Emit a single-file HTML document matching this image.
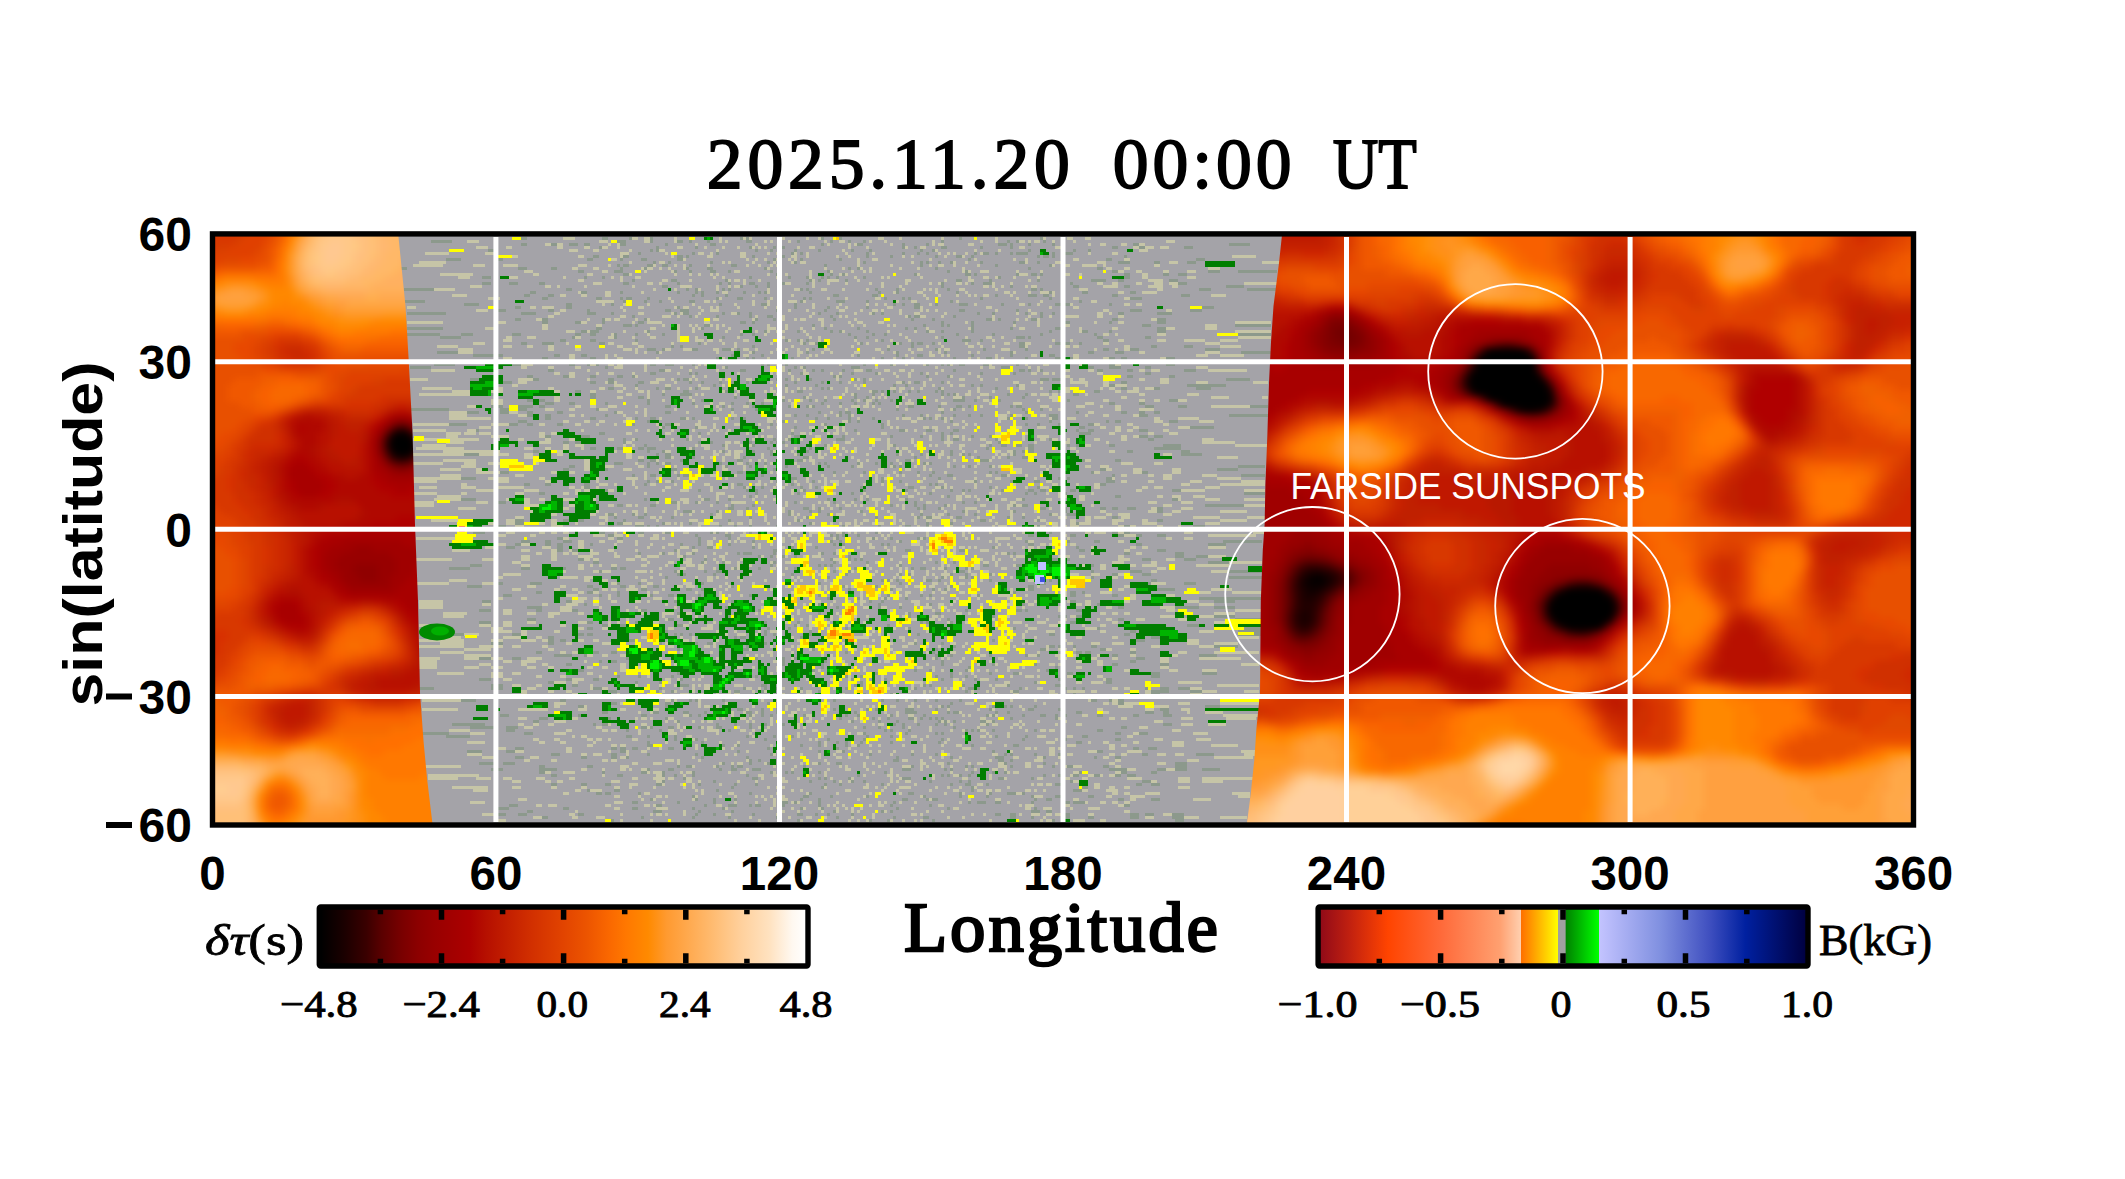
<!DOCTYPE html><html><head><meta charset="utf-8"><style>html,body{margin:0;padding:0;background:#fff;width:2125px;height:1179px;overflow:hidden}svg{display:block}</style></head><body>
<svg width="2125" height="1179" viewBox="0 0 2125 1179">
<defs>
<clipPath id="cl"><polygon points="213.0,235.0 398.3,235.0 405.5,306.0 408.5,357.0 412.6,434.0 415.0,525.0 418.0,601.0 420.0,693.0 423.6,742.0 427.2,780.0 432.5,824.0 213.0,824.0"/></clipPath>
<clipPath id="cr"><polygon points="1282.0,235.0 1279.0,263.0 1273.5,306.0 1271.0,342.0 1269.0,383.0 1267.4,434.0 1265.4,485.0 1264.6,525.0 1262.8,550.0 1260.8,601.0 1260.0,693.0 1256.4,729.0 1254.4,759.0 1250.6,795.0 1246.8,824.0 1913.0,824.0 1913.0,235.0"/></clipPath>
<clipPath id="cm"><rect x="213" y="235" width="1700" height="589"/></clipPath>
<filter id="bl" x="-2%" y="-2%" width="104%" height="104%" color-interpolation-filters="sRGB"><feGaussianBlur stdDeviation="3.5"/></filter><filter id="bm" x="-1%" y="-1%" width="102%" height="102%" color-interpolation-filters="sRGB"><feGaussianBlur stdDeviation="0.6"/></filter>
</defs>
<g clip-path="url(#cm)">
<rect x="213" y="235" width="1700" height="589" fill="#a4a3a8"/>
<g filter="url(#bm)"><g transform="translate(215,238.5) scale(3)" fill="none" stroke-width="1"><path stroke="#8c998c" d="M0 0m102 0h2m25 0h2m7 0h1m6 0h1m29 0h1m1 0h1m24 0h1m5 0h1m39 0h1m26 0h1m-204 1h7m55 0h3m8 0h1m8 0h2m2 0h1m5 0h1m12 0h2m15 0h1m10 0h1m5 0h1m4 0h1m25 0h1m21 0h1m2 0h1m8 0h1m-175 1h2m8 0h2m4 0h3m2 0h2m10 0h2m13 0h1m14 0h2m35 0h1m11 0h2m13 0h1m7 0h1m23 0h3m1 0h1m5 0h1m7 0h1m26 0h2m30 0h7m-217 1h1m18 0h1m12 0h1m17 0h1m7 0h1m2 0h1m39 0h1m3 0h1m8 0h2m11 0h1m9 0h1m33 0h2m7 0h2m13 0h3m-235 1h3m51 0h1m1 0h1m32 0h1m4 0h1m7 0h1m7 0h1m10 0h1m5 0h1m16 0h1m3 0h1m31 0h1m14 0h1m4 0h1m-151 1h1m17 0h1m7 0h1m24 0h1m2 0h1m21 0h1m11 0h1m4 0h1m2 0h1m15 0h1m2 0h2m2 0h1m4 0h1m1 0h4m8 0h1m3 0h3m-160 1h2m8 0h2m16 0h2m1 0h1m21 0h1m9 0h1m27 0h1m7 0h1m14 0h1m6 0h2m3 0h1m21 0h1m1 0h2m1 0h1m23 0h1m-227 1h5m11 0h3m28 0h2m9 0h1m6 0h2m10 0h2m30 0h1m8 0h1m12 0h1m42 0h1m45 0h2m28 0h3m-184 1h1m4 0h1m13 0h1m18 0h1m8 0h1m22 0h1m18 0h1m1 0h1m3 0h1m3 0h1m9 0h1m12 0h2m4 0h1m26 0h4m8 0h2m9 0h3m-193 1h1m1 0h2m6 0h2m3 0h2m7 0h1m13 0h2m29 0h1m31 0h1m24 0h1m17 0h1m-217 1h2m37 0h3m8 0h2m21 0h1m7 0h1m13 0h1m6 0h2m17 0h1m27 0h1m2 0h1m25 0h1m30 0h1m22 0h2m-175 1h2m10 0h3m17 0h1m4 0h1m6 0h2m4 0h1m13 0h1m18 0h1m39 0h1m5 0h1m48 0h2m30 0h4m6 0h13m-218 1h2m49 0h1m17 0h1m3 0h1m23 0h1m16 0h2m1 0h1m13 0h1m4 0h2m1 0h1m27 0h2m11 0h2m3 0h3m-235 1h3m31 0h1m5 0h1m48 0h1m12 0h1m5 0h1m4 0h1m1 0h1m2 0h1m8 0h1m44 0h1m20 0h1m20 0h2m-166 1h1m12 0h2m16 0h1m27 0h1m2 0h1m8 0h1m36 0h2m9 0h1m15 0h1m17 0h5m4 0h2m15 0h3m-232 1h3m6 0h3m7 0h2m26 0h2m16 0h1m13 0h1m2 0h1m6 0h2m4 0h1m4 0h1m7 0h1m44 0h1m9 0h1m3 0h3m26 0h1m35 0h3m-175 1h2m24 0h1m4 0h1m3 0h1m57 0h1m22 0h1m20 0h2m15 0h2m32 0h6m-280 1h10m44 0h2m38 0h1m2 0h1m8 0h1m1 0h1m23 0h1m1 0h1m22 0h1m6 0h1m16 0h1m27 0h2m1 0h1m52 0h4m12 0h10m-249 1h2m15 0h2m11 0h1m18 0h1m5 0h1m1 0h1m4 0h1m8 0h1m4 0h1m1 0h1m14 0h1m22 0h1m5 0h1m19 0h1m30 0h1m10 0h2m14 0h2m-204 1h2m6 0h2m46 0h1m2 0h1m7 0h1m35 0h2m11 0h2m39 0h1m10 0h3m2 0h2m21 0h2m21 0h3m-216 1h2m16 0h2m6 0h1m1 0h2m5 0h1m22 0h1m6 0h2m7 0h1m12 0h1m1 0h1m24 0h1m5 0h1m1 0h1m23 0h1m22 0h1m26 0h4m-246 1h7m66 0h1m6 0h1m4 0h1m9 0h2m35 0h1m11 0h3m7 0h1m27 0h1m42 0h1m-206 1h5m29 0h2m13 0h1m35 0h1m13 0h2m4 0h1m4 0h1m32 0h1m2 0h1m3 0h2m5 0h1m7 0h3m11 0h1m8 0h1m8 0h2m1 0h2m13 0h1m-199 1h2m15 0h2m35 0h1m38 0h1m10 0h1m12 0h1m15 0h2m94 0h4m-239 1h3m14 0h2m11 0h1m25 0h2m3 0h3m29 0h1m15 0h1m44 0h2m17 0h1m37 0h4m16 0h4m-265 1h13m25 0h5m17 0h3m5 0h1m20 0h1m2 0h2m11 0h1m4 0h1m3 0h1m22 0h1m5 0h1m11 0h1m2 0h1m31 0h1m4 0h1m10 0h1m4 0h1m3 0h1m21 0h2m11 0h5m-180 1h1m18 0h1m8 0h1m10 0h1m5 0h2m2 0h1m16 0h1m25 0h1m1 0h2m11 0h1m28 0h1m-176 1h2m7 0h2m18 0h1m13 0h1m36 0h1m5 0h1m1 0h1m17 0h1m25 0h1m6 0h1m17 0h2m2 0h1m10 0h2m25 0h2m13 0h3m-208 1h2m9 0h2m7 0h1m11 0h2m32 0h2m2 0h1m62 0h1m9 0h1m13 0h1m16 0h2m13 0h1m15 0h3m-181 1h3m1 0h1m22 0h2m34 0h1m36 0h1m5 0h1m1 0h1m7 0h1m56 0h3m28 0h12m-288 1h12m51 0h2m33 0h1m40 0h1m10 0h1m15 0h1m2 0h1m18 0h1m12 0h1m14 0h2m32 0h3m-195 1h2m1 0h3m16 0h1m38 0h1m10 0h1m10 0h1m2 0h1m8 0h1m19 0h1m4 0h1m9 0h1m25 0h1m10 0h2m7 0h1m15 0h3m-253 1h11m7 0h4m13 0h3m18 0h2m3 0h2m6 0h1m6 0h1m8 0h1m25 0h1m3 0h1m31 0h1m7 0h1m3 0h1m23 0h1m11 0h1m15 0h1m17 0h1m47 0h11m-277 1h7m37 0h1m13 0h1m35 0h1m43 0h1m3 0h1m24 0h1m24 0h3m1 0h1m22 0h2m14 0h2m-197 1h2m8 0h2m13 0h1m49 0h1m3 0h1m2 0h1m24 0h1m26 0h3m3 0h1m40 0h2m-196 1h2m5 0h4m15 0h2m31 0h1m34 0h1m3 0h1m14 0h1m12 0h1m3 0h1m1 0h2m3 0h1m28 0h2m10 0h2m1 0h2m3 0h1m-137 1h1m2 0h1m23 0h1m52 0h1m35 0h2m42 0h2m9 0h3m-182 1h3m2 0h1m9 0h2m8 0h3m2 0h1m24 0h1m24 0h1m15 0h1m15 0h1m13 0h1m25 0h2m7 0h3m22 0h5m-261 1h7m66 0h1m31 0h1m17 0h1m29 0h1m15 0h1m21 0h1m25 0h2m7 0h3m39 0h10m-266 1h10m17 0h2m7 0h2m48 0h1m9 0h1m31 0h1m12 0h1m6 0h2m16 0h1m12 0h1m12 0h2m-171 1h2m14 0h2m40 0h1m9 0h1m1 0h1m12 0h1m29 0h1m6 0h1m16 0h1m10 0h2m11 0h1m9 0h2m3 0h1m12 0h2m2 0h2m13 0h3m-239 1h5m13 0h3m4 0h3m2 0h2m34 0h1m12 0h1m12 0h1m23 0h1m53 0h1m-179 1h7m19 0h3m16 0h2m4 0h1m2 0h1m17 0h2m3 0h3m6 0h1m22 0h1m1 0h1m5 0h1m25 0h1m8 0h1m11 0h1m4 0h1m1 0h1m3 0h2m6 0h2m9 0h1m30 0h2m17 0h3m-255 1h7m58 0h1m39 0h1m22 0h1m2 0h1m15 0h3m47 0h3m26 0h2m5 0h4m8 0h2m-201 1h2m35 0h2m25 0h2m14 0h1m7 0h1m2 0h1m6 0h1m7 0h2m27 0h1m21 0h2m1 0h1m3 0h1m18 0h2m8 0h2m17 0h4m-182 1h2m11 0h1m1 0h1m34 0h1m16 0h1m7 0h1m14 0h1m19 0h1m10 0h1m43 0h2m-208 1h2m10 0h2m7 0h2m7 0h2m3 0h1m66 0h1m1 0h1m28 0h1m6 0h1m59 0h2m12 0h2m-235 1h3m18 0h2m23 0h2m21 0h1m1 0h2m29 0h1m2 0h1m7 0h1m14 0h1m2 0h1m58 0h3m1 0h3m55 0h8m-249 1h3m26 0h2m4 0h2m8 0h2m15 0h1m3 0h1m5 0h1m3 0h1m4 0h1m15 0h1m8 0h1m5 0h1m7 0h1m12 0h1m3 0h2m7 0h1m59 0h2m-164 1h1m25 0h1m23 0h1m9 0h1m25 0h1m3 0h1m21 0h1m2 0h1m11 0h1m30 0h2m24 0h13m-206 1h2m14 0h1m2 0h2m8 0h1m41 0h1m1 0h1m36 0h1m18 0h1m41 0h2m9 0h2m12 0h5m-212 1h2m34 0h2m12 0h1m23 0h2m23 0h2m1 0h1m3 0h1m4 0h1m2 0h1m5 0h1m1 0h1m35 0h1m2 0h1m11 0h2m-203 1h1m32 0h2m22 0h1m5 0h4m54 0h1m5 0h1m22 0h1m1 0h1m1 0h1m17 0h1m5 0h1m15 0h2m-163 1h2m14 0h2m30 0h1m14 0h1m7 0h1m16 0h1m3 0h1m31 0h1m8 0h1m10 0h1m-166 1h2m2 0h2m34 0h1m17 0h1m26 0h1m8 0h1m4 0h1m8 0h1m3 0h1m3 0h1m4 0h1m20 0h4m3 0h1m7 0h1m22 0h1m33 0h3m-211 1h3m5 0h2m10 0h1m13 0h1m14 0h1m12 0h1m4 0h1m4 0h1m19 0h1m5 0h1m4 0h1m5 0h1m1 0h1m76 0h2m8 0h2m-218 1h4m5 0h5m2 0h2m40 0h2m17 0h1m9 0h1m11 0h1m5 0h1m1 0h1m31 0h2m8 0h1m5 0h2m2 0h1m13 0h1m1 0h2m41 0h3m8 0h3m21 0h6m-286 1h13m17 0h3m3 0h3m23 0h1m44 0h1m7 0h1m46 0h1m18 0h1m22 0h1m5 0h1m-192 1h4m7 0h3m6 0h2m8 0h2m17 0h1m16 0h2m49 0h1m6 0h1m1 0h2m30 0h1m27 0h1m16 0h1m14 0h2m4 0h2m3 0h2m-211 1h2m4 0h2m18 0h1m62 0h1m3 0h1m10 0h1m2 0h1m17 0h1m5 0h1m10 0h1m4 0h1m3 0h1m9 0h1m12 0h3m27 0h3m27 0h13m-241 1h2m13 0h2m13 0h1m4 0h2m8 0h2m2 0h1m12 0h1m3 0h1m23 0h1m3 0h1m6 0h1m7 0h1m16 0h1m1 0h1m3 0h1m21 0h1m5 0h1m8 0h2m-180 1h3m40 0h1m44 0h1m21 0h1m2 0h1m30 0h1m32 0h1m18 0h1m2 0h2m16 0h3m-243 1h6m14 0h3m3 0h2m8 0h2m23 0h1m10 0h2m33 0h1m17 0h1m18 0h1m47 0h1m3 0h1m6 0h1m9 0h2m-144 1h1m10 0h1m32 0h1m28 0h1m65 0h2m35 0h8m-246 1h1m125 0h1m14 0h2m7 0h2m7 0h2m39 0h1m3 0h2m15 0h3m-183 1h2m31 0h1m30 0h1m49 0h1m2 0h1m42 0h4m-182 1h2m10 0h3m68 0h2m14 0h1m15 0h1m9 0h1m6 0h1m9 0h1m5 0h1m49 0h3m2 0h3m-180 1h1m3 0h1m16 0h1m28 0h1m4 0h1m15 0h3m32 0h1m3 0h2m12 0h1m17 0h1m32 0h2m-197 1h2m2 0h2m14 0h1m24 0h1m3 0h1m12 0h1m6 0h1m1 0h1m1 0h1m71 0h1m-119 1h1m25 0h1m9 0h1m23 0h1m22 0h1m31 0h1m3 0h2m3 0h2m2 0h2m11 0h1m2 0h1m10 0h2m16 0h6m-197 1h2m7 0h2m5 0h2m1 0h3m12 0h1m24 0h1m13 0h1m58 0h1m13 0h2m40 0h9m-216 1h2m36 0h1m4 0h1m19 0h1m9 0h1m5 0h1m11 0h1m47 0h1m20 0h1m2 0h1m1 0h2m31 0h2m16 0h3m-242 1h5m59 0h1m2 0h2m33 0h1m8 0h1m32 0h1m7 0h1m9 0h1m3 0h1m1 0h1m14 0h1m55 0h7m-179 1h2m7 0h1m16 0h1m11 0h1m7 0h2m35 0h1m20 0h1m9 0h1m4 0h2m-130 1h2m2 0h2m8 0h1m18 0h2m18 0h2m34 0h2m23 0h3m31 0h1m10 0h2m-169 1h3m8 0h1m2 0h1m2 0h2m16 0h1m8 0h1m5 0h1m17 0h1m1 0h1m10 0h1m5 0h1m4 0h1m10 0h1m1 0h1m-121 1h2m24 0h1m25 0h1m7 0h1m11 0h1m13 0h1m7 0h1m13 0h1m1 0h1m17 0h1m4 0h1m6 0h1m82 0h9m-234 1h2m12 0h1m21 0h2m32 0h1m108 0h2m37 0h7m-246 1h3m76 0h2m30 0h1m9 0h1m11 0h1m5 0h1m4 0h1m18 0h1m1 0h1m31 0h1m16 0h2m-172 1h1m5 0h2m7 0h1m1 0h2m24 0h1m55 0h1m5 0h2m16 0h2m35 0h1m42 0h8m-268 1h5m105 0h2m28 0h1m18 0h1m39 0h1m2 0h1m12 0h2m-155 1h1m2 0h1m4 0h1m34 0h1m11 0h1m22 0h1m5 0h1m24 0h1m11 0h1m7 0h2m22 0h3m-197 1h2m5 0h2m11 0h2m18 0h1m30 0h2m16 0h1m45 0h1m1 0h1m54 0h2m-174 1h2m51 0h1m5 0h1m12 0h1m4 0h1m14 0h1m15 0h2m9 0h1m15 0h1m15 0h1m-145 1h1m30 0h1m15 0h1m2 0h1m15 0h1m19 0h1m13 0h1m14 0h1m3 0h1m1 0h1m10 0h1m8 0h2m2 0h2m8 0h2m32 0h3m-214 1h2m70 0h1m13 0h1m17 0h1m25 0h1m31 0h1m2 0h1m8 0h2m59 0h7m-172 1h1m65 0h1m55 0h2m-220 1h5m56 0h1m19 0h2m6 0h1m32 0h1m8 0h1m3 0h1m12 0h1m38 0h1m49 0h2m-227 1h3m30 0h1m24 0h2m6 0h1m6 0h1m25 0h1m12 0h1m26 0h1m15 0h1m3 0h1m-120 1h2m9 0h2m25 0h1m6 0h1m45 0h1m7 0h1m2 0h1m6 0h1m22 0h1m2 0h2m59 0h13m-172 1h2m4 0h1m18 0h2m3 0h1m6 0h1m25 0h1m1 0h1m4 0h1m33 0h2m5 0h2m11 0h2m2 0h2m3 0h3m7 0h2m-160 1h3m8 0h1m23 0h1m6 0h1m2 0h1m13 0h1m33 0h1m16 0h1m15 0h2m30 0h2m-185 1h2m6 0h1m3 0h1m21 0h1m25 0h1m12 0h1m30 0h1m8 0h1m8 0h1m24 0h1m5 0h3m-154 1h1m7 0h2m9 0h1m25 0h1m18 0h1m22 0h1m13 0h1m2 0h2m8 0h2m15 0h1m4 0h1m29 0h2m-201 1h3m13 0h2m3 0h2m13 0h1m34 0h1m22 0h1m60 0h2m17 0h1m39 0h2m-216 1h3m31 0h2m13 0h1m8 0h1m39 0h1m38 0h1m7 0h1m41 0h1m-194 1h3m34 0h2m7 0h3m1 0h1m2 0h1m20 0h1m4 0h1m4 0h1m8 0h1m21 0h1m11 0h1m8 0h2m5 0h1m36 0h1m28 0h2m21 0h4m-263 1h4m29 0h5m43 0h1m13 0h1m16 0h1m17 0h1m19 0h1m40 0h1m6 0h1m37 0h2m41 0h4m-264 1h4m38 0h2m11 0h2m7 0h2m13 0h1m1 0h1m10 0h1m30 0h1m10 0h1m57 0h1m20 0h2m2 0h2m-174 1h2m27 0h1m9 0h2m33 0h1m1 0h1m1 0h1m4 0h1m56 0h2m12 0h2m14 0h2m4 0h2m5 0h3m-203 1h2m18 0h2m25 0h1m9 0h1m35 0h1m11 0h1m5 0h1m8 0h1m1 0h1m-135 1h3m5 0h2m4 0h3m42 0h1m17 0h1m25 0h1m2 0h1m19 0h1m41 0h1m13 0h1m8 0h2m41 0h13m-249 1h2m8 0h2m2 0h2m9 0h1m29 0h1m5 0h1m9 0h1m34 0h1m2 0h1m12 0h1m1 0h1m46 0h2m34 0h2m22 0h6m-240 1h3m14 0h2m43 0h1m4 0h2m13 0h1m8 0h1m3 0h1m7 0h1m58 0h1m27 0h1m-174 1h2m3 0h2m32 0h1m32 0h2m42 0h2m16 0h2m38 0h2m24 0h3m-176 1h1m7 0h1m9 0h1m14 0h1m1 0h3m7 0h1m15 0h1m3 0h1m57 0h1m1 0h1m36 0h2m15 0h3m-167 1h1m24 0h1m3 0h1m3 0h1m3 0h1m17 0h1m108 0h3m4 0h4m-210 1h2m40 0h1m41 0h1m5 0h1m1 0h1m1 0h1m63 0h2m3 0h1m24 0h3m11 0h4m-201 1h2m34 0h1m6 0h1m16 0h1m19 0h1m10 0h1m22 0h1m5 0h1m84 0h7m-253 1h4m96 0h1m15 0h1m1 0h1m1 0h1m22 0h1m27 0h2m9 0h2m23 0h1m-215 1h7m17 0h3m11 0h1m15 0h2m1 0h2m36 0h1m7 0h1m11 0h1m19 0h1m18 0h1m2 0h2m6 0h1m6 0h1m1 0h1m-125 1h1m24 0h1m9 0h1m3 0h2m37 0h1m4 0h1m36 0h2m42 0h1m12 0h4m29 0h11m-195 1h1m1 0h1m9 0h1m25 0h1m17 0h1m17 0h1m2 0h1m13 0h1m4 0h1m7 0h1m40 0h2m8 0h3m-162 1h1m53 0h1m37 0h1m7 0h1m1 0h1m39 0h1m45 0h11m-127 1h1m1 0h1m2 0h1m9 0h2m2 0h1m16 0h1m19 0h1m33 0h2m-221 1h3m9 0h4m25 0h1m6 0h1m20 0h1m38 0h1m26 0h1m46 0h2m34 0h1m11 0h4m-243 1h5m35 0h2m9 0h2m9 0h2m24 0h1m36 0h1m10 0h1m24 0h1m25 0h2m-147 1h2m14 0h2m13 0h2m3 0h1m48 0h1m13 0h1m13 0h1m3 0h1m27 0h2m41 0h6m-213 1h2m15 0h2m8 0h1m131 0h1m18 0h2m2 0h1m-194 1h3m29 0h1m5 0h1m10 0h1m5 0h2m8 0h1m16 0h1m22 0h1m22 0h1m10 0h1m2 0h1m15 0h1m30 0h2m12 0h2m-97 1h1m9 0h1m8 0h1m6 0h1m97 0h21m-260 1h3m25 0h2m34 0h1m18 0h1m45 0h1m3 0h1m62 0h2m46 0h7m-217 1h1m77 0h1m19 0h1m16 0h1m30 0h1m24 0h1m-191 1h5m61 0h1m17 0h1m18 0h1m13 0h1m6 0h1m72 0h2m17 0h8m5 0h7m-252 1h4m15 0h2m10 0h2m21 0h2m37 0h1m68 0h1m16 0h2m1 0h1m16 0h2m-135 1h1m46 0h1m29 0h1m8 0h2m-71 1h1m59 0h1m27 0h1m21 0h3m3 0h2m44 0h7m-236 1h3m44 0h2m6 0h1m44 0h1m39 0h1m56 0h2m37 0h9m-261 1h4m32 0h2m14 0h1m42 0h1m10 0h1m40 0h1m1 0h1m7 0h1m39 0h2m-158 1h2m4 0h2m17 0h2m37 0h1m3 0h1m26 0h1m99 0h4m-204 1h2m58 0h1m6 0h1m18 0h1m20 0h1m34 0h1m27 0h1m48 0h6m-199 1h1m32 0h1m14 0h1m106 0h2m34 0h8m-274 1h8m16 0h3m19 0h2m1 0h2m27 0h1m1 0h1m2 0h1m24 0h1m2 0h1m11 0h1m35 0h1m43 0h2m23 0h2m36 0h8m-238 1h2m60 0h1m1 0h2m18 0h1m116 0h3m-204 1h2m2 0h2m21 0h2m119 0h1m47 0h3m-218 1h4m15 0h2m35 0h1m11 0h1m3 0h2m17 0h1m21 0h1m27 0h1m8 0h1m-66 1h1m68 0h1m31 0h2m1 0h2m3 0h1m5 0h2m39 0h8m-187 1h1m21 0h2m21 0h1m40 0h1m34 0h2m18 0h2m-190 1h2m17 0h2m4 0h2m76 0h1m28 0h1m47 0h2m1 0h2m13 0h2m-194 1h6m4 0h1m116 0h1m4 0h1m12 0h1m11 0h1m3 0h1m24 0h2m27 0h6m-246 1h4m7 0h3m35 0h1m42 0h1m7 0h2m3 0h1m46 0h1m66 0h3m-182 1h1m3 0h2m18 0h1m36 0h1m13 0h1m38 0h1m62 0h2m-190 1h2m70 0h1m12 0h1m39 0h1m16 0h1m13 0h1m25 0h2m14 0h3m-116 1h1m48 0h1m28 0h1m-160 1h2m76 0h1m33 0h1m4 0h1m11 0h1m26 0h1m-124 1h1m65 0h1m24 0h1m12 0h1m7 0h2m16 0h2m26 0h3m14 0h5m-200 1h1m6 0h1m10 0h1m27 0h1m29 0h1m4 0h1m24 0h1m4 0h1m4 0h1m61 0h3m-227 1h4m25 0h2m7 0h2m27 0h1m56 0h1m10 0h1m18 0h1m10 0h1m6 0h1m20 0h2m14 0h2m-188 1h2m27 0h1m7 0h1m66 0h1m57 0h1m23 0h2m-207 1h4m23 0h2m34 0h3m24 0h2m29 0h1m1 0h1m20 0h1m1 0h1m10 0h1m14 0h1m15 0h3m-215 1h5m19 0h4m30 0h3m19 0h1m27 0h1m6 0h1m3 0h1m7 0h1m14 0h1m22 0h1m17 0h2m1 0h1m13 0h1m14 0h1m2 0h1m2 0h1m20 0h1m4 0h3m3 0h4m-194 1h3m13 0h1m4 0h1m20 0h2m7 0h1m18 0h1m48 0h1m15 0h2m44 0h6m7 0h4m-169 1h1m55 0h1m8 0h1m60 0h1m25 0h3m-187 1h1m29 0h1m56 0h1m7 0h1m4 0h2m11 0h1m19 0h2m42 0h3m21 0h6m-253 1h5m28 0h2m35 0h1m5 0h1m1 0h1m8 0h1m36 0h1m15 0h1m4 0h1m5 0h1m6 0h1m7 0h1m43 0h2m4 0h1m2 0h2m-171 1h2m16 0h2m32 0h1m60 0h1m55 0h2m-182 1h2m27 0h1m91 0h1m1 0h1m14 0h1m3 0h1m1 0h1m7 0h1m56 0h5m-161 1h2m6 0h1m4 0h1m18 0h1m10 0h1m2 0h1m9 0h3m7 0h1m17 0h1m12 0h2m8 0h2m32 0h3m-189 1h2m15 0h2m8 0h2m5 0h1m13 0h2m3 0h1m4 0h1m25 0h1m16 0h4m10 0h1m1 0h2m12 0h1m3 0h1m22 0h2m21 0h3m3 0h2m-223 1h3m23 0h1m20 0h2m14 0h1m2 0h1m16 0h1m3 0h1m2 0h1m10 0h1m13 0h1m3 0h1m10 0h1m10 0h1m20 0h1m1 0h1m9 0h1m5 0h2m3 0h1m2 0h1m10 0h2m10 0h2m8 0h3m-211 1h3m20 0h1m18 0h1m57 0h1m10 0h1m4 0h1m6 0h2m2 0h1m2 0h1m1 0h1m1 0h1m22 0h1m14 0h1m-175 1h2m46 0h1m57 0h1m8 0h1m5 0h1m13 0h1m1 0h1m2 0h1m8 0h2m2 0h1m-181 1h11m36 0h1m2 0h2m36 0h1m5 0h1m4 0h1m4 0h1m5 0h1m36 0h1m2 0h1m4 0h1m5 0h1m2 0h1m13 0h1m58 0h3m-234 1h9m3 0h4m41 0h2m1 0h1m5 0h2m8 0h1m5 0h2m9 0h1m37 0h1m4 0h1m7 0h1m16 0h1m55 0h2m-207 1h3m37 0h1m10 0h1m22 0h1m51 0h1m1 0h1m5 0h1m18 0h1m1 0h1m1 0h1m4 0h1m13 0h1m20 0h2m-227 1h9m25 0h3m110 0h1m13 0h1m9 0h1m1 0h1m57 0h2m6 0h3m-234 1h8m52 0h2m5 0h1m8 0h1m23 0h1m8 0h1m5 0h1m24 0h1m7 0h1m34 0h1m9 0h1m18 0h2m-138 1h1m6 0h1m22 0h1m20 0h1m11 0h1m25 0h1m26 0h1m13 0h1m16 0h2m-158 1h1m17 0h1m38 0h1m5 0h1m2 0h1m4 0h1m9 0h1m15 0h1m45 0h2m-145 1h2m23 0h1m4 0h1m20 0h1m5 0h1m8 0h1m3 0h1m37 0h1m13 0h2m-168 1h3m29 0h2m1 0h2m2 0h2m10 0h2m31 0h1m22 0h1m98 0h2m3 0h3m-230 1h5m8 0h3m35 0h2m37 0h1m26 0h1m7 0h1m49 0h1m34 0h2m-184 1h3m17 0h2m10 0h1m15 0h1m24 0h1m32 0h1m13 0h1m7 0h1m22 0h1m1 0h1m7 0h1m7 0h2m26 0h2m16 0h6m-233 1h3m19 0h2m8 0h2m3 0h1m24 0h1m14 0h1m10 0h1m38 0h1m17 0h1m14 0h3m13 0h1m16 0h1m6 0h2m-124 1h1m2 0h1m44 0h2m33 0h2m2 0h1m-178 1h5m3 0h4m69 0h1m8 0h1m5 0h1m16 0h1m5 0h2m35 0h1m18 0h1m12 0h1m43 0h4m-216 1h2m14 0h2m28 0h1m2 0h2m8 0h1m4 0h1m1 0h2m20 0h1m35 0h1m17 0h1m1 0h1m12 0h1m13 0h1m4 0h2m10 0h2m22 0h4m-232 1h4m12 0h6m30 0h1m6 0h2m15 0h1m3 0h2m5 0h3m47 0h3m11 0h1m1 0h1m52 0h6m10 0h3m3 0h4m5 0h6m-227 1h2m19 0h1m12 0h2m5 0h1m9 0h1m25 0h1m4 0h1m1 0h1m8 0h1m21 0h1m28 0h1m6 0h1m3 0h1m24 0h1m13 0h2m8 0h2m-202 1h2m20 0h2m13 0h1m3 0h1m5 0h1m17 0h1m36 0h1m27 0h1m1 0h1m3 0h1m2 0h1m24 0h1m4 0h2m3 0h2m5 0h2m5 0h2m2 0h3m-151 1h1m22 0h2m7 0h1m12 0h1m1 0h1m7 0h1m17 0h3m29 0h2m9 0h1m-124 1h1m16 0h1m31 0h1m7 0h1m5 0h1m3 0h1m21 0h1m9 0h1m2 0h1m33 0h1m23 0h3m-200 1h2m8 0h2m6 0h2m15 0h2m12 0h1m11 0h1m6 0h1m22 0h1m4 0h1m13 0h1m22 0h1m4 0h2m5 0h1m22 0h2m25 0h2m3 0h3m-143 1h1m29 0h1m49 0h1m36 0h2m-167 1h1m8 0h2m32 0h1m20 0h1m63 0h1m33 0h3m-162 1h2m1 0h2m9 0h1m36 0h1m19 0h1m32 0h2m15 0h1m9 0h1m5 0h3m2 0h1m-111 1h1m36 0h2m7 0h1m11 0h1m18 0h1m11 0h1m8 0h1m14 0h1m7 0h2m9 0h2m-148 1h1m14 0h1m5 0h1m6 0h1m21 0h1m5 0h1m27 0h2m6 0h1m1 0h2m32 0h1m3 0h2m3 0h1m18 0h2m9 0h3m-176 1h2m13 0h1m11 0h1m22 0h2m2 0h1m7 0h1m24 0h1m24 0h1m2 0h3m3 0h2m10 0h1m10 0h2m1 0h4m-192 1h3m46 0h2m14 0h1m7 0h3m4 0h1m1 0h2m7 0h1m11 0h1m23 0h1m12 0h1m64 0h2m-211 1h4m18 0h2m21 0h2m18 0h1m9 0h1m25 0h1m6 0h1m24 0h1m16 0h1m28 0h1m-170 1h2m40 0h3m12 0h1m10 0h1m33 0h1m15 0h1m2 0h1m46 0h3m2 0h2m-185 1h3m4 0h3m17 0h2m37 0h1m5 0h1m12 0h1m14 0h2m4 0h1m3 0h1m7 0h1m47 0h2m3 0h2m16 0h2m20 0h3m2 0h3m6 0h4m-214 1h2m31 0h1m16 0h1m11 0h1m15 0h1m19 0h1m18 0h1m9 0h2m27 0h2m5 0h1m10 0h2m6 0h2m12 0h3m11 0h4m-191 1h1m61 0h1m23 0h1m5 0h1m14 0h1m39 0h1m40 0h3"/><path stroke="#c6c5a7" d="M0 0m116 0h4m19 0h2m2 0h2m8 0h1m14 0h1m7 0h1m1 0h1m10 0h1m7 0h1m3 0h1m19 0h2m5 0h1m13 0h1m17 0h1m15 0h1m7 0h2m4 0h2m-208 1h4m40 0h3m12 0h2m8 0h1m14 0h1m1 0h1m12 0h1m1 0h1m5 0h1m11 0h1m4 0h2m8 0h1m4 0h1m15 0h1m15 0h1m4 0h1m7 0h2m1 0h1m1 0h2m4 0h1m6 0h1m30 0h3m-210 1h2m2 0h2m15 0h1m2 0h1m25 0h1m19 0h1m7 0h1m15 0h1m6 0h1m1 0h1m11 0h1m13 0h1m1 0h2m8 0h2m38 0h1m3 0h2m5 0h2m4 0h2m-223 1h4m6 0h2m15 0h2m7 0h2m4 0h2m3 0h1m19 0h2m7 0h1m5 0h1m4 0h1m4 0h1m1 0h1m1 0h1m10 0h1m3 0h2m11 0h1m5 0h1m12 0h1m4 0h2m31 0h2m10 0h2m24 0h2m2 0h3m2 0h3m-200 1h3m5 0h2m10 0h1m9 0h2m17 0h1m20 0h1m20 0h1m30 0h1m12 0h1m7 0h1m46 0h3m-241 1h8m12 0h4m41 0h3m12 0h1m10 0h2m2 0h1m9 0h2m7 0h1m2 0h1m5 0h1m3 0h1m12 0h1m8 0h1m21 0h1m2 0h1m1 0h1m3 0h1m4 0h1m35 0h1m7 0h2m-202 1h2m20 0h2m12 0h1m16 0h1m11 0h2m9 0h2m15 0h2m3 0h1m9 0h1m3 0h1m17 0h1m2 0h1m10 0h1m5 0h1m89 0h8m-215 1h2m22 0h1m20 0h1m2 0h1m2 0h1m3 0h1m3 0h1m1 0h1m20 0h1m4 0h2m17 0h1m14 0h1m12 0h1m3 0h1m11 0h1m3 0h2m15 0h2m-237 1h9m61 0h1m9 0h2m19 0h1m1 0h1m7 0h1m6 0h1m5 0h1m2 0h2m17 0h1m17 0h1m13 0h1m3 0h1m19 0h1m9 0h2m12 0h3m21 0h3m28 0h6m-289 1h10m10 0h4m6 0h5m20 0h3m7 0h1m14 0h1m6 0h1m2 0h1m7 0h1m12 0h1m3 0h1m3 0h1m1 0h1m26 0h1m10 0h1m12 0h1m2 0h2m3 0h1m7 0h1m24 0h1m3 0h2m4 0h5m2 0h1m16 0h2m-196 1h2m5 0h2m14 0h1m1 0h2m2 0h1m2 0h1m4 0h1m27 0h1m18 0h1m5 0h1m5 0h1m2 0h1m9 0h1m5 0h1m14 0h1m47 0h2m4 0h2m26 0h4m-232 1h3m23 0h2m12 0h1m8 0h1m20 0h2m13 0h1m9 0h1m6 0h1m6 0h1m3 0h1m1 0h1m30 0h1m1 0h1m3 0h3m9 0h1m7 0h1m6 0h1m18 0h2m4 0h2m7 0h2m6 0h3m-252 1h11m20 0h2m16 0h2m12 0h1m14 0h1m4 0h1m2 0h1m3 0h1m1 0h1m16 0h1m3 0h1m1 0h1m7 0h1m9 0h1m1 0h1m23 0h1m33 0h3m12 0h2m3 0h1m20 0h2m-230 1h4m13 0h3m15 0h1m15 0h1m2 0h1m4 0h2m24 0h1m2 0h1m17 0h1m10 0h1m14 0h1m8 0h1m1 0h1m10 0h1m15 0h1m4 0h2m2 0h1m5 0h1m7 0h1m34 0h2m13 0h3m-206 1h2m12 0h1m13 0h2m7 0h1m12 0h1m1 0h2m1 0h1m4 0h1m6 0h1m10 0h1m4 0h4m6 0h1m15 0h2m11 0h1m7 0h2m18 0h1m39 0h5m-190 1h3m15 0h2m2 0h1m27 0h1m13 0h2m7 0h1m4 0h1m5 0h1m7 0h1m3 0h1m7 0h1m7 0h1m2 0h1m5 0h2m1 0h1m8 0h1m5 0h1m28 0h2m3 0h2m6 0h2m4 0h3m2 0h3m22 0h11m-269 1h4m21 0h2m2 0h1m8 0h1m15 0h1m15 0h4m8 0h1m3 0h1m1 0h2m24 0h1m22 0h1m5 0h1m27 0h2m1 0h1m2 0h1m7 0h1m1 0h2m8 0h1m13 0h5m10 0h5m3 0h2m-248 1h7m66 0h1m6 0h1m7 0h1m5 0h1m16 0h1m8 0h2m7 0h2m5 0h1m7 0h1m11 0h1m6 0h1m1 0h1m1 0h1m7 0h2m10 0h1m27 0h3m23 0h2m-195 1h1m8 0h2m10 0h1m26 0h2m13 0h1m41 0h1m7 0h2m4 0h1m9 0h1m12 0h2m1 0h1m4 0h1m3 0h3m1 0h1m21 0h2m6 0h5m-235 1h5m31 0h2m5 0h2m6 0h2m47 0h1m8 0h1m3 0h1m43 0h1m4 0h1m5 0h1m3 0h1m1 0h1m2 0h2m7 0h1m13 0h1m52 0h5m-246 1h4m56 0h1m16 0h1m16 0h1m18 0h1m5 0h1m9 0h2m15 0h1m29 0h1m18 0h2m15 0h2m-178 1h6m19 0h1m10 0h2m1 0h1m12 0h1m4 0h1m6 0h3m2 0h1m30 0h1m4 0h2m13 0h1m27 0h1m16 0h2m-165 1h1m6 0h1m7 0h1m14 0h1m13 0h1m5 0h1m4 0h1m14 0h1m8 0h1m8 0h1m2 0h1m2 0h1m14 0h1m14 0h1m14 0h2m4 0h1m10 0h1m17 0h2m2 0h2m-245 1h3m38 0h2m2 0h4m22 0h1m5 0h2m10 0h1m2 0h2m3 0h1m3 0h1m1 0h1m6 0h1m8 0h1m3 0h1m11 0h1m7 0h1m2 0h1m13 0h2m9 0h1m21 0h2m19 0h1m7 0h2m-201 1h4m24 0h2m19 0h1m25 0h1m2 0h3m23 0h1m5 0h1m10 0h2m5 0h1m3 0h2m1 0h1m5 0h1m6 0h1m1 0h1m2 0h1m19 0h1m10 0h1m24 0h2m19 0h2m-206 1h2m26 0h2m9 0h1m2 0h1m5 0h1m10 0h2m25 0h1m13 0h1m4 0h1m9 0h1m4 0h2m8 0h1m23 0h1m4 0h2m20 0h2m2 0h1m-188 1h2m22 0h2m12 0h3m2 0h1m5 0h1m19 0h1m8 0h1m8 0h1m9 0h1m1 0h1m19 0h1m4 0h2m5 0h1m16 0h1m11 0h1m6 0h1m4 0h5m6 0h2m5 0h2m-196 1h2m15 0h1m5 0h2m1 0h2m5 0h1m3 0h1m21 0h2m11 0h1m9 0h1m3 0h1m1 0h2m4 0h2m10 0h1m45 0h1m7 0h1m2 0h1m3 0h1m37 0h2m-250 1h12m18 0h3m25 0h2m15 0h1m4 0h5m14 0h2m37 0h1m8 0h1m2 0h2m5 0h2m27 0h1m23 0h1m18 0h1m7 0h2m37 0h12m-243 1h2m16 0h2m20 0h1m4 0h1m3 0h1m1 0h1m4 0h1m1 0h1m1 0h1m14 0h1m5 0h1m11 0h1m2 0h1m6 0h1m3 0h1m7 0h1m1 0h1m39 0h1m7 0h1m8 0h2m45 0h4m-244 1h4m15 0h2m34 0h2m7 0h1m4 0h1m1 0h1m5 0h1m3 0h1m12 0h3m3 0h1m4 0h1m3 0h1m37 0h1m13 0h1m16 0h2m18 0h1m10 0h2m16 0h3m10 0h4m-217 1h3m4 0h1m11 0h1m6 0h1m10 0h1m4 0h1m10 0h1m4 0h1m4 0h1m3 0h1m2 0h1m1 0h1m6 0h1m12 0h1m14 0h1m8 0h1m4 0h2m48 0h1m51 0h12m-220 1h1m11 0h1m9 0h1m28 0h1m13 0h1m30 0h1m67 0h2m2 0h1m13 0h3m-220 1h2m5 0h3m13 0h2m9 0h2m6 0h1m5 0h2m7 0h1m5 0h1m13 0h1m14 0h1m8 0h1m2 0h1m28 0h1m9 0h1m9 0h1m6 0h2m3 0h1m78 0h11m-256 1h3m55 0h1m5 0h3m1 0h2m2 0h1m7 0h2m13 0h1m3 0h1m5 0h1m11 0h1m6 0h1m4 0h1m5 0h1m27 0h1m6 0h1m12 0h1m5 0h1m15 0h2m11 0h3m6 0h7m5 0h6m-255 1h4m27 0h1m13 0h2m6 0h2m11 0h1m10 0h1m5 0h1m3 0h1m11 0h1m2 0h1m6 0h1m2 0h2m14 0h1m2 0h1m9 0h1m13 0h1m8 0h1m3 0h1m8 0h2m5 0h2m24 0h2m32 0h5m-261 1h7m15 0h3m5 0h2m5 0h2m21 0h2m5 0h2m30 0h1m18 0h1m19 0h1m11 0h1m12 0h1m4 0h1m8 0h2m2 0h1m3 0h1m10 0h1m7 0h1m4 0h2m1 0h2m15 0h2m30 0h7m-261 1h5m25 0h2m7 0h2m14 0h3m1 0h1m9 0h2m4 0h3m7 0h2m4 0h1m3 0h2m2 0h1m6 0h1m2 0h1m3 0h1m2 0h1m5 0h2m15 0h2m9 0h1m2 0h2m5 0h1m1 0h2m17 0h3m28 0h1m6 0h1m2 0h2m-224 1h5m54 0h1m2 0h1m4 0h1m18 0h1m10 0h1m6 0h1m3 0h1m4 0h2m6 0h1m2 0h1m7 0h2m7 0h1m3 0h1m5 0h1m5 0h1m2 0h1m9 0h1m2 0h1m11 0h1m15 0h1m25 0h2m20 0h5m-217 1h2m10 0h1m2 0h1m42 0h2m16 0h1m3 0h1m1 0h1m11 0h1m17 0h1m7 0h2m2 0h1m1 0h1m15 0h1m11 0h2m12 0h2m39 0h4m4 0h8m-247 1h3m19 0h2m10 0h1m3 0h2m11 0h1m21 0h1m14 0h1m3 0h1m8 0h1m21 0h1m6 0h1m5 0h1m18 0h1m2 0h1m5 0h1m1 0h1m23 0h2m8 0h2m17 0h2m-252 1h8m49 0h2m13 0h3m1 0h2m1 0h1m11 0h2m4 0h1m21 0h1m8 0h2m5 0h1m14 0h1m1 0h1m2 0h2m18 0h1m4 0h1m2 0h2m7 0h3m2 0h1m3 0h1m3 0h1m15 0h3m23 0h3m8 0h4m16 0h9m-250 1h4m19 0h2m4 0h2m1 0h2m7 0h1m17 0h1m1 0h1m23 0h1m20 0h1m17 0h1m3 0h1m5 0h1m8 0h1m12 0h1m11 0h1m5 0h2m10 0h1m11 0h2m-200 1h2m7 0h2m7 0h2m11 0h3m7 0h1m11 0h1m4 0h1m8 0h1m19 0h1m5 0h1m24 0h1m19 0h1m14 0h1m2 0h2m11 0h1m2 0h1m52 0h4m-259 1h8m44 0h1m18 0h1m6 0h2m6 0h1m8 0h1m21 0h1m6 0h1m16 0h3m7 0h2m3 0h2m2 0h1m9 0h1m31 0h1m7 0h3m6 0h2m15 0h2m2 0h3m16 0h13m-231 1h2m3 0h2m7 0h1m3 0h2m6 0h1m14 0h1m19 0h1m10 0h1m1 0h2m2 0h1m4 0h2m7 0h1m2 0h1m12 0h1m4 0h1m4 0h1m5 0h1m2 0h1m10 0h1m20 0h2m2 0h2m1 0h1m2 0h1m11 0h2m-178 1h2m20 0h1m18 0h1m3 0h1m28 0h1m14 0h1m19 0h1m3 0h1m13 0h1m8 0h1m28 0h2m-220 1h6m30 0h5m18 0h1m22 0h3m2 0h1m5 0h1m1 0h1m7 0h1m1 0h1m6 0h2m13 0h1m1 0h1m12 0h1m6 0h1m3 0h1m3 0h1m15 0h1m9 0h2m5 0h1m4 0h1m24 0h1m2 0h2m18 0h2m5 0h3m-217 1h3m26 0h1m2 0h1m11 0h3m5 0h1m31 0h1m2 0h1m22 0h1m15 0h2m2 0h1m4 0h1m7 0h1m21 0h2m4 0h2m1 0h1m9 0h6m5 0h2m17 0h3m9 0h4m15 0h5m-252 1h2m32 0h3m14 0h2m9 0h1m7 0h1m43 0h1m1 0h1m20 0h1m2 0h1m5 0h1m2 0h2m18 0h2m20 0h1m5 0h2m2 0h4m-235 1h10m14 0h3m15 0h2m15 0h2m6 0h1m3 0h1m13 0h1m3 0h1m3 0h3m8 0h1m11 0h1m2 0h1m1 0h1m3 0h1m1 0h1m1 0h1m6 0h1m4 0h1m3 0h1m10 0h2m1 0h2m2 0h1m2 0h1m6 0h1m11 0h1m9 0h1m3 0h2m5 0h1m7 0h2m10 0h1m2 0h2m6 0h2m2 0h3m-234 1h6m7 0h4m17 0h2m10 0h2m7 0h2m5 0h2m1 0h1m4 0h1m19 0h1m4 0h1m8 0h1m1 0h2m3 0h1m1 0h1m17 0h1m7 0h1m9 0h1m22 0h1m2 0h1m4 0h1m22 0h3m15 0h2m2 0h4m-240 1h17m52 0h2m5 0h1m15 0h1m1 0h1m10 0h1m13 0h1m10 0h1m10 0h1m2 0h1m9 0h1m7 0h1m16 0h1m2 0h2m3 0h3m14 0h2m1 0h3m1 0h2m9 0h1m17 0h2m14 0h4m-215 1h2m19 0h2m8 0h1m13 0h1m30 0h1m7 0h1m5 0h1m2 0h2m11 0h1m1 0h1m1 0h1m5 0h1m12 0h1m3 0h3m5 0h1m23 0h3m1 0h1m19 0h2m28 0h6m11 0h2m-259 1h4m17 0h2m34 0h1m9 0h1m18 0h2m3 0h3m5 0h1m3 0h1m4 0h1m13 0h1m2 0h2m12 0h1m4 0h1m3 0h1m15 0h2m16 0h1m4 0h2m15 0h2m10 0h2m3 0h2m6 0h3m-232 1h4m69 0h1m2 0h2m22 0h1m24 0h1m10 0h1m1 0h3m9 0h2m14 0h1m7 0h3m21 0h3m-209 1h3m33 0h2m3 0h2m4 0h3m6 0h1m19 0h1m2 0h2m2 0h1m3 0h1m4 0h2m14 0h1m5 0h1m5 0h1m3 0h1m3 0h3m1 0h2m1 0h1m7 0h1m27 0h1m4 0h1m14 0h3m9 0h3m5 0h1m4 0h2m30 0h13m-235 1h3m5 0h2m8 0h3m12 0h1m9 0h1m14 0h1m19 0h1m21 0h1m10 0h1m8 0h1m10 0h2m2 0h1m3 0h1m28 0h1m2 0h1m18 0h2m6 0h5m-235 1h6m14 0h3m33 0h2m4 0h1m2 0h1m13 0h1m14 0h1m3 0h1m28 0h1m58 0h1m26 0h2m-215 1h6m17 0h3m14 0h2m2 0h1m13 0h1m6 0h1m28 0h2m16 0h2m11 0h1m3 0h1m4 0h1m24 0h1m2 0h2m19 0h3m3 0h2m6 0h2m13 0h1m5 0h2m8 0h2m-230 1h14m45 0h2m9 0h1m8 0h1m8 0h2m16 0h3m27 0h1m12 0h1m1 0h3m2 0h2m4 0h1m2 0h1m1 0h1m15 0h3m14 0h1m5 0h3m26 0h2m6 0h7m-212 1h2m5 0h2m3 0h2m6 0h1m24 0h1m22 0h2m1 0h2m4 0h1m15 0h2m13 0h1m7 0h2m9 0h1m5 0h1m11 0h1m51 0h3m12 0h5m-267 1h12m14 0h6m10 0h2m10 0h2m5 0h1m5 0h1m13 0h1m5 0h2m5 0h2m4 0h1m6 0h2m6 0h1m20 0h1m21 0h1m21 0h2m2 0h1m2 0h1m39 0h2m9 0h2m10 0h2m-230 1h4m56 0h1m12 0h3m2 0h1m17 0h1m2 0h1m10 0h2m3 0h1m2 0h2m1 0h1m15 0h1m1 0h1m8 0h2m1 0h2m3 0h1m4 0h1m17 0h2m5 0h3m18 0h2m3 0h2m4 0h2m13 0h4m-259 1h11m7 0h3m35 0h1m17 0h1m3 0h1m7 0h1m6 0h1m5 0h1m1 0h1m3 0h1m10 0h1m9 0h1m9 0h1m4 0h1m1 0h1m20 0h1m2 0h1m6 0h1m59 0h2m2 0h2m10 0h2m-241 1h5m1 0h4m1 0h4m16 0h2m2 0h2m23 0h2m11 0h2m12 0h1m5 0h1m6 0h1m17 0h2m1 0h1m5 0h1m1 0h2m2 0h1m3 0h1m7 0h2m12 0h1m23 0h2m8 0h1m27 0h2m11 0h2m5 0h3m-244 1h4m11 0h6m10 0h2m48 0h1m2 0h1m18 0h1m1 0h1m1 0h2m2 0h1m2 0h1m8 0h2m36 0h1m5 0h1m1 0h2m1 0h1m19 0h1m4 0h4m24 0h2m2 0h2m-242 1h22m13 0h2m7 0h2m6 0h2m11 0h2m6 0h1m8 0h1m3 0h1m5 0h1m3 0h2m15 0h1m10 0h1m4 0h1m16 0h1m7 0h2m2 0h1m7 0h1m5 0h1m5 0h1m4 0h1m1 0h1m3 0h2m4 0h1m7 0h1m5 0h2m2 0h2m3 0h1m8 0h2m7 0h2m25 0h4m-256 1h6m25 0h4m25 0h2m31 0h2m1 0h2m26 0h1m4 0h1m3 0h2m12 0h1m7 0h1m10 0h3m11 0h2m14 0h1m8 0h3m12 0h1m31 0h11m-271 1h8m39 0h2m2 0h3m13 0h1m2 0h1m12 0h1m7 0h1m1 0h3m5 0h1m4 0h1m2 0h1m9 0h1m1 0h1m8 0h1m4 0h1m14 0h1m4 0h2m7 0h1m4 0h1m1 0h1m3 0h1m3 0h2m5 0h2m33 0h2m48 0h11m-284 1h16m20 0h3m4 0h2m4 0h2m4 0h1m35 0h1m4 0h2m5 0h1m22 0h1m10 0h1m4 0h1m3 0h1m4 0h1m5 0h1m2 0h1m1 0h2m17 0h1m21 0h1m9 0h1m4 0h2m-211 1h19m19 0h2m17 0h1m16 0h2m14 0h1m1 0h1m2 0h1m1 0h3m10 0h1m5 0h1m8 0h1m8 0h1m2 0h1m8 0h1m5 0h1m2 0h1m10 0h1m6 0h1m3 0h1m6 0h2m2 0h2m21 0h1m10 0h2m-234 1h17m5 0h10m5 0h3m8 0h2m21 0h2m27 0h2m2 0h2m1 0h2m7 0h1m10 0h1m7 0h1m1 0h1m4 0h1m8 0h1m10 0h1m3 0h1m4 0h1m3 0h2m5 0h1m11 0h1m1 0h2m1 0h1m50 0h3m-216 1h3m31 0h2m2 0h2m9 0h1m9 0h1m2 0h1m3 0h1m3 0h2m7 0h1m15 0h1m2 0h2m9 0h1m24 0h1m3 0h1m2 0h1m7 0h1m6 0h1m1 0h1m72 0h7m-265 1h11m36 0h2m22 0h1m21 0h1m8 0h1m2 0h1m1 0h1m12 0h1m1 0h2m14 0h1m2 0h1m9 0h1m4 0h1m13 0h1m11 0h1m31 0h2m-226 1h10m7 0h4m4 0h4m12 0h1m15 0h2m15 0h1m8 0h1m24 0h2m9 0h1m7 0h1m5 0h1m15 0h1m12 0h1m8 0h1m6 0h1m9 0h1m10 0h1m36 0h4m7 0h3m-234 1h5m36 0h2m5 0h3m8 0h2m10 0h1m15 0h1m6 0h1m6 0h1m10 0h1m19 0h2m9 0h1m7 0h1m2 0h1m7 0h1m4 0h1m3 0h1m5 0h1m1 0h1m13 0h2m1 0h1m11 0h2m3 0h3m-223 1h7m5 0h2m34 0h2m11 0h3m9 0h1m20 0h2m5 0h1m44 0h2m7 0h2m4 0h1m1 0h1m27 0h3m8 0h1m19 0h2m7 0h3m10 0h3m-235 1h8m17 0h2m4 0h2m23 0h1m9 0h1m31 0h1m1 0h1m22 0h1m10 0h2m3 0h1m16 0h1m9 0h1m13 0h2m6 0h1m17 0h2m11 0h3m10 0h3m-247 1h7m18 0h3m40 0h1m18 0h1m2 0h2m6 0h1m24 0h1m3 0h1m3 0h1m2 0h1m5 0h1m4 0h1m3 0h1m2 0h1m1 0h1m4 0h1m22 0h2m5 0h1m5 0h1m31 0h2m7 0h2m3 0h3m10 0h5m-268 1h16m9 0h7m10 0h2m17 0h1m9 0h4m2 0h1m3 0h1m6 0h1m15 0h1m26 0h1m5 0h1m16 0h1m2 0h1m12 0h1m9 0h1m6 0h1m6 0h2m11 0h1m25 0h1m16 0h3m15 0h8m-276 1h8m20 0h4m12 0h2m15 0h1m11 0h1m10 0h2m7 0h1m21 0h1m3 0h1m7 0h1m3 0h1m3 0h1m1 0h1m1 0h3m2 0h2m8 0h1m14 0h1m5 0h2m7 0h3m2 0h1m2 0h1m18 0h2m23 0h2m7 0h2m12 0h4m13 0h8m-268 1h2m44 0h3m2 0h1m5 0h1m5 0h2m6 0h1m9 0h2m7 0h1m7 0h2m1 0h1m3 0h1m2 0h1m3 0h1m3 0h1m4 0h1m3 0h1m8 0h1m5 0h1m7 0h1m12 0h1m9 0h1m12 0h1m12 0h2m6 0h1m5 0h2m27 0h3m10 0h15m-282 1h6m8 0h5m7 0h9m15 0h2m2 0h1m4 0h1m12 0h1m9 0h2m6 0h1m6 0h1m3 0h2m1 0h1m4 0h1m8 0h1m2 0h1m8 0h1m3 0h1m23 0h1m8 0h2m3 0h2m1 0h1m1 0h1m7 0h1m6 0h1m9 0h1m4 0h3m15 0h2m14 0h2m2 0h3m14 0h5m-248 1h7m9 0h5m12 0h2m1 0h2m6 0h2m16 0h1m5 0h3m7 0h1m19 0h1m6 0h1m2 0h1m31 0h2m4 0h1m5 0h1m19 0h1m47 0h2m13 0h8m13 0h7m-284 1h8m8 0h2m16 0h3m13 0h2m2 0h1m15 0h1m6 0h1m23 0h3m22 0h1m13 0h1m9 0h1m13 0h1m3 0h1m1 0h1m12 0h1m8 0h2m1 0h1m15 0h1m3 0h1m10 0h1m-219 1h8m79 0h1m5 0h1m3 0h2m3 0h1m3 0h1m2 0h1m12 0h1m3 0h1m14 0h1m1 0h1m9 0h1m3 0h2m9 0h1m4 0h2m1 0h2m1 0h1m27 0h3m4 0h2m24 0h2m3 0h3m4 0h4m-257 1h9m15 0h1m5 0h2m3 0h2m6 0h4m6 0h1m28 0h3m4 0h1m4 0h1m11 0h1m6 0h1m28 0h1m3 0h3m6 0h2m5 0h1m11 0h2m5 0h1m2 0h1m4 0h2m3 0h2m8 0h2m9 0h2m31 0h1m8 0h5m8 0h7m-284 1h7m14 0h4m12 0h2m42 0h1m6 0h1m1 0h2m3 0h1m10 0h5m5 0h1m7 0h1m4 0h1m5 0h1m1 0h2m4 0h1m2 0h1m7 0h1m16 0h2m1 0h1m24 0h2m44 0h3m8 0h4m-260 1h7m30 0h5m10 0h2m11 0h2m4 0h2m1 0h1m13 0h1m10 0h1m4 0h1m19 0h1m8 0h1m4 0h1m2 0h1m2 0h2m1 0h1m1 0h1m4 0h1m6 0h1m1 0h1m14 0h1m1 0h1m8 0h2m3 0h1m3 0h2m1 0h2m23 0h1m23 0h3m24 0h7m-269 1h6m29 0h2m25 0h1m10 0h1m34 0h1m9 0h1m2 0h1m2 0h1m11 0h1m4 0h1m6 0h1m12 0h1m3 0h1m3 0h4m6 0h1m3 0h1m13 0h1m33 0h2m8 0h4m-221 1h1m21 0h1m8 0h1m2 0h2m2 0h1m5 0h1m3 0h1m5 0h1m2 0h1m5 0h1m5 0h2m4 0h1m8 0h1m2 0h1m16 0h1m4 0h1m9 0h1m10 0h1m7 0h1m6 0h1m3 0h1m2 0h1m7 0h1m7 0h1m21 0h2m14 0h3m5 0h3m13 0h9m-232 1h2m11 0h2m3 0h1m2 0h1m6 0h1m12 0h1m1 0h1m2 0h1m8 0h2m5 0h2m7 0h1m4 0h1m3 0h1m1 0h1m12 0h3m6 0h1m8 0h2m5 0h1m6 0h1m1 0h2m7 0h1m14 0h1m3 0h1m9 0h2m16 0h2m2 0h4m11 0h3m-219 1h3m25 0h3m14 0h2m1 0h1m17 0h3m14 0h1m2 0h1m6 0h1m2 0h1m29 0h1m6 0h1m2 0h1m2 0h3m3 0h1m8 0h1m4 0h1m5 0h1m8 0h1m6 0h3m6 0h2m1 0h4m5 0h3m21 0h9m9 0h6m-278 1h9m16 0h3m12 0h2m16 0h1m16 0h1m10 0h3m17 0h1m4 0h1m4 0h1m4 0h1m1 0h1m17 0h1m2 0h2m8 0h1m1 0h1m4 0h1m3 0h2m7 0h1m5 0h1m5 0h1m6 0h1m7 0h1m1 0h2m8 0h2m3 0h2m7 0h4m6 0h2m24 0h9m-253 1h3m3 0h3m8 0h2m2 0h2m6 0h1m7 0h2m6 0h3m1 0h3m7 0h2m1 0h1m1 0h1m5 0h2m2 0h3m3 0h2m1 0h2m2 0h1m5 0h1m6 0h1m7 0h1m5 0h1m2 0h1m1 0h2m1 0h1m1 0h1m3 0h1m1 0h2m3 0h1m2 0h1m3 0h1m15 0h1m10 0h1m16 0h1m1 0h2m4 0h2m1 0h4m7 0h2m8 0h5m16 0h5m-235 1h3m9 0h4m39 0h1m5 0h1m48 0h1m2 0h2m13 0h1m5 0h1m3 0h1m6 0h1m13 0h1m1 0h3m9 0h1m1 0h2m2 0h2m1 0h2m1 0h3m13 0h2m2 0h2m7 0h2m5 0h1m-225 1h3m18 0h2m11 0h3m4 0h2m9 0h1m18 0h1m17 0h1m7 0h1m6 0h1m6 0h1m5 0h1m4 0h1m40 0h2m16 0h1m9 0h2m19 0h2m15 0h4m-233 1h3m8 0h2m2 0h2m2 0h2m15 0h1m15 0h1m6 0h2m8 0h1m3 0h1m1 0h1m3 0h1m7 0h1m5 0h1m1 0h1m1 0h1m3 0h3m1 0h2m3 0h2m2 0h1m1 0h1m3 0h1m3 0h1m3 0h1m4 0h3m4 0h1m2 0h3m6 0h1m1 0h1m6 0h1m10 0h1m20 0h2m1 0h4m4 0h2m20 0h3m20 0h4m-256 1h3m8 0h2m19 0h4m3 0h3m5 0h2m3 0h2m27 0h2m14 0h1m6 0h1m4 0h2m17 0h1m1 0h1m12 0h1m11 0h1m16 0h1m15 0h2m19 0h4m24 0h16m-280 1h13m36 0h2m13 0h2m12 0h3m1 0h1m16 0h1m7 0h1m14 0h1m2 0h2m12 0h1m10 0h2m1 0h1m2 0h1m11 0h1m14 0h1m3 0h1m5 0h5m2 0h2m9 0h1m5 0h1m32 0h2m4 0h3m-205 1h2m5 0h2m4 0h2m4 0h1m23 0h2m5 0h1m1 0h1m1 0h2m12 0h1m3 0h1m9 0h1m10 0h1m2 0h1m9 0h1m6 0h1m23 0h1m1 0h1m10 0h2m28 0h2m-209 1h3m5 0h3m16 0h2m10 0h1m6 0h1m4 0h1m5 0h2m11 0h2m13 0h1m1 0h1m3 0h1m6 0h1m4 0h2m19 0h1m13 0h3m2 0h1m23 0h1m2 0h1m10 0h2m1 0h1m6 0h2m-197 1h3m16 0h3m9 0h2m21 0h1m4 0h1m5 0h3m8 0h1m1 0h1m12 0h1m7 0h1m19 0h1m4 0h1m3 0h2m3 0h1m2 0h1m8 0h1m5 0h1m4 0h1m1 0h2m1 0h1m1 0h1m6 0h1m4 0h1m3 0h1m1 0h2m1 0h1m17 0h1m12 0h2m2 0h2m20 0h6m-258 1h6m17 0h3m7 0h2m4 0h1m6 0h1m5 0h2m7 0h1m13 0h1m4 0h2m46 0h1m16 0h1m1 0h1m8 0h1m1 0h1m4 0h1m3 0h1m8 0h3m13 0h1m31 0h2m-198 1h2m3 0h2m2 0h2m1 0h2m4 0h3m5 0h1m14 0h1m2 0h2m1 0h1m2 0h2m7 0h1m3 0h1m20 0h1m9 0h1m5 0h1m7 0h2m3 0h1m16 0h2m7 0h1m13 0h1m1 0h2m28 0h1m14 0h2m-207 1h3m7 0h2m7 0h5m7 0h2m5 0h2m2 0h4m6 0h2m7 0h1m4 0h2m12 0h1m4 0h1m2 0h1m5 0h1m2 0h3m13 0h1m13 0h2m11 0h1m16 0h1m5 0h1m1 0h3m11 0h4m3 0h2m11 0h2m28 0h6m-270 1h12m10 0h4m9 0h3m7 0h2m9 0h2m1 0h2m9 0h3m2 0h2m13 0h2m7 0h1m2 0h1m5 0h1m26 0h1m3 0h3m16 0h1m12 0h1m6 0h1m9 0h1m3 0h1m1 0h1m4 0h1m34 0h4m12 0h3m-221 1h3m42 0h1m6 0h2m3 0h3m4 0h1m3 0h1m2 0h2m2 0h1m10 0h1m2 0h1m1 0h2m16 0h1m2 0h1m8 0h1m7 0h1m7 0h1m5 0h1m13 0h2m2 0h1m38 0h4m9 0h2m24 0h11m-247 1h3m16 0h2m2 0h1m2 0h1m3 0h2m8 0h2m6 0h1m6 0h3m1 0h2m11 0h1m3 0h1m8 0h1m29 0h1m9 0h1m14 0h1m1 0h1m8 0h2m5 0h1m5 0h1m22 0h1m5 0h2m8 0h2m2 0h5m13 0h11m-217 1h2m25 0h1m6 0h2m4 0h2m3 0h1m5 0h1m1 0h1m10 0h2m3 0h1m13 0h1m2 0h1m10 0h1m6 0h1m2 0h1m1 0h1m8 0h1m1 0h2m8 0h1m1 0h2m7 0h2m31 0h2m17 0h3m-201 1h1m9 0h2m1 0h3m8 0h4m1 0h1m8 0h1m45 0h1m7 0h1m3 0h1m7 0h1m7 0h1m3 0h1m4 0h1m5 0h1m2 0h1m4 0h1m4 0h2m54 0h2m18 0h6m-242 1h6m46 0h1m29 0h1m10 0h1m11 0h1m17 0h1m7 0h1m4 0h1m4 0h1m1 0h1m2 0h3m7 0h2m5 0h1m25 0h3m4 0h3m6 0h2m-210 1h3m19 0h6m2 0h3m14 0h1m4 0h1m14 0h1m3 0h2m1 0h1m2 0h1m3 0h1m17 0h1m1 0h1m31 0h1m1 0h1m7 0h1m3 0h1m2 0h1m4 0h2m15 0h1m24 0h2m7 0h2m-223 1h6m39 0h2m4 0h2m11 0h2m5 0h1m14 0h2m9 0h1m7 0h1m4 0h1m4 0h1m1 0h1m7 0h1m21 0h1m10 0h1m18 0h1m15 0h2m-206 1h11m11 0h4m39 0h2m10 0h2m3 0h1m6 0h3m11 0h1m8 0h1m25 0h1m33 0h2m2 0h1m4 0h2m1 0h1m8 0h1m51 0h5m-213 1h3m8 0h2m21 0h2m2 0h2m10 0h2m1 0h3m8 0h1m2 0h1m15 0h1m2 0h1m2 0h1m7 0h1m1 0h1m6 0h1m1 0h1m12 0h2m3 0h1m2 0h2m3 0h2m4 0h1m29 0h1m28 0h2m-206 1h3m11 0h2m4 0h2m8 0h2m1 0h2m3 0h4m8 0h1m16 0h1m3 0h1m14 0h1m2 0h1m12 0h1m1 0h1m23 0h2m7 0h1m4 0h1m2 0h1m20 0h1m4 0h1m6 0h1m23 0h2m29 0h7m-218 1h2m3 0h2m16 0h1m1 0h2m12 0h1m7 0h1m23 0h1m22 0h1m9 0h1m4 0h2m3 0h1m3 0h1m2 0h2m4 0h2m15 0h1m16 0h2m11 0h4m29 0h4m7 0h10m-232 1h4m10 0h1m12 0h1m23 0h1m2 0h1m3 0h1m31 0h1m7 0h1m5 0h1m6 0h1m1 0h1m21 0h2m1 0h1m5 0h4m5 0h1m11 0h2m6 0h2m13 0h2m10 0h3m-227 1h3m6 0h2m17 0h3m2 0h2m3 0h1m14 0h3m4 0h1m5 0h1m8 0h1m17 0h1m28 0h1m6 0h1m1 0h1m12 0h1m1 0h1m2 0h1m4 0h1m6 0h1m9 0h1m40 0h2m-239 1h8m43 0h4m9 0h2m6 0h2m2 0h1m12 0h2m23 0h1m17 0h2m4 0h1m4 0h1m3 0h2m15 0h3m11 0h1m12 0h1m5 0h1m4 0h1m2 0h1m10 0h1m5 0h2m11 0h2m19 0h4m-260 1h8m13 0h3m17 0h2m6 0h4m5 0h2m22 0h1m20 0h1m24 0h1m3 0h1m4 0h1m9 0h1m12 0h1m4 0h2m2 0h1m3 0h2m2 0h1m9 0h1m8 0h2m5 0h2m14 0h2m1 0h2m36 0h5m-265 1h8m39 0h4m9 0h1m11 0h1m12 0h1m28 0h1m33 0h2m4 0h2m12 0h3m2 0h1m1 0h1m25 0h1m11 0h1m15 0h2m16 0h5m-224 1h3m16 0h4m18 0h1m3 0h1m47 0h1m4 0h1m30 0h1m13 0h1m4 0h1m1 0h1m34 0h1m35 0h3m20 0h9m-273 1h8m12 0h3m5 0h3m4 0h4m6 0h2m19 0h1m6 0h4m4 0h2m3 0h1m5 0h1m11 0h1m13 0h1m12 0h1m22 0h1m16 0h2m2 0h1m2 0h1m40 0h2m2 0h2m2 0h2m28 0h7m-264 1h7m28 0h2m36 0h1m4 0h1m5 0h1m23 0h1m7 0h1m5 0h1m6 0h1m2 0h1m4 0h1m3 0h1m11 0h1m9 0h2m1 0h1m21 0h1m9 0h1m10 0h2m28 0h5m8 0h5m-196 1h1m12 0h1m35 0h1m8 0h1m2 0h1m6 0h1m26 0h2m4 0h2m1 0h1m17 0h1m17 0h1m4 0h2m10 0h1m2 0h2m8 0h3m11 0h3m-228 1h3m5 0h3m14 0h3m7 0h1m2 0h1m11 0h2m10 0h1m7 0h1m23 0h1m7 0h1m5 0h1m11 0h1m27 0h1m5 0h1m15 0h3m5 0h3m4 0h1m17 0h2m32 0h8m-273 1h8m12 0h4m4 0h3m16 0h2m14 0h1m24 0h2m6 0h2m28 0h1m3 0h2m11 0h1m42 0h1m15 0h1m7 0h3m8 0h1m5 0h2m-205 1h4m25 0h2m6 0h2m20 0h2m9 0h4m32 0h1m5 0h1m21 0h1m3 0h1m34 0h1m5 0h3m16 0h4m-226 1h8m16 0h7m3 0h2m9 0h2m52 0h1m5 0h1m7 0h1m3 0h3m31 0h1m17 0h1m32 0h1m6 0h3m15 0h2m31 0h5m-250 1h5m14 0h2m66 0h1m3 0h3m3 0h1m35 0h1m1 0h1m2 0h1m2 0h1m38 0h1m5 0h1m-195 1h7m14 0h6m5 0h2m33 0h2m11 0h1m3 0h1m32 0h1m20 0h5m10 0h2m39 0h1m3 0h1m13 0h2m10 0h2m40 0h7m-280 1h15m9 0h4m6 0h5m2 0h2m10 0h2m3 0h2m28 0h2m1 0h1m7 0h1m26 0h1m24 0h1m9 0h1m3 0h1m31 0h1m16 0h2m40 0h4m-253 1h8m34 0h2m10 0h3m18 0h1m15 0h1m42 0h1m3 0h1m11 0h1m5 0h2m12 0h2m3 0h1m18 0h1m1 0h2m11 0h2m6 0h3m4 0h4m21 0h4m5 0h8m-273 1h15m5 0h8m3 0h3m7 0h2m40 0h2m10 0h2m1 0h1m18 0h1m6 0h1m1 0h1m21 0h1m1 0h1m10 0h2m6 0h1m3 0h1m7 0h1m16 0h1m10 0h1m34 0h3m13 0h5m-250 1h9m19 0h2m65 0h1m11 0h2m6 0h1m14 0h1m11 0h1m51 0h1m3 0h3m2 0h1m10 0h2m6 0h2m-232 1h8m32 0h2m2 0h2m34 0h1m9 0h1m18 0h2m6 0h1m25 0h1m7 0h1m10 0h1m7 0h2m7 0h1m19 0h1m46 0h3m9 0h15m-265 1h9m32 0h2m3 0h2m4 0h2m40 0h1m2 0h1m1 0h1m2 0h1m16 0h1m2 0h1m37 0h1m11 0h2m14 0h3m6 0h3m3 0h1m7 0h1m10 0h2m12 0h2m-253 1h7m8 0h5m4 0h4m8 0h5m39 0h1m18 0h1m24 0h1m12 0h2m9 0h1m14 0h1m7 0h1m2 0h1m1 0h1m4 0h1m11 0h2m18 0h3m8 0h2m5 0h2m14 0h3m10 0h14m-274 1h6m22 0h3m3 0h5m16 0h1m62 0h2m21 0h1m11 0h1m1 0h2m23 0h1m9 0h1m4 0h1m10 0h1m12 0h2m5 0h2m19 0h3m-250 1h6m14 0h4m10 0h2m5 0h2m24 0h2m16 0h1m16 0h1m39 0h1m6 0h1m19 0h1m8 0h2m6 0h1m5 0h1m17 0h2m1 0h2m11 0h2m46 0h6m-280 1h6m9 0h5m4 0h4m8 0h3m4 0h2m11 0h2m3 0h2m4 0h2m4 0h1m32 0h2m3 0h1m7 0h1m28 0h1m17 0h2m3 0h1m24 0h1m4 0h1m17 0h2m26 0h3m-183 1h2m50 0h1m13 0h1m14 0h1m22 0h1m2 0h1m8 0h1m2 0h1m2 0h1m2 0h1m3 0h1m9 0h1m28 0h2m13 0h3m8 0h5m-260 1h9m9 0h4m3 0h3m22 0h2m59 0h1m2 0h1m10 0h1m48 0h1m3 0h1m15 0h1m-177 1h4m11 0h2m6 0h2m11 0h1m15 0h1m17 0h1m48 0h1m10 0h1m30 0h1m11 0h1m4 0h3m1 0h1m9 0h2m8 0h2m-200 1h3m20 0h4m27 0h2m2 0h1m4 0h1m1 0h1m16 0h2m17 0h1m7 0h1m5 0h1m10 0h1m23 0h2m1 0h1m5 0h3m38 0h1m-184 1h4m2 0h2m30 0h1m81 0h3m2 0h1m24 0h2m9 0h1m12 0h2m3 0h4m25 0h8m-230 1h3m5 0h2m16 0h1m14 0h1m7 0h1m4 0h1m5 0h1m1 0h1m1 0h2m8 0h3m23 0h1m26 0h1m5 0h1m2 0h1m22 0h1m1 0h4m70 0h14m-244 1h3m18 0h1m3 0h2m24 0h1m3 0h1m3 0h2m12 0h2m2 0h1m6 0h2m4 0h1m11 0h1m6 0h1m10 0h1m7 0h1m7 0h1m2 0h1m1 0h1m3 0h1m9 0h1m10 0h1m3 0h2m23 0h2m2 0h2m20 0h4m-227 1h2m7 0h2m4 0h2m30 0h1m3 0h1m5 0h1m11 0h1m7 0h1m3 0h1m11 0h1m1 0h2m32 0h1m4 0h1m1 0h1m13 0h1m4 0h1m1 0h1m5 0h1m12 0h2m4 0h6m2 0h2m16 0h2m17 0h5m9 0h5m-246 1h2m15 0h2m13 0h1m20 0h3m4 0h1m4 0h1m3 0h1m1 0h2m14 0h1m4 0h1m2 0h2m10 0h1m16 0h1m9 0h1m15 0h1m7 0h1m5 0h2m10 0h3m29 0h2m13 0h4m-230 1h2m3 0h3m12 0h4m17 0h1m8 0h1m21 0h1m17 0h1m4 0h1m9 0h1m28 0h1m1 0h1m3 0h1m6 0h2m2 0h1m1 0h1m11 0h1m4 0h2m6 0h1m3 0h2m25 0h2m3 0h2m30 0h3m-279 1h13m68 0h2m1 0h1m7 0h1m20 0h1m4 0h1m6 0h1m20 0h1m14 0h1m6 0h1m27 0h1m7 0h1m17 0h1m7 0h2m-188 1h4m18 0h1m25 0h1m8 0h1m20 0h1m12 0h1m8 0h1m18 0h1m17 0h3m4 0h2m17 0h1m19 0h2m1 0h2m2 0h5m13 0h4m10 0h13m-235 1h2m8 0h1m37 0h1m1 0h2m2 0h1m11 0h1m10 0h1m26 0h1m1 0h1m5 0h2m4 0h2m1 0h1m3 0h1m2 0h1m15 0h1m10 0h1m32 0h5m7 0h5m-249 1h12m20 0h10m10 0h3m11 0h2m9 0h2m29 0h1m12 0h1m3 0h1m1 0h1m7 0h1m10 0h1m28 0h1m9 0h1m4 0h1m9 0h1m24 0h2m14 0h3m9 0h3m-184 1h1m3 0h1m26 0h1m3 0h1m3 0h1m11 0h2m29 0h1m3 0h1m20 0h1m47 0h2m26 0h1m5 0h6m-180 1h2m14 0h1m6 0h1m11 0h2m4 0h2m4 0h1m20 0h1m2 0h1m3 0h2m16 0h1m1 0h1m6 0h1m1 0h1m28 0h2m45 0h12m-247 1h3m15 0h2m19 0h1m1 0h2m1 0h1m5 0h2m14 0h1m1 0h1m5 0h2m1 0h1m6 0h1m12 0h1m3 0h1m10 0h1m7 0h1m11 0h1m21 0h2m24 0h2m15 0h2m2 0h2m18 0h4m11 0h10m-234 1h4m33 0h1m2 0h1m5 0h1m2 0h1m1 0h2m11 0h1m1 0h1m5 0h1m11 0h2m12 0h1m3 0h1m17 0h1m8 0h1m1 0h1m4 0h1m7 0h2m9 0h1m5 0h1m8 0h1m29 0h3m-215 1h2m3 0h2m3 0h2m18 0h1m10 0h2m10 0h1m30 0h1m8 0h1m24 0h1m1 0h2m22 0h1m9 0h2m2 0h2m5 0h2m1 0h1m10 0h1m6 0h2m33 0h4m5 0h6m-234 1h3m21 0h2m15 0h1m9 0h1m1 0h1m5 0h1m1 0h2m8 0h1m6 0h1m2 0h1m9 0h1m1 0h1m16 0h1m17 0h1m6 0h1m15 0h1m10 0h1m2 0h1m39 0h3m-233 1h7m32 0h2m10 0h2m1 0h2m7 0h1m9 0h2m2 0h1m8 0h4m7 0h2m2 0h1m3 0h1m15 0h2m37 0h1m6 0h1m3 0h1m5 0h2m13 0h1m4 0h2m1 0h2m39 0h3m-237 1h5m23 0h4m24 0h1m9 0h3m13 0h1m10 0h1m15 0h1m1 0h1m5 0h2m3 0h1m3 0h1m2 0h2m11 0h1m29 0h1m6 0h1m41 0h2m18 0h5m-212 1h1m2 0h2m33 0h2m20 0h1m10 0h1m3 0h1m7 0h1m29 0h2m3 0h1m11 0h1m5 0h2m1 0h1m5 0h1m9 0h3m7 0h2m18 0h2m-200 1h2m5 0h2m9 0h2m1 0h2m2 0h1m7 0h2m18 0h1m3 0h1m34 0h1m1 0h1m28 0h1m5 0h1m8 0h1m35 0h1m32 0h3m11 0h5m-248 1h6m18 0h2m5 0h2m9 0h1m23 0h1m17 0h1m5 0h1m3 0h2m23 0h1m39 0h1m13 0h2m18 0h3m11 0h1m4 0h2m8 0h2m11 0h4m-199 1h2m6 0h2m1 0h2m23 0h1m12 0h1m11 0h1m17 0h1m8 0h2m4 0h1m2 0h1m7 0h1m6 0h1m5 0h1m4 0h2m14 0h1m20 0h3m11 0h2m2 0h2m15 0h4m9 0h9m-248 1h4m20 0h2m25 0h1m3 0h1m11 0h1m8 0h1m2 0h1m16 0h1m8 0h1m12 0h1m24 0h1m12 0h3m3 0h2m13 0h2m1 0h1m4 0h2m1 0h2m15 0h2m-200 1h3m14 0h2m12 0h1m5 0h1m4 0h2m33 0h1m29 0h2m4 0h1m4 0h1m2 0h1m4 0h1m5 0h1m3 0h1m5 0h1m22 0h1m12 0h2m11 0h3m10 0h5m33 0h5m-263 1h5m33 0h2m2 0h3m8 0h1m32 0h1m2 0h1m12 0h1m8 0h1m5 0h1m4 0h1m8 0h1m9 0h1m18 0h1m14 0h2m17 0h2m4 0h2m12 0h2m2 0h2m10 0h3m3 0h3m20 0h4m-258 1h4m12 0h3m27 0h2m22 0h1m32 0h1m8 0h1m5 0h2m2 0h1m5 0h1m20 0h1m3 0h1m5 0h1m17 0h2m6 0h2m5 0h2m13 0h2m35 0h13m-243 1h2m7 0h2m15 0h2m1 0h2m16 0h3m1 0h1m6 0h1m15 0h1m25 0h1m25 0h2m4 0h1m3 0h1m6 0h2m10 0h1m14 0h3m24 0h2m22 0h4m-189 1h2m5 0h3m5 0h1m13 0h1m3 0h1m1 0h2m7 0h1m5 0h1m5 0h1m3 0h2m3 0h1m11 0h1m2 0h1m3 0h1m11 0h2m4 0h2m8 0h1m2 0h2m5 0h2m7 0h2m8 0h1m17 0h2m14 0h3m-247 1h12m53 0h3m21 0h1m6 0h1m19 0h1m6 0h1m14 0h1m1 0h1m5 0h1m4 0h1m7 0h3m3 0h1m1 0h1m4 0h1m2 0h1m15 0h3m6 0h2m2 0h2m7 0h1m2 0h3m11 0h2m-180 1h2m5 0h1m5 0h2m1 0h1m3 0h2m33 0h1m14 0h1m5 0h1m5 0h1m5 0h2m5 0h1m7 0h1m9 0h1m14 0h1m2 0h1m5 0h2m2 0h1m40 0h3m10 0h3m-210 1h2m4 0h4m24 0h1m1 0h3m6 0h1m1 0h2m12 0h1m3 0h2m9 0h1m16 0h1m15 0h1m5 0h1m19 0h1m18 0h1m1 0h2m18 0h2m12 0h2m-231 1h17m41 0h1m17 0h2m7 0h1m24 0h2m3 0h2m11 0h1m3 0h1m12 0h1m7 0h2m1 0h1m11 0h1m6 0h2m10 0h1m20 0h1m5 0h1m5 0h2m2 0h1m2 0h2m-229 1h10m6 0h5m4 0h3m8 0h3m8 0h2m19 0h2m5 0h4m1 0h2m4 0h2m23 0h1m6 0h1m4 0h1m10 0h1m6 0h1m12 0h1m2 0h1m10 0h1m9 0h2m7 0h1m4 0h1m10 0h2m7 0h2m4 0h2m13 0h5m12 0h4m4 0h17m-247 1h3m8 0h2m2 0h2m16 0h3m12 0h2m8 0h2m2 0h1m12 0h1m5 0h1m8 0h2m17 0h1m2 0h1m13 0h1m1 0h1m2 0h2m54 0h2m24 0h2m7 0h4m4 0h7m-198 1h3m8 0h1m5 0h1m3 0h1m8 0h1m48 0h1m6 0h1m8 0h1m20 0h2m16 0h1m1 0h2m1 0h2m14 0h2m-216 1h12m8 0h3m10 0h2m8 0h2m9 0h2m3 0h1m7 0h1m9 0h1m2 0h1m24 0h1m2 0h1m1 0h1m13 0h1m12 0h2m2 0h1m2 0h1m4 0h4m8 0h1m3 0h1m3 0h1m4 0h1m10 0h1m17 0h1m10 0h2m3 0h2m3 0h2m16 0h4m-239 1h5m29 0h2m3 0h4m31 0h1m1 0h1m29 0h1m2 0h1m14 0h2m10 0h1m4 0h1m10 0h1m7 0h2m6 0h2m1 0h2m1 0h2m8 0h2m1 0h1m2 0h1m12 0h2m6 0h4m-185 1h2m25 0h2m17 0h1m8 0h2m14 0h1m9 0h1m9 0h1m10 0h1m9 0h1m14 0h1m5 0h1m7 0h1m9 0h2m30 0h2m2 0h2m5 0h5m24 0h6m-212 1h2m6 0h1m5 0h2m1 0h1m9 0h1m7 0h1m4 0h1m6 0h1m1 0h1m2 0h1m3 0h1m26 0h1m18 0h1m37 0h3m21 0h2m6 0h5m31 0h4m-244 1h3m38 0h1m3 0h1m12 0h1m23 0h1m2 0h1m2 0h2m23 0h1m23 0h1m12 0h1m8 0h2m24 0h2m17 0h2m19 0h6m-247 1h5m43 0h3m13 0h1m23 0h1m6 0h1m5 0h1m5 0h1m1 0h1m3 0h1m8 0h1m13 0h1m1 0h1m4 0h1m4 0h1m14 0h1m15 0h1m25 0h1m4 0h2m2 0h2m2 0h2m-198 1h2m2 0h3m16 0h2m11 0h2m1 0h1m20 0h2m17 0h1m17 0h1m1 0h1m2 0h1m8 0h1m2 0h2m18 0h2m25 0h1m1 0h3m10 0h2m16 0h2m-170 1h2m12 0h4m19 0h1m14 0h1m6 0h1m3 0h1m4 0h1m5 0h1m2 0h1m1 0h1m2 0h1m16 0h1m13 0h2m22 0h2m4 0h3m6 0h1m5 0h4m-175 1h1m35 0h1m32 0h1m4 0h1m7 0h1m4 0h1m4 0h1m1 0h1m8 0h1m13 0h1m4 0h1m60 0h2m-216 1h5m24 0h2m15 0h1m9 0h1m1 0h2m1 0h1m5 0h1m13 0h2m15 0h1m31 0h1m12 0h2m1 0h1m16 0h1m3 0h1m11 0h1m3 0h3m2 0h2m1 0h2m9 0h2m23 0h3m-213 1h3m10 0h2m6 0h3m48 0h1m12 0h1m5 0h2m4 0h1m8 0h1m6 0h1m24 0h1m4 0h1m26 0h1m33 0h3m10 0h5m7 0h9m-251 1h4m38 0h1m9 0h1m27 0h1m7 0h1m13 0h1m15 0h1m2 0h1m2 0h1m7 0h1m3 0h1m3 0h1m1 0h1m22 0h1m16 0h1m1 0h2m7 0h4m5 0h2"/><path stroke="#007e00" d="M0 0m163 0h1m1 0h1m109 4h2m27 0h2m-30 1h2m52 3h10m-10 1h10m-139 3h2m-108 1h3m201 0h4m-152 4h1m-52 4h3m123 0h1m87 2h2m-163 6h1m-2 1h2m24 0h1m-3 1h3m-16 1h3m-2 1h2m14 0h1m-1 1h2m61 0h1m-43 1h3m22 0h1m-26 1h2m-30 2h2m100 0h1m-103 1h2m14 0h1m85 0h1m6 0h1m-115 1h1m2 0h3m15 0h1m93 0h2m-118 1h2m2 0h2m109 0h1m-193 1h9m65 0h3m116 0h2m4 0h2m15 0h2m-225 1h4m6 0h3m68 0h3m15 0h1m100 0h2m3 0h3m-204 1h6m89 0h1m-15 1h2m2 0h1m9 0h3m-96 1h7m72 0h2m4 0h1m6 0h1m3 0h1m2 0h1m8 0h1m-110 1h8m78 0h1m5 0h1m3 0h1m12 0h1m-113 1h5m3 0h3m77 0h2m4 0h5m20 0h1m-33 1h3m104 0h4m-198 1h1m3 0h4m75 0h1m2 0h2m1 0h1m2 0h1m101 0h2m1 0h1m-198 1h6m10 0h3m4 0h5m55 0h1m2 0h2m2 0h3m46 0h1m-140 1h6m2 0h3m10 0h9m3 0h1m1 0h2m53 0h5m4 0h2m38 0h1m-124 1h5m46 0h3m23 0h2m4 0h4m40 0h1m-123 1h2m44 0h1m1 0h2m7 0h3m61 0h2m5 0h2m-130 1h2m44 0h1m1 0h1m24 0h1m7 0h1m39 0h1m6 0h3m-150 1h2m65 0h1m10 0h1m14 0h6m8 0h1m-105 1h2m71 0h2m20 0h2m27 0h1m-124 1h1m71 0h4m14 0h1m1 0h3m28 0h2m-110 1h2m76 0h3m-81 1h2m67 0h1m93 0h1m-125 1h3m27 0h2m44 0h1m-74 1h1m3 0h1m22 0h5m28 0h2m75 0h3m-136 1h2m15 0h1m5 0h1m3 0h2m19 0h1m3 0h2m73 0h3m-185 1h1m18 0h2m30 0h1m6 0h3m15 0h5m2 0h2m17 0h1m3 0h1m67 0h2m8 0h3m-170 1h6m27 0h2m5 0h1m2 0h1m13 0h4m4 0h2m90 0h2m8 0h1m-166 1h6m26 0h2m5 0h2m13 0h1m24 0h2m7 0h2m65 0h1m16 0h2m-195 1h3m22 0h7m37 0h1m12 0h1m2 0h3m9 0h1m1 0h1m76 0h2m14 0h1m1 0h1m-197 1h8m3 0h4m14 0h5m35 0h3m11 0h2m2 0h4m8 0h1m1 0h1m3 0h1m80 0h3m5 0h1m-196 1h3m5 0h1m5 0h2m68 0h2m8 0h1m10 0h2m80 0h3m6 0h2m-198 1h3m35 0h3m21 0h3m20 0h1m17 0h2m3 0h3m78 0h1m-172 1h2m4 0h2m12 0h3m6 0h1m14 0h6m17 0h2m8 0h3m4 0h3m3 0h1m26 0h1m10 0h1m45 0h1m-177 1h4m6 0h2m10 0h1m24 0h3m1 0h1m17 0h3m6 0h2m7 0h1m26 0h1m15 0h2m37 0h10m26 0h2m-207 1h4m6 0h9m1 0h3m13 0h4m9 0h2m51 0h1m10 0h3m53 0h2m3 0h2m1 0h3m25 0h6m-209 1h4m11 0h6m25 0h2m29 0h1m2 0h3m16 0h2m11 0h2m49 0h1m5 0h1m1 0h8m-164 1h2m2 0h1m26 0h2m2 0h1m5 0h2m3 0h2m7 0h1m5 0h1m1 0h1m1 0h3m29 0h2m6 0h2m47 0h8m-162 1h2m1 0h2m28 0h3m5 0h1m34 0h1m20 0h2m6 0h2m47 0h3m3 0h3m-199 1h2m34 0h5m19 0h3m10 0h5m14 0h2m4 0h2m6 0h2m4 0h2m81 0h4m-174 1h4m8 0h2m20 0h1m1 0h2m10 0h4m3 0h3m5 0h4m1 0h2m4 0h3m4 0h3m78 0h2m4 0h3m-171 1h4m5 0h2m2 0h1m21 0h3m17 0h4m7 0h1m7 0h1m2 0h1m4 0h2m78 0h3m-167 1h8m2 0h1m2 0h2m3 0h1m46 0h3m5 0h2m2 0h1m1 0h1m26 0h1m48 0h3m7 0h2m-167 1h2m2 0h4m2 0h3m65 0h2m25 0h2m47 0h3m13 0h2m-168 1h2m51 0h2m46 0h2m63 0h3m-151 1h2m32 0h1m10 0h1m36 0h1m62 0h3m5 0h1m2 0h2m-167 1h5m4 0h2m42 0h2m6 0h3m4 0h1m21 0h1m13 0h1m49 0h3m6 0h4m-171 1h10m55 0h3m11 0h2m6 0h1m-109 1h3m9 0h2m11 0h2m1 0h5m54 0h2m68 0h1m26 0h2m-188 1h2m12 0h4m4 0h1m4 0h1m2 0h6m11 0h3m39 0h1m18 0h1m51 0h1m23 0h1m2 0h2m-188 1h4m7 0h2m2 0h2m2 0h2m1 0h2m2 0h2m60 0h2m27 0h1m13 0h1m44 0h3m3 0h6m6 0h2m-181 1h2m4 0h3m4 0h1m149 0h1m6 0h1m2 0h2m-184 1h3m6 0h2m4 0h3m4 0h1m161 0h1m-184 1h2m2 0h6m4 0h7m158 0h1m1 0h3m-185 1h7m4 0h9m162 0h3m-185 1h7m6 0h7m40 0h1m40 0h2m79 0h1m-202 1h8m11 0h5m8 0h3m85 0h1m-126 1h10m23 0h4m13 0h2m137 0h1m51 0h4m-248 1h3m5 0h3m107 0h1m72 0h1m1 0h2m-136 1h1m44 0h2m12 0h1m74 0h2m32 0h2m-187 1h1m4 0h3m9 0h3m41 0h1m1 0h1m12 0h1m73 0h3m1 0h3m-159 1h3m89 0h1m63 0h4m12 0h1m8 0h2m-116 1h1m121 0h1m-222 1h5m214 0h2m-229 1h4m5 0h6m12 0h2m101 0h1m-130 1h10m29 0h1m14 0h1m57 0h1m85 0h2m14 0h1m-173 1h4m67 0h4m74 0h1m1 0h5m15 0h5m-104 1h2m17 0h2m7 0h3m47 0h6m2 0h1m13 0h2m-25 1h3m5 0h1m-124 1h1m20 0h5m1 0h2m86 0h1m1 0h2m1 0h4m2 0h3m-129 1h1m20 0h4m2 0h2m86 0h2m2 0h10m-175 1h3m41 0h1m14 0h2m5 0h3m17 0h1m73 0h1m8 0h1m5 0h3m1 0h1m1 0h2m7 0h6m-196 1h7m52 0h2m5 0h3m16 0h1m21 0h1m30 0h1m20 0h1m18 0h5m9 0h4m-196 1h2m44 0h1m13 0h2m5 0h3m14 0h2m52 0h1m19 0h2m-160 1h2m3 0h2m39 0h1m14 0h1m4 0h3m89 0h2m1 0h1m6 0h2m-168 1h3m12 0h3m3 0h3m40 0h1m95 0h2m7 0h1m3 0h1m12 0h2m-173 1h3m5 0h1m25 0h1m56 0h2m49 0h2m5 0h2m4 0h1m13 0h4m-171 1h3m29 0h2m10 0h1m17 0h2m69 0h3m10 0h1m6 0h1m13 0h4m6 0h6m-182 1h2m22 0h1m29 0h2m77 0h2m17 0h1m13 0h4m6 0h9m-162 1h3m8 0h3m20 0h2m74 0h1m4 0h3m41 0h3m-201 1h4m21 0h3m22 0h4m19 0h2m17 0h2m4 0h2m48 0h4m42 0h5m-199 1h4m21 0h6m10 0h3m6 0h1m2 0h1m12 0h2m5 0h2m3 0h1m13 0h2m67 0h7m31 0h5m-204 1h2m23 0h2m1 0h1m14 0h1m4 0h2m4 0h1m11 0h1m4 0h2m2 0h2m1 0h1m3 0h1m9 0h1m68 0h1m3 0h1m3 0h2m33 0h5m-209 1h2m23 0h2m9 0h2m3 0h1m1 0h1m3 0h1m3 0h5m4 0h1m2 0h2m7 0h3m1 0h3m53 0h1m21 0h3m4 0h1m4 0h3m13 0h4m10 0h3m5 0h7m-170 1h5m4 0h1m2 0h2m4 0h1m5 0h1m6 0h4m1 0h3m6 0h1m2 0h1m48 0h1m15 0h2m5 0h1m3 0h3m4 0h2m8 0h8m6 0h7m4 0h3m-191 1h3m20 0h4m3 0h1m3 0h3m2 0h4m4 0h1m11 0h2m5 0h1m4 0h1m14 0h1m32 0h1m25 0h1m6 0h3m3 0h2m1 0h1m-168 1h2m4 0h2m16 0h3m2 0h1m3 0h1m2 0h1m7 0h2m2 0h2m3 0h1m19 0h4m2 0h1m15 0h3m32 0h4m29 0h5m-166 1h1m3 0h2m1 0h3m2 0h2m1 0h1m1 0h3m7 0h2m3 0h2m8 0h2m1 0h5m26 0h2m15 0h3m11 0h1m20 0h4m29 0h3m28 0h3m-199 1h2m3 0h2m1 0h2m1 0h5m3 0h5m7 0h4m4 0h1m6 0h1m2 0h1m1 0h2m13 0h2m11 0h2m19 0h1m9 0h1m2 0h1m9 0h3m6 0h3m30 0h3m28 0h3m1 0h4m-199 1h2m1 0h3m7 0h6m8 0h3m1 0h6m3 0h4m2 0h6m9 0h2m22 0h1m3 0h2m7 0h3m4 0h4m9 0h3m6 0h3m11 0h3m14 0h3m34 0h3m-212 1h2m11 0h1m12 0h5m7 0h1m5 0h2m2 0h1m7 0h1m2 0h4m4 0h1m6 0h1m16 0h1m1 0h1m4 0h2m2 0h2m19 0h2m7 0h2m8 0h2m28 0h5m11 0h2m36 0h8m-241 1h1m10 0h2m11 0h3m2 0h1m2 0h6m2 0h2m3 0h1m14 0h6m3 0h1m5 0h1m4 0h2m16 0h2m4 0h1m2 0h2m21 0h5m1 0h2m9 0h2m1 0h1m22 0h1m2 0h1m16 0h2m4 0h10m11 0h2m3 0h5m3 0h8m-247 1h7m10 0h2m10 0h6m3 0h2m4 0h2m1 0h1m7 0h1m10 0h2m3 0h4m1 0h2m1 0h1m5 0h3m26 0h1m3 0h1m2 0h3m12 0h1m1 0h4m1 0h1m12 0h2m22 0h1m1 0h1m18 0h17m-201 1h2m13 0h3m4 0h1m7 0h1m18 0h3m6 0h3m10 0h1m21 0h5m6 0h3m5 0h1m6 0h1m1 0h2m2 0h5m2 0h2m5 0h1m23 0h8m18 0h7m-196 1h2m10 0h1m2 0h4m10 0h1m1 0h1m9 0h10m8 0h2m1 0h1m8 0h2m4 0h2m1 0h3m21 0h1m15 0h3m2 0h3m38 0h5m17 0h8m6 0h3m-222 1h2m16 0h1m13 0h4m12 0h4m7 0h5m1 0h1m1 0h2m7 0h2m2 0h1m4 0h5m4 0h2m4 0h1m5 0h1m30 0h1m2 0h1m64 0h3m5 0h3m3 0h3m-205 1h2m11 0h6m10 0h2m5 0h1m10 0h1m3 0h1m2 0h2m2 0h3m2 0h1m3 0h1m4 0h2m8 0h3m6 0h1m13 0h1m1 0h1m9 0h1m2 0h1m30 0h3m32 0h2m8 0h9m-192 1h3m16 0h2m3 0h4m10 0h1m2 0h5m2 0h3m2 0h1m1 0h1m1 0h1m8 0h3m9 0h1m1 0h1m23 0h1m68 0h2m8 0h3m-195 1h3m12 0h2m14 0h1m13 0h4m6 0h1m2 0h2m15 0h2m12 0h2m31 0h1m-125 1h2m14 0h1m3 0h1m2 0h2m1 0h1m13 0h1m7 0h1m2 0h1m6 0h2m5 0h1m8 0h1m39 0h1m3 0h1m2 0h1m1 0h2m-125 1h2m14 0h1m3 0h3m2 0h3m12 0h2m5 0h2m2 0h4m18 0h2m34 0h6m2 0h1m2 0h4m13 0h1m19 0h3m34 0h3m-181 1h5m3 0h4m1 0h3m1 0h2m4 0h5m3 0h2m2 0h2m18 0h1m1 0h1m1 0h2m6 0h1m25 0h7m4 0h2m45 0h4m3 0h3m17 0h4m-200 1h2m17 0h4m3 0h3m4 0h1m8 0h1m6 0h2m2 0h2m2 0h2m9 0h1m6 0h1m7 0h2m9 0h1m5 0h2m12 0h1m2 0h1m22 0h1m27 0h2m1 0h2m-161 1h1m6 0h7m3 0h1m4 0h1m4 0h2m6 0h1m1 0h11m2 0h1m10 0h1m2 0h1m6 0h1m16 0h2m12 0h1m20 0h3m2 0h1m29 0h3m-154 1h3m3 0h1m4 0h1m9 0h2m5 0h4m1 0h2m1 0h2m5 0h2m1 0h1m6 0h5m1 0h5m10 0h1m42 0h2m-135 1h1m15 0h2m4 0h1m4 0h7m3 0h2m8 0h1m2 0h2m7 0h1m1 0h1m6 0h6m1 0h2m5 0h1m2 0h5m84 0h1m-186 1h2m2 0h3m1 0h2m24 0h1m2 0h1m3 0h6m2 0h2m6 0h1m3 0h1m3 0h3m4 0h1m6 0h4m1 0h4m9 0h3m34 0h1m32 0h3m1 0h1m13 0h1m8 0h3m-189 1h2m25 0h2m7 0h5m2 0h6m3 0h5m5 0h1m1 0h1m5 0h1m1 0h3m1 0h3m6 0h1m1 0h4m9 0h1m58 0h2m7 0h3m1 0h1m13 0h7m-166 1h2m8 0h2m8 0h3m1 0h1m2 0h4m1 0h1m3 0h8m2 0h2m1 0h1m1 0h3m7 0h2m4 0h1m5 0h1m60 0h1m5 0h1m-155 1h2m12 0h3m17 0h3m3 0h1m9 0h3m2 0h1m3 0h1m1 0h2m3 0h5m4 0h1m11 0h1m16 0h1m50 0h2m-158 1h2m1 0h1m19 0h1m11 0h2m3 0h1m11 0h5m4 0h1m6 0h3m1 0h1m15 0h1m3 0h1m30 0h1m-142 1h4m16 0h1m1 0h5m14 0h1m30 0h2m13 0h1m1 0h2m10 0h1m38 0h2m-156 1h3m9 0h4m1 0h1m17 0h1m3 0h5m22 0h1m3 0h1m15 0h2m20 0h2m19 0h2m23 0h1m-155 1h3m27 0h2m7 0h2m18 0h1m2 0h1m1 0h5m1 0h2m10 0h1m2 0h3m7 0h1m13 0h1m20 0h2m-110 1h3m5 0h3m31 0h3m14 0h1m4 0h1m15 0h1m5 0h1m6 0h1m12 0h1m25 0h1m51 0h3m-185 1h1m17 0h7m30 0h1m1 0h1m17 0h1m84 0h1m-147 1h3m1 0h7m30 0h1m7 0h1m10 0h2m2 0h1m-96 1h5m18 0h3m9 0h5m7 0h2m1 0h2m13 0h3m5 0h2m18 0h2m59 0h3m-176 1h4m13 0h2m3 0h2m18 0h2m11 0h4m5 0h5m10 0h1m2 0h5m34 0h2m12 0h1m37 0h3m-176 1h4m3 0h1m34 0h2m1 0h2m10 0h2m4 0h1m2 0h1m11 0h5m1 0h1m36 0h2m11 0h2m107 0h18m-233 1h4m32 0h2m18 0h1m27 0h1m8 0h4m9 0h1m-111 1h2m4 0h2m3 0h2m40 0h2m1 0h4m4 0h2m16 0h1m5 0h1m7 0h2m-123 1h5m22 0h3m1 0h2m9 0h3m3 0h1m28 0h1m8 0h3m18 0h1m-65 1h8m1 0h2m6 0h3m23 0h2m17 0h3m137 0h6m-203 1h4m8 0h3m33 0h1m9 0h2m2 0h1m7 0h1m19 0h2m-91 1h3m19 0h2m23 0h1m10 0h1m-25 1h1m12 0h1m-34 1h2m29 0h2m68 0h1m-102 1h1m30 0h1m30 0h2m38 0h1m-102 1h1m5 0h3m51 0h3m38 0h1m-97 1h1m31 0h1m44 0h2m16 0h1m-94 1h2m3 0h2m4 0h1m37 0h1m-51 1h1m6 0h4m1 0h1m17 0h2m18 0h1m-44 1h4m19 0h1m16 0h1m60 0h1m-102 1h3m37 0h2m-20 2h2m-2 1h2m9 2h2m57 0h3m-61 1h1m16 0h1m40 0h2m3 0h1m-65 1h1m41 0h1m15 0h3m-21 1h1m18 0h2m31 1h3m-3 1h3m-65 3h1m-57 2h2m92 7h3m16 0h2"/><path stroke="#00b400" d="M0 0m164 0h1m110 5h1m-124 24h1m37 10h1m-1 1h1m91 0h1m-196 3h6m89 3h3m-4 1h3m-94 1h3m-8 1h8m82 0h2m-91 1h3m86 0h2m104 0h1m-191 1h1m12 0h4m-17 1h1m9 0h5m47 2h1m32 0h2m-35 1h1m32 0h1m-1 1h1m-22 1h1m15 0h4m-9 6h3m-1 1h2m-25 1h2m115 1h1m-80 1h1m94 0h1m-96 1h1m94 0h2m-195 1h3m60 3h1m120 1h3m2 0h1m-5 1h1m-154 1h2m58 0h1m-61 1h1m52 0h1m6 0h1m94 0h3m-105 1h1m2 0h1m98 0h2m-159 1h1m23 0h1m-25 1h2m50 0h3m9 0h2m-68 1h2m65 0h1m97 3h2m-169 3h4m-25 1h3m18 0h4m159 0h1m-173 1h2m6 0h1m2 0h2m-17 1h3m1 0h2m9 0h2m1 0h1m158 0h2m-179 1h1m3 0h2m9 0h4m158 0h4m-181 1h2m-29 5h5m184 0h1m-1 1h1m-89 1h1m-101 4h5m190 2h2m-9 1h1m6 0h2m-6 1h5m-4 1h1m-121 1h1m117 0h2m-120 1h1m115 0h1m2 0h2m2 0h1m1 0h5m-15 1h1m4 0h1m2 0h2m4 0h4m-176 1h5m153 0h2m3 0h1m3 0h1m4 0h2m-174 1h3m155 0h1m1 0h2m11 0h1m-18 1h3m5 0h2m2 0h1m1 0h3m-94 1h2m81 0h1m-113 2h1m99 0h1m-1 1h1m1 0h1m43 0h4m-147 2h2m45 0h2m68 0h1m-142 1h1m13 0h1m8 0h4m108 0h3m1 0h3m30 0h5m-156 1h3m10 0h2m7 0h2m3 0h1m86 0h4m20 0h4m9 0h5m-158 1h1m2 0h1m10 0h5m5 0h2m90 0h3m-119 1h1m1 0h1m13 0h1m2 0h1m20 0h4m-69 1h1m25 0h2m14 0h3m-53 1h2m6 0h1m3 0h2m-14 1h3m5 0h1m39 0h1m47 0h2m11 0h2m-111 1h3m44 0h2m47 0h2m-56 1h3m1 0h2m4 0h4m25 0h1m-30 1h2m2 0h1m30 0h2m31 0h3m33 0h2m19 0h4m-170 1h3m8 0h1m28 0h1m2 0h1m31 0h4m23 0h1m6 0h3m34 0h1m-147 1h4m7 0h1m90 0h1m2 0h2m71 0h6m-172 1h1m93 0h1m71 0h6m-173 1h2m16 0h1m13 0h1m137 0h3m-170 1h2m1 0h1m16 0h2m7 0h2m5 0h1m1 0h1m-37 1h3m15 0h2m5 0h2m8 0h1m22 0h1m-72 1h1m14 0h4m1 0h1m11 0h4m3 0h2m-58 1h3m30 0h3m1 0h1m7 0h1m4 0h3m-53 1h3m12 0h1m5 0h2m10 0h2m2 0h1m-19 1h3m8 0h1m2 0h2m37 0h1m-54 1h3m8 0h8m1 0h1m2 0h1m32 0h4m87 0h1m-145 1h1m8 0h1m5 0h3m2 0h1m30 0h5m-53 1h1m5 0h1m3 0h1m2 0h5m7 0h1m-26 1h1m7 0h3m2 0h8m13 0h1m22 0h2m90 0h2m-181 1h1m27 0h2m10 0h2m2 0h4m1 0h1m13 0h2m11 0h1m9 0h1m1 0h2m89 0h2m-182 1h2m57 0h1m1 0h1m3 0h1m7 0h1m3 0h1m3 0h1m6 0h1m74 0h1m-110 1h2m4 0h1m12 0h2m2 0h1m92 0h3m-121 1h1m1 0h1m13 0h2m5 0h1m-60 1h1m34 0h1m1 0h1m31 0h1m-69 1h1m31 0h2m1 0h1m-4 1h3m61 0h1m-24 1h1m-8 1h1m-22 1h1m19 0h3m-23 1h2m18 0h2m-46 1h1m-50 1h3m22 0h1m-1 1h1m19 0h2m17 0h1m-5 1h3m1 0h1m-58 1h4m49 0h1m-51 1h1m47 0h3m-17 6h1m99 0h1m-1 1h1m-95 1h3m-3 1h1m30 0h1m-21 1h1m36 1h1m-9 7h1"/><path stroke="#00f000" d="M0 0m111 89h1m13 0h1m-17 1h3m159 19h2m2 0h2m-7 1h4m1 0h2m2 0h4m-12 1h3m1 0h3m1 0h4m-10 1h4m2 0h5m-11 1h2m-1 1h1m-120 6h1m-1 1h1m4 1h2m-2 1h1m15 0h2m2 6h2m60 3h1m-62 1h1m-29 1h1m34 0h1m-30 2h1m-22 1h3m18 0h1m-21 1h2m17 0h2m-2 1h2m3 1h2m30 0h3m-52 1h2m7 0h3m5 0h2m36 0h1m-57 1h3m7 0h3m-13 1h3m18 1h1m38 0h1m-29 1h1m-8 2h1m-2 1h1m-2 1h1m0 9h1"/><path stroke="#ffff00" d="M0 0m99 0h3m56 0h2m46 0h1m46 0h1m-122 1h2m-56 3h5m69 1h2m-61 1h6m32 1h1m8 4h2m154 0h1m-71 1h1m61 1h1m-67 6h1m17 1h1m-104 1h2m101 0h1m-104 1h2m-48 1h3m231 0h4m-166 4h2m58 0h2m109 5h7m-186 1h3m-3 1h3m28 0h2m15 0h2m-1 1h1m-85 1h2m6 0h2m73 0h1m10 1h1m5 5h1m-36 1h2m78 0h1m-81 1h3m74 0h4m-4 1h3m31 1h6m-131 1h1m40 0h1m83 0h4m-129 1h1m-1 1h1m15 0h1m28 0h1m48 1h1m19 0h3m-23 1h1m20 0h4m-82 2h1m27 0h1m23 0h1m20 0h1m-157 1h2m66 0h2m64 0h2m20 0h1m-157 1h2m9 0h1m56 0h1m65 0h2m-163 1h3m92 0h1m59 0h1m-156 1h3m152 0h1m17 0h1m-90 1h1m77 0h1m10 0h2m-102 1h1m10 0h2m76 0h1m5 0h1m5 0h2m-104 1h1m94 0h1m-129 1h3m30 0h1m19 0h1m7 0h2m66 0h1m-130 1h2m121 0h1m5 0h1m-13 1h1m5 0h2m3 0h2m-14 1h1m6 0h2m2 0h4m-6 1h2m1 0h2m2 0h1m-11 1h3m-63 1h3m16 0h2m44 0h1m-66 1h2m17 0h2m14 0h2m26 0h3m1 0h3m-63 1h2m26 0h2m30 0h1m-131 1h3m66 0h1m1 0h1m26 0h3m22 0h1m19 0h1m-168 1h2m22 0h3m66 0h2m5 0h1m22 0h1m3 0h1m19 0h1m10 0h1m-1 1h4m-168 1h2m58 0h1m39 0h1m42 0h1m21 0h2m-178 1h6m5 0h4m56 0h1m67 0h1m14 0h2m2 0h2m16 0h2m-178 1h8m3 0h1m127 0h1m-140 1h3m5 0h3m44 0h2m9 0h2m99 0h4m-168 1h8m50 0h2m3 0h1m66 0h1m36 0h1m-111 1h4m2 0h1m5 0h1m50 0h2m45 0h2m-109 1h1m1 0h2m5 0h1m50 0h1m56 0h1m-128 1h1m9 0h3m6 0h2m55 0h2m-78 1h1m7 0h2m66 0h1m9 0h1m-79 1h3m19 0h1m27 0h1m17 0h2m39 0h1m5 0h2m2 0h1m-120 1h2m45 0h4m17 0h2m38 0h3m-64 1h1m20 0h2m37 0h3m12 0h1m-82 1h3m4 0h2m23 0h1m-33 1h3m24 0h1m-75 1h2m72 0h1m-75 1h2m28 0h1m42 0h2m48 1h2m-172 1h2m76 0h1m36 0h2m53 0h2m-105 1h2m5 0h2m2 0h2m35 0h3m37 0h3m13 0h1m-98 1h2m2 0h2m16 0h2m4 0h1m14 0h1m36 0h2m-192 1h14m117 0h2m23 0h3m-145 1h5m77 0h3m54 0h1m21 0h3m19 0h1m-162 1h5m55 0h2m37 0h2m16 0h1m4 0h1m16 0h3m19 0h3m11 0h1m-77 1h6m35 0h2m5 0h2m-48 1h4m8 0h1m11 0h2m21 0h1m-116 1h1m15 0h1m48 0h1m26 0h2m13 0h3m-166 1h7m50 0h1m14 0h1m24 0h4m1 0h4m10 0h1m4 0h2m37 0h2m2 0h3m5 0h1m-173 1h6m17 0h1m76 0h1m1 0h3m1 0h1m8 0h3m3 0h2m7 0h2m26 0h3m5 0h1m5 0h1m26 0h2m-202 1h7m82 0h1m15 0h2m8 0h3m4 0h2m1 0h1m5 0h2m20 0h2m4 0h1m1 0h2m4 0h1m32 0h5m-117 1h2m25 0h1m1 0h1m43 0h4m2 0h1m32 0h2m1 0h2m-117 1h1m26 0h1m1 0h1m41 0h1m1 0h1m2 0h3m34 0h2m-92 1h2m4 0h1m11 0h1m1 0h3m25 0h1m5 0h1m5 0h1m28 0h2m-91 1h1m17 0h3m20 0h2m6 0h2m3 0h2m4 0h1m29 0h1m-84 1h1m10 0h1m22 0h2m11 0h6m3 0h1m-62 1h6m11 0h2m11 0h1m8 0h1m10 0h2m2 0h4m2 0h3m-63 1h4m13 0h2m10 0h2m8 0h1m11 0h1m4 0h3m2 0h2m-58 1h1m11 0h2m10 0h2m25 0h3m1 0h1m65 0h2m-125 1h4m4 0h1m4 0h4m2 0h2m102 0h2m-135 1h1m10 0h1m5 0h3m4 0h2m3 0h4m12 0h1m24 0h1m-60 1h2m1 0h1m2 0h2m4 0h2m5 0h4m3 0h1m7 0h1m24 0h3m3 0h3m39 0h2m-106 1h1m2 0h2m3 0h2m6 0h4m10 0h3m13 0h1m7 0h1m1 0h3m4 0h1m14 0h2m6 0h5m13 0h3m-150 1h1m43 0h1m5 0h2m5 0h4m6 0h1m6 0h1m1 0h1m12 0h1m6 0h2m30 0h1m5 0h2m-103 1h1m2 0h1m7 0h1m5 0h2m4 0h2m2 0h1m6 0h2m6 0h1m3 0h1m9 0h2m5 0h2m30 0h1m-111 1h1m4 0h4m8 0h1m2 0h1m2 0h4m4 0h1m2 0h1m4 0h1m5 0h1m2 0h1m1 0h1m10 0h2m9 0h2m4 0h2m6 0h1m18 0h2m1 0h5m-113 1h1m8 0h1m9 0h1m3 0h1m2 0h1m7 0h1m5 0h2m5 0h1m2 0h1m10 0h1m11 0h1m3 0h1m2 0h1m4 0h2m18 0h5m14 0h1m25 0h3m-134 1h1m2 0h1m3 0h3m1 0h1m2 0h3m10 0h2m1 0h2m2 0h1m23 0h3m5 0h2m19 0h1m42 0h5m-159 1h1m23 0h5m1 0h1m2 0h2m4 0h3m6 0h1m2 0h1m4 0h3m17 0h2m19 0h1m-148 1h2m48 0h2m19 0h1m1 0h1m5 0h2m10 0h1m2 0h1m4 0h3m5 0h2m23 0h1m13 0h4m34 0h2m-179 1h2m41 0h1m29 0h1m10 0h1m2 0h1m34 0h4m5 0h2m3 0h2m2 0h1m-78 1h1m3 0h1m4 0h1m4 0h1m5 0h4m35 0h3m7 0h6m2 0h1m-84 1h3m3 0h1m6 0h2m12 0h1m2 0h1m19 0h1m1 0h1m6 0h1m12 0h1m3 0h5m1 0h2m-85 1h4m4 0h3m4 0h2m10 0h1m3 0h1m12 0h1m6 0h3m6 0h1m11 0h1m6 0h1m2 0h3m54 0h3m-142 1h1m2 0h2m3 0h2m17 0h1m3 0h1m11 0h2m28 0h1m8 0h3m56 0h3m-154 1h1m13 0h1m2 0h1m11 0h2m6 0h3m13 0h3m2 0h1m24 0h1m5 0h3m-72 1h1m7 0h3m5 0h4m13 0h2m4 0h1m19 0h5m6 0h2m-127 1h1m53 0h1m7 0h2m1 0h2m5 0h2m1 0h1m14 0h1m1 0h3m19 0h3m1 0h2m3 0h1m2 0h2m-127 1h2m6 0h2m52 0h1m2 0h1m1 0h1m2 0h2m17 0h2m6 0h2m15 0h2m6 0h1m1 0h2m74 0h3m-199 1h4m48 0h2m6 0h1m2 0h1m1 0h2m8 0h2m2 0h1m14 0h2m15 0h3m5 0h4m68 0h10m-199 1h1m49 0h2m5 0h1m2 0h1m3 0h4m5 0h1m3 0h1m31 0h4m5 0h1m1 0h2m-49 1h1m13 0h1m21 0h6m3 0h1m1 0h3m-64 1h1m3 0h1m14 0h3m19 0h2m11 0h1m3 0h3m1 0h1m-126 1h1m3 0h2m1 0h1m47 0h1m1 0h1m6 0h5m4 0h1m8 0h2m20 0h2m11 0h1m3 0h4m-130 1h2m3 0h2m4 0h2m47 0h1m7 0h1m2 0h2m14 0h3m12 0h1m15 0h5m3 0h2m1 0h1m-130 1h3m3 0h1m6 0h2m37 0h2m6 0h3m2 0h4m1 0h1m2 0h1m1 0h2m7 0h1m2 0h3m10 0h2m15 0h13m-131 1h3m5 0h2m4 0h2m37 0h1m6 0h1m6 0h1m1 0h3m1 0h2m2 0h2m3 0h2m1 0h4m1 0h1m11 0h1m14 0h1m1 0h2m2 0h8m2 0h3m-119 1h3m48 0h1m4 0h1m4 0h1m2 0h1m1 0h1m1 0h4m1 0h1m2 0h2m21 0h2m7 0h5m4 0h2m13 0h3m-79 1h1m7 0h5m3 0h1m1 0h2m57 0h2m-108 1h2m27 0h2m5 0h2m7 0h4m3 0h1m1 0h1m20 0h2m-106 1h3m53 0h1m1 0h2m5 0h2m14 0h2m20 0h1m16 0h5m-148 1h2m14 0h2m6 0h2m53 0h1m3 0h1m8 0h1m7 0h2m3 0h3m18 0h1m12 0h8m-133 1h1m1 0h2m55 0h1m13 0h1m9 0h10m19 0h1m12 0h3m-131 1h8m66 0h2m1 0h1m6 0h9m22 0h1m-120 1h1m3 0h4m1 0h3m57 0h1m8 0h1m5 0h2m2 0h3m3 0h2m8 0h2m-33 1h1m2 0h1m6 0h3m7 0h3m8 0h2m22 0h2m-57 1h1m1 0h1m4 0h2m2 0h1m8 0h4m7 0h4m-92 1h2m47 0h1m7 0h2m3 0h3m3 0h2m3 0h1m2 0h3m2 0h3m4 0h1m8 0h3m26 0h2m33 0h2m-168 1h1m4 0h1m51 0h1m3 0h3m3 0h1m5 0h1m1 0h1m1 0h3m22 0h3m61 0h5m-172 1h2m48 0h1m8 0h3m6 0h1m2 0h2m1 0h1m2 0h1m2 0h1m17 0h1m4 0h2m63 0h1m-172 1h3m2 0h2m45 0h2m8 0h3m8 0h1m4 0h1m4 0h1m17 0h1m2 0h1m60 0h3m-164 1h5m53 0h3m8 0h1m1 0h1m2 0h1m3 0h1m80 0h2m-179 1h2m9 0h3m8 0h1m53 0h1m15 0h4m113 0h10m-142 1h1m15 0h2m32 0h1m81 0h13m-212 1h4m6 0h2m37 0h2m15 0h2m17 0h1m37 0h1m48 0h5m-129 1h3m15 0h1m1 0h1m16 0h1m1 0h1m31 0h2m53 0h3m-128 1h1m17 0h1m7 0h1m6 0h1m4 0h1m-111 1h2m74 0h1m12 0h2m11 0h2m22 0h2m53 0h2m-108 1h1m17 0h1m8 0h2m-22 1h1m10 0h1m8 0h1m1 0h1m43 0h2m-76 1h2m6 0h1m4 0h1m15 0h1m-29 1h1m-49 1h1m32 0h1m50 0h1m-17 1h2m-9 1h1m6 0h2m18 0h1m-38 1h1m9 0h1m18 0h2m6 0h1m-38 1h1m25 0h4m6 0h2m-17 1h1m4 0h1m-72 1h3m39 2h1m0 1h1m21 0h1m30 0h2m-49 1h2m-1 1h2m-1 1h1m91 3h2m-94 1h1m-42 3h1m131 1h1m-69 2h2m-2 1h1m30 0h2m-40 3h3m4 2h1m-19 2h1m13 0h1m-87 1h2m19 0h1m49 0h2m64 0h1"/><path stroke="#ffc800" d="M0 0m207 0h1m56 65h1m-3 1h3m-3 1h2m-58 3h1m-109 6h5m159 1h3m-106 2h1m44 5h2m-25 15h1m60 0h2m-63 1h1m59 0h1m2 0h2m-7 1h1m2 0h1m-48 1h1m42 0h1m5 0h2m35 0h1m-87 1h1m43 1h2m-32 2h1m-14 2h2m53 0h2m-57 1h1m54 0h1m-55 2h3m-2 1h1m32 2h1m53 0h5m-76 1h2m69 0h5m-95 1h2m9 0h2m6 0h5m4 0h1m63 0h3m-96 1h3m1 0h2m5 0h3m8 0h4m2 0h2m28 0h2m-60 1h2m1 0h1m1 0h1m17 0h3m-22 1h1m19 0h2m-27 1h1m-2 1h2m-4 2h1m20 0h1m-2 1h1m44 0h1m-44 1h1m-1 1h1m-1 1h1m17 0h1m30 0h1m-61 1h1m26 0h1m32 0h2m-62 1h2m54 0h1m3 0h1m-61 1h1m4 0h1m49 0h2m-113 1h3m59 0h1m49 0h1m-114 1h1m1 0h2m56 0h1m2 0h2m3 0h1m-69 1h1m1 0h2m56 0h3m2 0h4m-67 1h1m49 0h1m-1 1h2m65 0h1m-58 1h2m-6 1h1m3 0h1m16 0h1m-8 1h1m6 0h1m0 1h1m7 2h1m20 0h1m-41 3h1m-4 1h1m7 4h1m-1 1h2m1 0h2m-9 1h2m3 0h2m1 0h1m-4 1h3m-19 4h1m-2 1h1m13 3h1m-29 12h1"/><path stroke="#ff8000" d="M0 0m242 100h2m-1 1h3m-7 1h1m-1 1h1m-42 15h1m13 5h1m-2 1h2m-3 1h2m-7 6h2m-62 1h1m59 0h2m2 0h3m-67 1h1m65 1h2m8 17h1"/></g><ellipse cx="437" cy="632" rx="18" ry="8.5" fill="#008a00"/><ellipse cx="440" cy="631" rx="9" ry="4.5" fill="#00b000"/><path fill="#ffff00" d="M414 436h10v5h-10zM437 439h13v4h-13zM437 500h13v3h-13zM457 522h10v14h-10zM465 635h12v3h-12zM1225 619h36v5h-36zM1238 632h16v3h-16zM1220 647h15v5h-15z"/><path fill="#007e00" d="M1222 557h15v4h-15zM1248 566h14v6h-14zM1220 585h9v3h-9z"/><rect x="459" y="526" width="6" height="6" fill="#ff6040"/><g fill="#c0c0ff"><rect x="1038" y="562" width="8" height="8"/><rect x="1035" y="575" width="9" height="9"/></g><rect x="1040" y="577" width="5" height="5" fill="#4050e0"/></g>
<g clip-path="url(#cl)">
<g filter="url(#bl)"><path fill="#d83800" d="M204 228h42v6h-42zM204 234h36v6h-36zM204 240h30v6h-30zM204 246h12v6h-12zM276 336h24v6h-24zM270 342h6v6h-6zM306 342h12v6h-12zM264 348h12v6h-12zM270 354h6v6h-6zM318 354h6v6h-6zM276 360h6v6h-6zM312 360h6v6h-6zM384 378h42v6h-42zM360 384h84v6h-84zM354 390h90v6h-90zM342 396h36v6h-36zM426 396h18v6h-18zM312 402h36v6h-36zM432 402h12v6h-12zM288 408h6v6h-6zM438 408h6v6h-6zM258 420h6v6h-6zM252 426h6v6h-6zM246 432h6v6h-6zM240 438h6v6h-6zM234 444h12v6h-12zM234 450h6v6h-6zM228 456h12v6h-12zM222 462h12v6h-12zM222 468h12v6h-12zM216 474h12v6h-12zM204 480h24v6h-24zM204 486h24v6h-24zM204 492h30v6h-30zM204 498h30v6h-30zM216 504h24v6h-24zM222 510h24v6h-24zM234 516h18v6h-18zM240 522h18v6h-18zM246 528h12v6h-12zM246 534h18v6h-18zM252 540h12v6h-12zM252 546h12v6h-12zM252 552h12v6h-12zM252 558h12v6h-12zM252 564h12v6h-12zM252 570h12v6h-12zM252 576h6v6h-6zM252 582h6v6h-6zM252 588h6v6h-6zM246 594h6v6h-6zM240 600h12v6h-12zM234 606h12v6h-12zM216 612h30v6h-30zM348 612h6v6h-6zM378 612h6v6h-6zM204 618h36v6h-36zM336 618h6v6h-6zM204 624h42v6h-42zM330 624h6v6h-6zM390 624h6v6h-6zM228 630h30v6h-30zM324 630h6v6h-6zM228 636h18v6h-18zM264 636h12v6h-12zM396 636h6v6h-6zM222 642h18v6h-18zM282 642h6v6h-6zM222 648h12v6h-12zM300 648h18v6h-18zM216 654h12v6h-12zM396 654h6v6h-6zM210 660h18v6h-18zM372 660h12v6h-12zM204 666h18v6h-18zM348 666h12v6h-12zM204 672h12v6h-12zM336 672h6v6h-6zM330 678h6v6h-6zM324 684h6v6h-6zM288 690h12v6h-12zM318 690h24v6h-24zM264 696h12v6h-12zM324 696h6v6h-6zM348 696h6v6h-6zM420 696h6v6h-6zM258 702h6v6h-6zM324 702h6v6h-6zM372 702h30v6h-30zM258 708h6v6h-6zM324 708h6v6h-6zM258 714h6v6h-6zM258 720h6v6h-6zM318 720h6v6h-6zM276 732h12v6h-12zM294 732h6v6h-6z"/><path fill="#e04000" d="M246 228h24v6h-24zM246 234h18v6h-18zM240 240h24v6h-24zM228 246h30v6h-30zM204 252h48v6h-48zM204 258h18v6h-18zM264 336h12v6h-12zM300 336h12v6h-12zM258 342h6v6h-6zM252 348h12v6h-12zM318 348h6v6h-6zM258 354h6v6h-6zM324 354h6v6h-6zM264 360h12v6h-12zM318 360h6v6h-6zM282 366h36v6h-36zM402 366h6v6h-6zM348 372h96v6h-96zM342 378h30v6h-30zM342 384h12v6h-12zM336 390h12v6h-12zM330 396h12v6h-12zM306 402h6v6h-6zM270 414h6v6h-6zM252 420h6v6h-6zM246 426h6v6h-6zM240 432h6v6h-6zM234 438h6v6h-6zM228 444h6v6h-6zM222 450h12v6h-12zM210 456h18v6h-18zM204 462h18v6h-18zM204 468h12v6h-12zM204 474h6v6h-6zM204 504h12v6h-12zM204 510h18v6h-18zM204 516h30v6h-30zM216 522h24v6h-24zM228 528h12v6h-12zM234 534h12v6h-12zM234 540h12v6h-12zM240 546h12v6h-12zM240 552h12v6h-12zM246 558h6v6h-6zM246 564h6v6h-6zM246 570h6v6h-6zM246 576h6v6h-6zM246 582h6v6h-6zM240 588h12v6h-12zM240 594h6v6h-6zM228 600h12v6h-12zM204 606h30v6h-30zM354 612h6v6h-6zM372 612h6v6h-6zM384 618h6v6h-6zM390 630h6v6h-6zM246 636h18v6h-18zM324 636h6v6h-6zM240 642h6v6h-6zM276 642h6v6h-6zM396 642h6v6h-6zM234 648h6v6h-6zM288 648h12v6h-12zM396 648h6v6h-6zM228 654h12v6h-12zM390 654h6v6h-6zM228 660h6v6h-6zM366 660h6v6h-6zM222 666h6v6h-6zM342 666h6v6h-6zM216 672h12v6h-12zM330 672h6v6h-6zM204 678h12v6h-12zM324 678h6v6h-6zM318 684h6v6h-6zM282 690h6v6h-6zM258 696h6v6h-6zM330 696h18v6h-18zM426 696h12v6h-12zM252 702h6v6h-6zM330 702h6v6h-6zM360 702h12v6h-12zM402 702h12v6h-12zM252 708h6v6h-6zM252 714h6v6h-6zM324 714h6v6h-6zM312 726h6v6h-6zM270 732h6v6h-6zM300 732h6v6h-6z"/><path fill="#e84800" d="M270 228h6v6h-6zM264 240h6v6h-6zM258 252h6v6h-6zM240 258h18v6h-18zM204 264h12v6h-12zM270 330h30v6h-30zM246 336h12v6h-12zM312 336h6v6h-6zM234 342h18v6h-18zM234 348h18v6h-18zM324 348h6v6h-6zM240 354h12v6h-12zM246 360h12v6h-12zM330 360h6v6h-6zM366 360h78v6h-78zM264 366h12v6h-12zM324 366h24v6h-24zM330 372h6v6h-6zM330 378h6v6h-6zM330 390h6v6h-6zM324 396h6v6h-6zM252 414h12v6h-12zM240 420h6v6h-6zM234 426h6v6h-6zM222 432h12v6h-12zM216 438h12v6h-12zM204 444h18v6h-18zM204 450h6v6h-6zM204 528h12v6h-12zM204 534h24v6h-24zM204 540h24v6h-24zM222 546h12v6h-12zM228 552h12v6h-12zM234 558h6v6h-6zM234 564h6v6h-6zM234 570h6v6h-6zM234 576h6v6h-6zM234 582h6v6h-6zM228 588h12v6h-12zM204 594h30v6h-30zM378 618h6v6h-6zM336 624h6v6h-6zM384 624h6v6h-6zM330 630h6v6h-6zM390 636h6v6h-6zM252 642h18v6h-18zM246 648h6v6h-6zM282 648h6v6h-6zM390 648h6v6h-6zM240 654h6v6h-6zM300 654h6v6h-6zM312 654h6v6h-6zM378 654h6v6h-6zM234 660h6v6h-6zM354 660h6v6h-6zM234 666h6v6h-6zM228 672h6v6h-6zM324 672h6v6h-6zM222 678h6v6h-6zM318 678h6v6h-6zM204 684h12v6h-12zM306 684h6v6h-6zM270 690h6v6h-6zM252 696h6v6h-6zM438 696h6v6h-6zM336 702h18v6h-18zM414 702h6v6h-6zM246 714h6v6h-6zM330 714h6v6h-6zM324 720h6v6h-6zM318 726h6v6h-6zM264 732h6v6h-6zM306 732h6v6h-6z"/><path fill="#e85000" d="M276 228h6v6h-6zM270 234h6v6h-6zM270 240h6v6h-6zM264 246h6v6h-6zM264 252h6v6h-6zM258 258h12v6h-12zM216 264h42v6h-42zM240 330h30v6h-30zM300 330h6v6h-6zM204 336h42v6h-42zM204 342h30v6h-30zM324 342h6v6h-6zM204 348h30v6h-30zM330 348h6v6h-6zM204 354h36v6h-36zM330 354h114v6h-114zM204 360h42v6h-42zM336 360h30v6h-30zM204 366h60v6h-60zM204 372h54v6h-54zM294 372h36v6h-36zM204 378h30v6h-30zM324 378h6v6h-6zM204 384h24v6h-24zM324 384h12v6h-12zM204 390h24v6h-24zM324 390h6v6h-6zM204 396h24v6h-24zM312 396h12v6h-12zM204 402h36v6h-36zM294 402h6v6h-6zM204 408h48v6h-48zM276 408h6v6h-6zM204 414h48v6h-48zM204 420h36v6h-36zM204 426h30v6h-30zM204 432h18v6h-18zM204 438h12v6h-12zM204 546h18v6h-18zM204 552h24v6h-24zM204 558h30v6h-30zM204 564h30v6h-30zM204 570h30v6h-30zM204 576h30v6h-30zM204 582h30v6h-30zM204 588h24v6h-24zM348 618h12v6h-12zM372 618h6v6h-6zM384 630h6v6h-6zM324 642h6v6h-6zM390 642h6v6h-6zM252 648h30v6h-30zM384 648h6v6h-6zM246 654h6v6h-6zM288 654h12v6h-12zM318 654h6v6h-6zM366 654h12v6h-12zM240 660h6v6h-6zM306 660h12v6h-12zM342 660h12v6h-12zM240 666h6v6h-6zM324 666h12v6h-12zM234 672h6v6h-6zM318 672h6v6h-6zM228 678h12v6h-12zM216 684h18v6h-18zM294 684h12v6h-12zM252 690h18v6h-18zM240 696h12v6h-12zM234 702h12v6h-12zM420 702h12v6h-12zM234 708h12v6h-12zM336 708h6v6h-6zM360 708h48v6h-48zM240 714h6v6h-6zM246 720h6v6h-6zM330 720h6v6h-6zM252 726h6v6h-6zM324 726h6v6h-6zM258 732h6v6h-6zM312 732h6v6h-6zM276 738h18v6h-18z"/><path fill="#f06000" d="M282 228h6v6h-6zM276 240h6v6h-6zM270 258h6v6h-6zM204 324h18v6h-18zM252 324h12v6h-12zM288 324h6v6h-6zM312 330h6v6h-6zM330 342h6v6h-6zM342 348h18v6h-18zM264 378h12v6h-12zM306 378h12v6h-12zM258 384h6v6h-6zM252 390h6v6h-6zM312 390h6v6h-6zM252 396h6v6h-6zM300 396h6v6h-6zM258 402h6v6h-6zM282 402h6v6h-6zM348 624h6v6h-6zM372 624h6v6h-6zM378 630h6v6h-6zM330 642h6v6h-6zM348 654h6v6h-6zM258 660h6v6h-6zM282 660h6v6h-6zM252 666h6v6h-6zM300 666h6v6h-6zM246 678h6v6h-6zM300 678h6v6h-6zM246 684h30v6h-30zM204 696h12v6h-12zM210 702h12v6h-12zM438 702h6v6h-6zM216 708h12v6h-12zM420 708h6v6h-6zM222 714h6v6h-6zM342 714h6v6h-6zM228 720h6v6h-6zM336 720h6v6h-6zM330 726h6v6h-6zM318 732h6v6h-6zM264 738h6v6h-6zM270 792h6v6h-6zM282 792h6v6h-6zM282 804h6v6h-6z"/><path fill="#ff7000" d="M288 228h6v6h-6zM282 240h6v6h-6zM276 258h6v6h-6zM276 264h6v6h-6zM210 276h6v6h-6zM210 318h48v6h-48zM288 318h12v6h-12zM312 324h6v6h-6zM324 330h6v6h-6zM390 330h42v6h-42zM336 336h30v6h-30zM438 714h6v6h-6zM420 720h24v6h-24zM408 726h30v6h-30zM390 732h36v6h-36zM228 738h18v6h-18zM342 738h24v6h-24zM372 738h42v6h-42zM264 744h6v6h-6zM282 744h6v6h-6zM354 744h48v6h-48zM366 750h18v6h-18zM264 810h6v6h-6zM270 816h12v6h-12z"/><path fill="#ff8800" d="M294 228h6v6h-6zM288 240h6v6h-6zM282 264h6v6h-6zM210 282h12v6h-12zM258 282h6v6h-6zM204 288h6v6h-6zM270 288h24v6h-24zM270 294h24v6h-24zM270 300h12v6h-12zM288 300h18v6h-18zM204 306h6v6h-6zM258 306h12v6h-12zM300 306h12v6h-12zM222 312h24v6h-24zM312 312h12v6h-12zM318 318h18v6h-18zM378 318h54v6h-54zM336 324h30v6h-30zM300 744h6v6h-6zM318 744h12v6h-12zM252 750h30v6h-30zM336 750h6v6h-6zM348 756h6v6h-6zM354 762h6v6h-6zM360 768h6v6h-6zM360 774h6v6h-6zM288 780h6v6h-6zM360 780h6v6h-6zM294 786h6v6h-6zM360 786h6v6h-6zM258 792h6v6h-6zM360 792h6v6h-6zM360 798h12v6h-12zM360 804h12v6h-12zM258 810h6v6h-6zM366 810h12v6h-12zM366 816h18v6h-18zM264 822h6v6h-6zM282 822h6v6h-6zM366 822h18v6h-18zM276 828h6v6h-6zM366 828h12v6h-12z"/><path fill="#ff9830" d="M300 228h6v6h-6zM222 288h6v6h-6zM246 288h6v6h-6zM210 294h6v6h-6zM306 294h6v6h-6zM318 300h6v6h-6zM336 306h6v6h-6zM438 312h6v6h-6zM318 750h6v6h-6zM264 756h18v6h-18zM330 756h6v6h-6zM288 774h6v6h-6zM348 774h6v6h-6zM300 786h6v6h-6zM348 792h6v6h-6zM348 798h6v6h-6zM306 804h6v6h-6zM306 810h6v6h-6zM336 810h12v6h-12zM306 816h36v6h-36zM306 822h24v6h-24zM306 828h24v6h-24z"/><path fill="#ffa850" d="M306 228h6v6h-6zM300 240h6v6h-6zM294 258h6v6h-6zM312 288h6v6h-6zM336 294h30v6h-30zM378 294h48v6h-48zM300 756h6v6h-6zM264 762h6v6h-6zM288 762h36v6h-36zM294 768h6v6h-6zM324 768h6v6h-6zM300 774h6v6h-6zM330 774h6v6h-6zM306 780h6v6h-6zM330 780h12v6h-12zM312 786h6v6h-6zM330 786h12v6h-12zM312 792h6v6h-6zM330 792h6v6h-6zM318 798h12v6h-12zM252 816h6v6h-6z"/><path fill="#ffb868" d="M312 228h6v6h-6zM384 228h12v6h-12zM384 234h18v6h-18zM306 240h6v6h-6zM390 240h12v6h-12zM390 246h12v6h-12zM384 252h18v6h-18zM300 258h6v6h-6zM384 258h18v6h-18zM300 264h6v6h-6zM378 264h18v6h-18zM372 270h18v6h-18zM306 276h6v6h-6zM360 276h18v6h-18zM312 282h12v6h-12zM342 282h24v6h-24zM204 762h36v6h-36zM258 768h6v6h-6zM246 798h6v6h-6zM246 804h6v6h-6zM246 810h6v6h-6zM246 816h6v6h-6z"/><path fill="#ffc078" d="M318 228h6v6h-6zM360 228h12v6h-12zM366 234h6v6h-6zM312 240h6v6h-6zM366 240h12v6h-12zM366 246h12v6h-12zM306 252h6v6h-6zM366 252h6v6h-6zM306 258h6v6h-6zM360 258h12v6h-12zM306 264h6v6h-6zM354 264h12v6h-12zM348 270h12v6h-12zM318 276h30v6h-30zM240 768h12v6h-12zM252 774h6v6h-6zM246 786h6v6h-6zM240 804h6v6h-6zM204 810h42v6h-42zM204 816h42v6h-42zM204 822h42v6h-42zM204 828h42v6h-42z"/><path fill="#ffc080" d="M324 228h6v6h-6zM348 228h12v6h-12zM318 234h6v6h-6zM354 234h12v6h-12zM360 240h6v6h-6zM312 246h6v6h-6zM360 246h6v6h-6zM354 252h12v6h-12zM354 258h6v6h-6zM312 264h6v6h-6zM348 264h6v6h-6zM312 270h12v6h-12zM336 270h12v6h-12zM204 768h36v6h-36zM246 774h6v6h-6zM246 780h6v6h-6zM240 798h6v6h-6zM204 804h36v6h-36z"/><path fill="#ffc888" d="M330 228h18v6h-18zM324 234h30v6h-30zM318 240h12v6h-12zM342 240h12v6h-12zM318 246h6v6h-6zM342 246h12v6h-12zM318 252h6v6h-6zM342 252h12v6h-12zM318 258h6v6h-6zM336 258h12v6h-12zM318 264h24v6h-24zM324 270h6v6h-6zM204 774h42v6h-42zM240 786h6v6h-6zM240 792h6v6h-6zM204 798h36v6h-36z"/><path fill="#ffb870" d="M372 228h12v6h-12zM378 234h6v6h-6zM378 240h12v6h-12zM378 246h12v6h-12zM378 252h6v6h-6zM372 258h12v6h-12zM366 264h12v6h-12zM306 270h6v6h-6zM360 270h12v6h-12zM348 276h12v6h-12zM324 282h18v6h-18zM252 768h6v6h-6zM252 780h6v6h-6zM246 792h6v6h-6zM246 822h6v6h-6zM246 828h6v6h-6z"/><path fill="#ffb860" d="M396 228h6v6h-6zM402 234h6v6h-6zM402 240h6v6h-6zM402 246h6v6h-6zM300 252h6v6h-6zM402 252h6v6h-6zM396 264h6v6h-6zM390 270h6v6h-6zM378 276h6v6h-6zM366 282h6v6h-6zM240 762h6v6h-6z"/><path fill="#ffb060" d="M402 228h30v6h-30zM306 234h6v6h-6zM408 234h24v6h-24zM408 240h30v6h-30zM300 246h6v6h-6zM408 246h36v6h-36zM408 252h36v6h-36zM402 258h42v6h-42zM402 264h42v6h-42zM300 270h6v6h-6zM396 270h48v6h-48zM384 276h60v6h-60zM372 282h54v6h-54zM324 288h48v6h-48zM246 762h6v6h-6zM258 774h6v6h-6zM252 828h6v6h-6z"/><path fill="#ffb058" d="M432 228h12v6h-12zM432 234h12v6h-12zM438 240h6v6h-6zM300 276h6v6h-6zM306 282h6v6h-6zM426 282h18v6h-18zM318 288h6v6h-6zM372 288h72v6h-72zM432 294h12v6h-12zM252 762h12v6h-12zM264 768h6v6h-6zM300 768h24v6h-24zM306 774h24v6h-24zM312 780h18v6h-18zM252 786h6v6h-6zM318 786h12v6h-12zM318 792h12v6h-12zM252 822h6v6h-6z"/><path fill="#d84000" d="M240 234h6v6h-6zM234 240h6v6h-6zM216 246h12v6h-12zM264 342h6v6h-6zM264 354h6v6h-6zM372 378h12v6h-12zM426 378h18v6h-18zM354 384h6v6h-6zM348 390h6v6h-6zM216 468h6v6h-6zM210 474h6v6h-6zM240 528h6v6h-6zM246 540h6v6h-6zM204 612h12v6h-12zM318 642h6v6h-6zM264 726h6v6h-6z"/><path fill="#e04800" d="M264 234h6v6h-6zM258 246h6v6h-6zM252 252h6v6h-6zM222 258h18v6h-18zM258 336h6v6h-6zM252 342h6v6h-6zM318 342h6v6h-6zM252 354h6v6h-6zM258 360h6v6h-6zM324 360h6v6h-6zM276 366h6v6h-6zM318 366h6v6h-6zM348 366h54v6h-54zM408 366h36v6h-36zM336 372h12v6h-12zM336 378h6v6h-6zM336 384h6v6h-6zM300 402h6v6h-6zM282 408h6v6h-6zM264 414h6v6h-6zM246 420h6v6h-6zM240 426h6v6h-6zM234 432h6v6h-6zM228 438h6v6h-6zM222 444h6v6h-6zM210 450h12v6h-12zM204 456h6v6h-6zM204 522h12v6h-12zM216 528h12v6h-12zM228 534h6v6h-6zM228 540h6v6h-6zM234 546h6v6h-6zM240 558h6v6h-6zM240 564h6v6h-6zM240 570h6v6h-6zM240 576h6v6h-6zM240 582h6v6h-6zM234 594h6v6h-6zM204 600h24v6h-24zM360 612h12v6h-12zM342 618h6v6h-6zM246 642h6v6h-6zM270 642h6v6h-6zM240 648h6v6h-6zM318 648h6v6h-6zM306 654h6v6h-6zM384 654h6v6h-6zM360 660h6v6h-6zM228 666h6v6h-6zM336 666h6v6h-6zM216 678h6v6h-6zM312 684h6v6h-6zM276 690h6v6h-6zM246 702h6v6h-6zM354 702h6v6h-6zM246 708h6v6h-6zM330 708h6v6h-6zM252 720h6v6h-6zM258 726h6v6h-6z"/><path fill="#f05800" d="M276 234h6v6h-6zM270 246h6v6h-6zM270 252h6v6h-6zM258 264h12v6h-12zM204 270h12v6h-12zM264 324h24v6h-24zM204 330h36v6h-36zM306 330h6v6h-6zM318 336h6v6h-6zM336 348h6v6h-6zM360 348h84v6h-84zM258 372h36v6h-36zM234 378h30v6h-30zM318 378h6v6h-6zM228 384h30v6h-30zM318 384h6v6h-6zM228 390h24v6h-24zM318 390h6v6h-6zM228 396h24v6h-24zM306 396h6v6h-6zM240 402h18v6h-18zM288 402h6v6h-6zM252 408h24v6h-24zM360 618h12v6h-12zM342 624h6v6h-6zM378 624h6v6h-6zM336 630h6v6h-6zM330 636h6v6h-6zM384 636h6v6h-6zM384 642h6v6h-6zM324 648h6v6h-6zM378 648h6v6h-6zM252 654h36v6h-36zM324 654h6v6h-6zM354 654h12v6h-12zM246 660h12v6h-12zM288 660h18v6h-18zM318 660h24v6h-24zM246 666h6v6h-6zM306 666h18v6h-18zM240 672h12v6h-12zM312 672h6v6h-6zM240 678h6v6h-6zM306 678h12v6h-12zM234 684h12v6h-12zM276 684h18v6h-18zM204 690h48v6h-48zM216 696h24v6h-24zM222 702h12v6h-12zM432 702h6v6h-6zM228 708h6v6h-6zM342 708h18v6h-18zM408 708h12v6h-12zM228 714h12v6h-12zM336 714h6v6h-6zM234 720h12v6h-12zM240 726h12v6h-12zM252 732h6v6h-6zM270 738h6v6h-6zM294 738h6v6h-6zM276 792h6v6h-6zM270 798h18v6h-18zM270 804h12v6h-12z"/><path fill="#f86800" d="M282 234h6v6h-6zM276 246h6v6h-6zM276 252h6v6h-6zM222 270h54v6h-54zM204 276h6v6h-6zM270 318h12v6h-12zM300 324h12v6h-12zM318 330h6v6h-6zM330 336h6v6h-6zM378 336h66v6h-66zM342 342h24v6h-24zM276 384h30v6h-30zM270 390h36v6h-36zM270 396h24v6h-24zM348 630h30v6h-30zM342 636h36v6h-36zM336 642h12v6h-12zM360 642h18v6h-18zM336 648h30v6h-30zM270 666h12v6h-12zM264 672h30v6h-30zM264 678h24v6h-24zM432 708h12v6h-12zM408 714h24v6h-24zM348 720h66v6h-66zM204 726h24v6h-24zM336 726h54v6h-54zM204 732h42v6h-42zM324 732h12v6h-12zM252 738h6v6h-6zM270 786h18v6h-18zM288 792h6v6h-6zM264 798h6v6h-6zM288 798h6v6h-6zM264 804h6v6h-6zM288 804h6v6h-6zM270 810h6v6h-6zM282 810h6v6h-6z"/><path fill="#ff8000" d="M288 234h6v6h-6zM282 252h6v6h-6zM282 258h6v6h-6zM282 270h6v6h-6zM222 276h30v6h-30zM282 276h6v6h-6zM204 282h6v6h-6zM264 282h24v6h-24zM282 300h6v6h-6zM270 306h30v6h-30zM204 312h18v6h-18zM246 312h18v6h-18zM294 312h18v6h-18zM312 318h6v6h-6zM324 324h12v6h-12zM366 324h78v6h-78zM336 330h18v6h-18zM204 744h48v6h-48zM294 744h6v6h-6zM330 744h12v6h-12zM342 750h12v6h-12zM354 756h6v6h-6zM360 762h6v6h-6zM366 768h12v6h-12zM366 774h18v6h-18zM420 774h24v6h-24zM270 780h6v6h-6zM366 780h78v6h-78zM264 786h6v6h-6zM366 786h78v6h-78zM294 792h6v6h-6zM366 792h78v6h-78zM258 798h6v6h-6zM372 798h72v6h-72zM258 804h6v6h-6zM372 804h72v6h-72zM294 810h6v6h-6zM378 810h66v6h-66zM264 816h6v6h-6zM288 816h6v6h-6zM384 816h60v6h-60zM270 822h12v6h-12zM384 822h60v6h-60zM378 828h66v6h-66z"/><path fill="#ff9018" d="M294 234h6v6h-6zM288 276h6v6h-6zM228 282h6v6h-6zM240 282h12v6h-12zM210 288h6v6h-6zM204 294h6v6h-6zM264 294h6v6h-6zM300 294h6v6h-6zM204 300h6v6h-6zM258 300h6v6h-6zM216 306h6v6h-6zM246 306h6v6h-6zM318 306h6v6h-6zM330 312h6v6h-6zM234 750h6v6h-6zM282 774h6v6h-6zM354 780h6v6h-6zM354 786h6v6h-6zM300 792h6v6h-6zM354 792h6v6h-6zM354 798h6v6h-6zM354 804h6v6h-6zM354 810h6v6h-6zM258 816h6v6h-6zM354 816h6v6h-6zM294 822h6v6h-6zM354 822h6v6h-6zM288 828h6v6h-6zM348 828h6v6h-6z"/><path fill="#ffa848" d="M300 234h6v6h-6zM294 252h6v6h-6zM294 264h6v6h-6zM294 270h6v6h-6zM300 282h6v6h-6zM306 288h6v6h-6zM324 294h12v6h-12zM348 300h96v6h-96zM204 756h36v6h-36zM288 756h12v6h-12zM306 756h12v6h-12zM270 762h18v6h-18zM324 762h6v6h-6zM270 768h6v6h-6zM288 768h6v6h-6zM330 768h6v6h-6zM264 774h6v6h-6zM336 774h6v6h-6zM258 780h6v6h-6zM306 786h6v6h-6zM252 792h6v6h-6zM336 792h6v6h-6zM312 798h6v6h-6zM330 798h12v6h-12zM252 810h6v6h-6zM258 828h6v6h-6z"/><path fill="#ffc070" d="M312 234h6v6h-6zM372 234h6v6h-6zM306 246h6v6h-6zM372 252h6v6h-6zM312 276h6v6h-6z"/><path fill="#ffa038" d="M294 240h6v6h-6zM294 282h6v6h-6zM228 288h18v6h-18zM300 288h6v6h-6zM216 294h6v6h-6zM246 294h12v6h-12zM312 294h6v6h-6zM216 300h36v6h-36zM324 300h12v6h-12zM342 306h78v6h-78zM294 750h24v6h-24zM252 756h12v6h-12zM324 756h6v6h-6zM336 762h6v6h-6zM342 768h6v6h-6zM348 780h6v6h-6zM348 786h6v6h-6zM252 798h6v6h-6zM306 798h6v6h-6zM252 804h6v6h-6zM336 804h12v6h-12zM312 810h24v6h-24zM258 822h6v6h-6z"/><path fill="#ffc890" d="M330 240h12v6h-12zM324 246h18v6h-18zM324 252h18v6h-18zM324 258h12v6h-12zM204 780h42v6h-42zM228 786h12v6h-12zM204 792h36v6h-36z"/><path fill="#ffc880" d="M354 240h6v6h-6zM354 246h6v6h-6zM312 252h6v6h-6zM312 258h6v6h-6zM348 258h6v6h-6zM342 264h6v6h-6zM330 270h6v6h-6z"/><path fill="#ff7800" d="M282 246h6v6h-6zM276 270h6v6h-6zM216 276h6v6h-6zM252 276h30v6h-30zM264 312h30v6h-30zM300 318h12v6h-12zM318 324h6v6h-6zM330 330h6v6h-6zM354 330h36v6h-36zM432 330h12v6h-12zM438 726h6v6h-6zM426 732h18v6h-18zM204 738h24v6h-24zM312 738h30v6h-30zM414 738h30v6h-30zM252 744h12v6h-12zM288 744h6v6h-6zM342 744h12v6h-12zM402 744h42v6h-42zM354 750h12v6h-12zM384 750h60v6h-60zM360 756h84v6h-84zM366 762h78v6h-78zM378 768h66v6h-66zM384 774h36v6h-36zM276 780h12v6h-12zM288 786h6v6h-6zM294 798h6v6h-6zM294 804h6v6h-6zM288 810h6v6h-6zM282 816h6v6h-6z"/><path fill="#ff9010" d="M288 246h6v6h-6zM222 282h6v6h-6zM288 282h6v6h-6zM306 300h6v6h-6zM210 306h6v6h-6zM324 312h6v6h-6zM342 318h18v6h-18zM240 750h12v6h-12zM282 750h6v6h-6zM330 750h6v6h-6zM354 774h6v6h-6zM264 780h6v6h-6zM300 810h6v6h-6zM360 816h6v6h-6zM360 822h6v6h-6zM282 828h6v6h-6zM354 828h6v6h-6z"/><path fill="#ffa040" d="M294 246h6v6h-6zM294 276h6v6h-6zM222 294h24v6h-24zM318 294h6v6h-6zM336 300h12v6h-12zM420 306h24v6h-24zM240 756h12v6h-12zM282 756h6v6h-6zM318 756h6v6h-6zM330 762h6v6h-6zM276 768h12v6h-12zM336 768h6v6h-6zM294 774h6v6h-6zM342 774h6v6h-6zM300 780h6v6h-6zM342 780h6v6h-6zM342 786h6v6h-6zM306 792h6v6h-6zM342 792h6v6h-6zM342 798h6v6h-6zM312 804h24v6h-24z"/><path fill="#ff9820" d="M288 252h6v6h-6zM294 288h6v6h-6zM312 300h6v6h-6zM222 306h6v6h-6zM240 306h6v6h-6zM324 306h6v6h-6zM342 312h6v6h-6zM384 312h36v6h-36zM204 750h24v6h-24zM324 750h6v6h-6zM342 762h6v6h-6zM348 768h6v6h-6zM270 774h6v6h-6zM348 810h6v6h-6zM300 816h6v6h-6zM348 816h6v6h-6zM342 822h6v6h-6zM264 828h6v6h-6zM294 828h6v6h-6zM342 828h6v6h-6z"/><path fill="#ff9828" d="M288 258h6v6h-6zM288 264h6v6h-6zM288 270h6v6h-6zM216 288h6v6h-6zM252 288h6v6h-6zM258 294h6v6h-6zM210 300h6v6h-6zM252 300h6v6h-6zM228 306h12v6h-12zM330 306h6v6h-6zM348 312h36v6h-36zM420 312h18v6h-18zM288 750h6v6h-6zM294 780h6v6h-6zM258 786h6v6h-6zM348 804h6v6h-6zM342 816h6v6h-6zM300 822h6v6h-6zM330 822h12v6h-12zM300 828h6v6h-6zM330 828h12v6h-12z"/><path fill="#f86000" d="M270 264h6v6h-6zM216 270h6v6h-6zM222 324h30v6h-30zM294 324h6v6h-6zM324 336h6v6h-6zM336 342h6v6h-6zM366 342h78v6h-78zM276 378h30v6h-30zM264 384h12v6h-12zM306 384h12v6h-12zM258 390h12v6h-12zM306 390h6v6h-6zM258 396h12v6h-12zM294 396h6v6h-6zM264 402h18v6h-18zM354 624h18v6h-18zM342 630h6v6h-6zM336 636h6v6h-6zM378 636h6v6h-6zM378 642h6v6h-6zM330 648h6v6h-6zM366 648h12v6h-12zM330 654h18v6h-18zM264 660h18v6h-18zM258 666h12v6h-12zM282 666h18v6h-18zM252 672h12v6h-12zM294 672h18v6h-18zM252 678h12v6h-12zM288 678h12v6h-12zM204 702h6v6h-6zM204 708h12v6h-12zM426 708h6v6h-6zM204 714h18v6h-18zM348 714h60v6h-60zM204 720h24v6h-24zM342 720h6v6h-6zM228 726h12v6h-12zM246 732h6v6h-6zM258 738h6v6h-6zM300 738h6v6h-6zM276 810h6v6h-6z"/><path fill="#ff9020" d="M234 282h6v6h-6zM258 288h6v6h-6zM336 312h6v6h-6zM228 750h6v6h-6zM336 756h6v6h-6zM348 822h6v6h-6z"/><path fill="#ff9008" d="M252 282h6v6h-6zM264 288h6v6h-6zM294 294h6v6h-6zM264 300h6v6h-6zM252 306h6v6h-6zM312 306h6v6h-6zM336 318h6v6h-6zM360 318h12v6h-12zM438 318h6v6h-6zM306 744h12v6h-12zM348 762h6v6h-6zM276 774h6v6h-6zM300 798h6v6h-6zM300 804h6v6h-6zM360 810h6v6h-6zM294 816h6v6h-6zM288 822h6v6h-6zM270 828h6v6h-6zM360 828h6v6h-6z"/><path fill="#ffb050" d="M366 294h12v6h-12zM426 294h6v6h-6z"/><path fill="#f87000" d="M204 318h6v6h-6zM258 318h12v6h-12zM282 318h6v6h-6zM366 336h12v6h-12zM348 642h12v6h-12zM432 714h6v6h-6zM414 720h6v6h-6zM390 726h18v6h-18zM336 732h54v6h-54zM246 738h6v6h-6zM306 738h6v6h-6zM366 738h6v6h-6zM270 744h12v6h-12zM264 792h6v6h-6z"/><path fill="#ff8808" d="M372 318h6v6h-6zM432 318h6v6h-6zM342 756h6v6h-6zM354 768h6v6h-6z"/><path fill="#d83000" d="M276 342h6v6h-6zM312 348h6v6h-6zM282 360h6v6h-6zM378 396h6v6h-6zM420 396h6v6h-6zM348 402h24v6h-24zM276 414h6v6h-6zM438 414h6v6h-6zM264 420h6v6h-6zM228 474h6v6h-6zM228 480h6v6h-6zM228 486h6v6h-6zM234 498h6v6h-6zM240 504h6v6h-6zM246 510h6v6h-6zM258 528h6v6h-6zM264 546h6v6h-6zM264 552h6v6h-6zM264 558h6v6h-6zM258 576h6v6h-6zM342 612h6v6h-6zM240 618h6v6h-6zM246 624h6v6h-6zM204 630h24v6h-24zM258 630h6v6h-6zM396 630h6v6h-6zM216 636h12v6h-12zM216 642h6v6h-6zM288 642h6v6h-6zM216 648h6v6h-6zM210 654h6v6h-6zM384 660h6v6h-6zM330 684h6v6h-6zM300 690h6v6h-6zM312 690h6v6h-6zM438 690h6v6h-6zM354 696h6v6h-6zM318 714h6v6h-6zM264 720h6v6h-6zM270 726h6v6h-6zM306 726h6v6h-6zM288 732h6v6h-6z"/><path fill="#d03000" d="M282 342h24v6h-24zM276 348h6v6h-6zM306 348h6v6h-6zM276 354h12v6h-12zM312 354h6v6h-6zM288 360h24v6h-24zM384 396h36v6h-36zM372 402h12v6h-12zM420 402h12v6h-12zM294 408h6v6h-6zM348 408h24v6h-24zM426 408h12v6h-12zM432 414h6v6h-6zM270 420h6v6h-6zM438 420h6v6h-6zM258 426h18v6h-18zM252 432h24v6h-24zM246 438h30v6h-30zM246 444h6v6h-6zM240 450h6v6h-6zM240 456h6v6h-6zM234 462h12v6h-12zM234 468h6v6h-6zM234 474h6v6h-6zM234 480h12v6h-12zM234 486h12v6h-12zM234 492h18v6h-18zM240 498h12v6h-12zM246 504h12v6h-12zM252 510h12v6h-12zM252 516h12v6h-12zM258 522h12v6h-12zM264 528h6v6h-6zM264 534h12v6h-12zM264 540h12v6h-12zM270 546h6v6h-6zM270 552h6v6h-6zM270 558h6v6h-6zM264 564h12v6h-12zM264 570h6v6h-6zM264 576h6v6h-6zM258 582h6v6h-6zM252 594h6v6h-6zM246 606h6v6h-6zM360 606h18v6h-18zM246 612h6v6h-6zM384 612h6v6h-6zM246 618h6v6h-6zM330 618h6v6h-6zM390 618h6v6h-6zM252 624h6v6h-6zM264 630h6v6h-6zM204 636h12v6h-12zM276 636h6v6h-6zM318 636h6v6h-6zM204 642h12v6h-12zM294 642h6v6h-6zM312 642h6v6h-6zM402 642h6v6h-6zM204 648h12v6h-12zM402 648h6v6h-6zM204 654h6v6h-6zM402 654h6v6h-6zM204 660h6v6h-6zM390 660h6v6h-6zM360 666h12v6h-12zM342 672h6v6h-6zM336 678h6v6h-6zM336 684h6v6h-6zM306 690h6v6h-6zM342 690h6v6h-6zM432 690h6v6h-6zM276 696h6v6h-6zM318 696h6v6h-6zM360 696h6v6h-6zM408 696h12v6h-12zM264 702h6v6h-6zM318 702h6v6h-6zM318 708h6v6h-6zM264 714h6v6h-6zM312 720h6v6h-6z"/><path fill="#d02800" d="M282 348h6v6h-6zM300 348h6v6h-6zM288 354h6v6h-6zM306 354h6v6h-6zM384 402h6v6h-6zM414 402h6v6h-6zM342 408h6v6h-6zM372 408h6v6h-6zM432 420h6v6h-6zM438 426h6v6h-6zM276 432h6v6h-6zM276 438h6v6h-6zM252 444h24v6h-24zM246 450h6v6h-6zM246 456h6v6h-6zM240 468h6v6h-6zM240 474h6v6h-6zM246 486h6v6h-6zM252 492h6v6h-6zM252 498h6v6h-6zM258 504h6v6h-6zM264 516h6v6h-6zM270 522h6v6h-6zM270 528h6v6h-6zM276 534h6v6h-6zM276 540h6v6h-6zM276 546h6v6h-6zM276 552h6v6h-6zM276 558h6v6h-6zM276 564h6v6h-6zM270 570h6v6h-6zM258 588h6v6h-6zM252 600h6v6h-6zM354 606h6v6h-6zM336 612h6v6h-6zM324 624h6v6h-6zM396 624h6v6h-6zM396 660h6v6h-6zM348 672h6v6h-6zM282 696h6v6h-6zM366 696h6v6h-6zM402 696h6v6h-6zM264 708h6v6h-6zM270 720h6v6h-6zM276 726h6v6h-6zM300 726h6v6h-6z"/><path fill="#c82800" d="M288 348h12v6h-12zM294 354h12v6h-12zM390 402h6v6h-6zM408 402h6v6h-6zM330 408h12v6h-12zM378 408h6v6h-6zM420 408h6v6h-6zM282 414h6v6h-6zM348 414h24v6h-24zM426 414h6v6h-6zM276 420h6v6h-6zM276 426h6v6h-6zM276 444h6v6h-6zM252 450h18v6h-18zM252 456h6v6h-6zM246 462h6v6h-6zM246 468h6v6h-6zM246 474h12v6h-12zM246 480h12v6h-12zM252 486h6v6h-6zM258 492h6v6h-6zM258 498h6v6h-6zM264 504h6v6h-6zM264 510h6v6h-6zM270 516h6v6h-6zM276 522h6v6h-6zM276 528h6v6h-6zM282 534h6v6h-6zM282 540h6v6h-6zM282 546h6v6h-6zM282 552h6v6h-6zM282 558h6v6h-6zM282 564h6v6h-6zM276 570h6v6h-6zM270 576h6v6h-6zM264 582h6v6h-6zM258 594h6v6h-6zM252 606h6v6h-6zM348 606h6v6h-6zM378 606h6v6h-6zM252 612h6v6h-6zM252 618h6v6h-6zM258 624h6v6h-6zM270 630h6v6h-6zM318 630h6v6h-6zM282 636h6v6h-6zM402 636h6v6h-6zM300 642h12v6h-12zM372 666h12v6h-12zM354 672h6v6h-6zM342 678h6v6h-6zM342 684h6v6h-6zM348 690h6v6h-6zM426 690h6v6h-6zM288 696h6v6h-6zM312 696h6v6h-6zM372 696h30v6h-30zM270 702h6v6h-6zM312 702h6v6h-6zM312 708h6v6h-6zM270 714h6v6h-6zM312 714h6v6h-6zM306 720h6v6h-6zM282 726h6v6h-6zM294 726h6v6h-6z"/><path fill="#c82000" d="M396 402h12v6h-12zM300 408h6v6h-6zM324 408h6v6h-6zM342 414h6v6h-6zM372 414h6v6h-6zM432 426h6v6h-6zM282 432h6v6h-6zM282 438h6v6h-6zM282 444h6v6h-6zM270 450h6v6h-6zM258 456h6v6h-6zM252 462h6v6h-6zM252 468h6v6h-6zM258 474h6v6h-6zM258 480h6v6h-6zM258 486h6v6h-6zM264 492h6v6h-6zM264 498h6v6h-6zM270 504h6v6h-6zM270 510h6v6h-6zM276 516h6v6h-6zM282 528h6v6h-6zM288 540h6v6h-6zM288 546h6v6h-6zM288 552h6v6h-6zM288 558h6v6h-6zM282 570h6v6h-6zM276 576h6v6h-6zM270 582h6v6h-6zM264 588h6v6h-6zM342 606h6v6h-6zM330 612h6v6h-6zM390 612h6v6h-6zM324 618h6v6h-6zM402 630h6v6h-6zM288 636h6v6h-6zM408 648h6v6h-6zM408 654h6v6h-6zM402 660h6v6h-6zM384 666h6v6h-6zM360 672h6v6h-6zM348 678h6v6h-6zM354 690h6v6h-6zM420 690h6v6h-6zM294 696h18v6h-18zM276 702h6v6h-6zM270 708h6v6h-6zM306 714h6v6h-6zM276 720h6v6h-6zM288 726h6v6h-6z"/><path fill="#c02000" d="M306 408h18v6h-18zM384 408h6v6h-6zM414 408h6v6h-6zM336 414h6v6h-6zM342 420h24v6h-24zM426 420h6v6h-6zM282 426h6v6h-6zM348 426h12v6h-12zM438 432h6v6h-6zM276 450h6v6h-6zM264 456h6v6h-6zM258 462h6v6h-6zM258 468h6v6h-6zM264 480h6v6h-6zM264 486h6v6h-6zM270 498h6v6h-6zM276 510h6v6h-6zM282 516h6v6h-6zM282 522h6v6h-6zM288 528h6v6h-6zM288 534h6v6h-6zM288 564h6v6h-6zM288 570h6v6h-6zM282 576h6v6h-6zM258 600h6v6h-6zM336 606h6v6h-6zM384 606h6v6h-6zM258 618h6v6h-6zM396 618h6v6h-6zM264 624h6v6h-6zM318 624h6v6h-6zM276 630h6v6h-6zM312 636h6v6h-6zM408 642h6v6h-6zM408 660h6v6h-6zM390 666h12v6h-12zM366 672h6v6h-6zM354 678h6v6h-6zM348 684h6v6h-6zM438 684h6v6h-6zM360 690h6v6h-6zM408 690h12v6h-12zM282 702h6v6h-6zM306 702h6v6h-6zM276 708h6v6h-6zM306 708h6v6h-6zM276 714h6v6h-6zM282 720h6v6h-6zM294 720h12v6h-12z"/><path fill="#b81800" d="M390 408h6v6h-6zM408 408h6v6h-6zM324 414h6v6h-6zM330 420h6v6h-6zM330 426h6v6h-6zM288 432h6v6h-6zM330 432h6v6h-6zM360 432h6v6h-6zM432 432h6v6h-6zM360 438h6v6h-6zM324 444h6v6h-6zM324 450h12v6h-12zM276 456h6v6h-6zM330 456h12v6h-12zM354 456h6v6h-6zM270 462h6v6h-6zM342 462h18v6h-18zM270 468h6v6h-6zM270 474h6v6h-6zM270 480h6v6h-6zM276 498h6v6h-6zM282 504h6v6h-6zM288 510h6v6h-6zM294 516h6v6h-6zM300 522h6v6h-6zM300 528h6v6h-6zM300 534h6v6h-6zM300 540h6v6h-6zM294 576h6v6h-6zM282 582h6v6h-6zM318 600h18v6h-18zM360 600h12v6h-12zM318 606h6v6h-6zM318 612h6v6h-6zM396 612h6v6h-6zM264 618h6v6h-6zM312 630h6v6h-6zM408 630h6v6h-6zM414 648h6v6h-6zM414 654h6v6h-6zM414 660h6v6h-6zM408 666h6v6h-6zM390 672h12v6h-12zM372 678h6v6h-6zM366 684h12v6h-12zM414 684h6v6h-6z"/><path fill="#b81000" d="M396 408h12v6h-12zM294 414h6v6h-6zM312 414h12v6h-12zM288 420h6v6h-6zM324 420h6v6h-6zM372 420h6v6h-6zM288 426h6v6h-6zM324 426h6v6h-6zM366 426h6v6h-6zM426 426h6v6h-6zM318 432h12v6h-12zM294 438h6v6h-6zM318 438h12v6h-12zM438 438h6v6h-6zM294 444h6v6h-6zM318 444h6v6h-6zM360 444h6v6h-6zM288 450h6v6h-6zM318 450h6v6h-6zM360 450h6v6h-6zM282 456h6v6h-6zM318 456h12v6h-12zM360 456h6v6h-6zM276 462h6v6h-6zM324 462h18v6h-18zM360 462h6v6h-6zM330 468h36v6h-36zM276 474h6v6h-6zM348 474h6v6h-6zM276 480h6v6h-6zM276 486h6v6h-6zM276 492h6v6h-6zM282 498h6v6h-6zM288 504h6v6h-6zM324 504h36v6h-36zM294 510h66v6h-66zM300 516h54v6h-54zM306 522h30v6h-30zM306 528h12v6h-12zM306 534h6v6h-6zM306 540h6v6h-6zM300 546h6v6h-6zM300 552h6v6h-6zM300 558h6v6h-6zM300 564h6v6h-6zM300 570h6v6h-6zM300 576h12v6h-12zM288 582h30v6h-30zM276 588h12v6h-12zM300 588h30v6h-30zM270 594h6v6h-6zM306 594h30v6h-30zM264 600h6v6h-6zM306 600h12v6h-12zM336 600h24v6h-24zM372 600h12v6h-12zM264 606h6v6h-6zM312 606h6v6h-6zM390 606h6v6h-6zM264 612h6v6h-6zM312 612h6v6h-6zM312 618h6v6h-6zM402 618h6v6h-6zM276 624h6v6h-6zM312 624h6v6h-6zM408 624h6v6h-6zM288 630h6v6h-6zM306 630h6v6h-6zM414 636h6v6h-6zM414 642h6v6h-6zM420 654h6v6h-6zM420 660h6v6h-6zM414 666h12v6h-12zM402 672h24v6h-24zM378 678h66v6h-66zM378 684h36v6h-36z"/><path fill="#c01800" d="M288 414h6v6h-6zM330 414h6v6h-6zM378 414h6v6h-6zM420 414h6v6h-6zM282 420h6v6h-6zM336 420h6v6h-6zM366 420h6v6h-6zM336 426h12v6h-12zM360 426h6v6h-6zM336 432h24v6h-24zM288 438h6v6h-6zM330 438h30v6h-30zM288 444h6v6h-6zM330 444h30v6h-30zM282 450h6v6h-6zM336 450h24v6h-24zM270 456h6v6h-6zM342 456h12v6h-12zM264 462h6v6h-6zM264 468h6v6h-6zM264 474h6v6h-6zM270 486h6v6h-6zM270 492h6v6h-6zM276 504h6v6h-6zM282 510h6v6h-6zM288 516h6v6h-6zM288 522h12v6h-12zM294 528h6v6h-6zM294 534h6v6h-6zM294 540h6v6h-6zM294 546h6v6h-6zM294 552h6v6h-6zM294 558h6v6h-6zM294 564h6v6h-6zM294 570h6v6h-6zM288 576h6v6h-6zM276 582h6v6h-6zM270 588h6v6h-6zM264 594h6v6h-6zM258 606h6v6h-6zM324 606h12v6h-12zM258 612h6v6h-6zM324 612h6v6h-6zM318 618h6v6h-6zM270 624h6v6h-6zM402 624h6v6h-6zM282 630h6v6h-6zM294 636h18v6h-18zM408 636h6v6h-6zM402 666h6v6h-6zM372 672h18v6h-18zM360 678h12v6h-12zM354 684h12v6h-12zM420 684h18v6h-18zM366 690h42v6h-42zM288 702h18v6h-18zM282 708h24v6h-24zM282 714h24v6h-24zM288 720h6v6h-6z"/><path fill="#b01000" d="M300 414h6v6h-6zM414 414h6v6h-6zM420 420h6v6h-6zM366 432h6v6h-6zM312 444h6v6h-6zM312 450h6v6h-6zM276 468h6v6h-6zM342 474h6v6h-6zM354 474h6v6h-6zM282 492h6v6h-6zM336 498h18v6h-18zM294 504h6v6h-6zM318 504h6v6h-6zM360 510h6v6h-6zM354 516h6v6h-6zM336 522h6v6h-6zM288 588h12v6h-12zM300 594h6v6h-6zM306 606h6v6h-6zM270 618h6v6h-6zM294 630h6v6h-6z"/><path fill="#b00800" d="M306 414h6v6h-6zM384 414h6v6h-6zM294 420h30v6h-30zM294 426h6v6h-6zM306 426h18v6h-18zM294 432h24v6h-24zM300 438h18v6h-18zM366 438h6v6h-6zM300 444h12v6h-12zM366 444h6v6h-6zM438 444h6v6h-6zM294 450h18v6h-18zM366 450h6v6h-6zM288 456h6v6h-6zM306 456h12v6h-12zM366 456h6v6h-6zM282 462h6v6h-6zM312 462h12v6h-12zM366 462h6v6h-6zM282 468h6v6h-6zM318 468h12v6h-12zM366 468h6v6h-6zM438 468h6v6h-6zM282 474h6v6h-6zM330 474h12v6h-12zM360 474h12v6h-12zM438 474h6v6h-6zM282 480h6v6h-6zM336 480h36v6h-36zM432 480h12v6h-12zM282 486h6v6h-6zM336 486h42v6h-42zM426 486h18v6h-18zM288 492h6v6h-6zM330 492h60v6h-60zM414 492h30v6h-30zM288 498h48v6h-48zM354 498h90v6h-90zM300 504h18v6h-18zM360 504h84v6h-84zM366 510h78v6h-78zM360 516h36v6h-36zM342 522h30v6h-30zM318 528h30v6h-30zM312 534h12v6h-12zM312 540h6v6h-6zM306 546h6v6h-6zM306 552h6v6h-6zM306 558h6v6h-6zM306 564h6v6h-6zM306 570h12v6h-12zM312 576h6v6h-6zM318 582h12v6h-12zM330 588h6v6h-6zM276 594h24v6h-24zM336 594h6v6h-6zM270 600h6v6h-6zM300 600h6v6h-6zM384 600h12v6h-12zM300 606h6v6h-6zM396 606h6v6h-6zM270 612h6v6h-6zM306 612h6v6h-6zM402 612h6v6h-6zM306 618h6v6h-6zM408 618h6v6h-6zM282 624h6v6h-6zM306 624h6v6h-6zM414 624h6v6h-6zM300 630h6v6h-6zM414 630h12v6h-12zM420 636h6v6h-6zM420 642h6v6h-6zM420 648h12v6h-12zM426 654h6v6h-6zM426 660h6v6h-6zM426 666h12v6h-12zM426 672h18v6h-18z"/><path fill="#a80000" d="M390 414h6v6h-6zM408 414h6v6h-6zM420 426h6v6h-6zM372 432h6v6h-6zM426 432h6v6h-6zM432 444h6v6h-6zM432 450h6v6h-6zM372 456h6v6h-6zM432 456h6v6h-6zM294 462h12v6h-12zM372 462h6v6h-6zM432 462h6v6h-6zM288 468h24v6h-24zM372 468h12v6h-12zM426 468h6v6h-6zM288 474h30v6h-30zM378 474h12v6h-12zM414 474h18v6h-18zM294 480h30v6h-30zM384 480h36v6h-36zM294 486h30v6h-30zM396 486h12v6h-12zM300 492h18v6h-18zM360 528h84v6h-84zM330 534h114v6h-114zM318 540h24v6h-24zM402 540h42v6h-42zM318 546h12v6h-12zM414 546h30v6h-30zM318 552h6v6h-6zM420 552h24v6h-24zM318 558h6v6h-6zM420 558h24v6h-24zM318 564h6v6h-6zM414 564h30v6h-30zM318 570h12v6h-12zM414 570h30v6h-30zM324 576h12v6h-12zM408 576h36v6h-36zM330 582h12v6h-12zM402 582h42v6h-42zM336 588h12v6h-12zM396 588h48v6h-48zM348 594h96v6h-96zM282 600h12v6h-12zM402 600h42v6h-42zM276 606h24v6h-24zM408 606h36v6h-36zM276 612h24v6h-24zM420 612h24v6h-24zM282 618h24v6h-24zM426 618h18v6h-18zM426 624h18v6h-18zM432 630h12v6h-12zM438 636h6v6h-6zM438 642h6v6h-6z"/><path fill="#a00000" d="M396 414h12v6h-12zM384 420h6v6h-6zM414 420h6v6h-6zM378 426h6v6h-6zM372 438h6v6h-6zM426 438h6v6h-6zM372 444h6v6h-6zM372 450h6v6h-6zM426 456h6v6h-6zM378 462h6v6h-6zM426 462h6v6h-6zM384 468h6v6h-6zM414 468h12v6h-12zM390 474h24v6h-24zM342 540h60v6h-60zM330 546h24v6h-24zM372 546h42v6h-42zM324 552h18v6h-18zM390 552h30v6h-30zM324 558h12v6h-12zM396 558h24v6h-24zM324 564h12v6h-12zM396 564h18v6h-18zM330 570h12v6h-12zM396 570h18v6h-18zM336 576h6v6h-6zM390 576h18v6h-18zM342 582h6v6h-6zM390 582h12v6h-12zM348 588h48v6h-48z"/><path fill="#b00000" d="M378 420h6v6h-6zM300 426h6v6h-6zM372 426h6v6h-6zM432 438h6v6h-6zM438 450h6v6h-6zM294 456h12v6h-12zM438 456h6v6h-6zM288 462h6v6h-6zM306 462h6v6h-6zM438 462h6v6h-6zM312 468h6v6h-6zM432 468h6v6h-6zM318 474h12v6h-12zM372 474h6v6h-6zM432 474h6v6h-6zM288 480h6v6h-6zM324 480h12v6h-12zM372 480h12v6h-12zM420 480h12v6h-12zM288 486h6v6h-6zM324 486h12v6h-12zM378 486h18v6h-18zM408 486h18v6h-18zM294 492h6v6h-6zM318 492h12v6h-12zM390 492h24v6h-24zM396 516h48v6h-48zM372 522h72v6h-72zM348 528h12v6h-12zM324 534h6v6h-6zM312 546h6v6h-6zM312 552h6v6h-6zM312 558h6v6h-6zM312 564h6v6h-6zM318 576h6v6h-6zM342 594h6v6h-6zM276 600h6v6h-6zM294 600h6v6h-6zM396 600h6v6h-6zM270 606h6v6h-6zM402 606h6v6h-6zM300 612h6v6h-6zM408 612h12v6h-12zM276 618h6v6h-6zM414 618h12v6h-12zM288 624h18v6h-18zM420 624h6v6h-6zM426 630h6v6h-6zM426 636h12v6h-12zM426 642h12v6h-12zM432 648h12v6h-12zM432 654h12v6h-12zM432 660h12v6h-12zM438 666h6v6h-6z"/><path fill="#900000" d="M390 420h6v6h-6zM408 420h6v6h-6zM414 426h6v6h-6zM378 432h6v6h-6zM420 456h6v6h-6zM384 462h6v6h-6zM414 462h6v6h-6zM396 468h12v6h-12zM354 564h24v6h-24zM354 570h24v6h-24zM360 576h18v6h-18z"/><path fill="#800000" d="M396 420h12v6h-12zM378 438h6v6h-6zM378 444h6v6h-6zM420 450h6v6h-6z"/><path fill="#880000" d="M384 426h6v6h-6zM378 450h6v6h-6z"/><path fill="#580000" d="M390 426h6v6h-6zM384 432h6v6h-6z"/><path fill="#300000" d="M396 426h12v6h-12zM384 438h6v6h-6zM384 444h6v6h-6z"/><path fill="#600000" d="M408 426h6v6h-6zM414 432h6v6h-6z"/><path fill="#100000" d="M390 432h6v6h-6zM390 450h6v6h-6z"/><path fill="#000000" d="M396 432h12v6h-12zM390 438h24v6h-24zM390 444h24v6h-24zM396 450h12v6h-12z"/><path fill="#180000" d="M408 432h6v6h-6z"/><path fill="#980000" d="M420 432h6v6h-6zM426 444h6v6h-6zM426 450h6v6h-6zM378 456h6v6h-6zM420 462h6v6h-6zM390 468h6v6h-6zM408 468h6v6h-6zM354 546h18v6h-18zM342 552h48v6h-48zM336 558h60v6h-60zM336 564h18v6h-18zM378 564h18v6h-18zM342 570h12v6h-12zM378 570h18v6h-18zM342 576h18v6h-18zM378 576h12v6h-12zM348 582h42v6h-42z"/><path fill="#280000" d="M414 438h6v6h-6z"/><path fill="#780000" d="M420 438h6v6h-6zM390 462h6v6h-6zM408 462h6v6h-6z"/><path fill="#200000" d="M414 444h6v6h-6zM396 456h12v6h-12z"/><path fill="#700000" d="M420 444h6v6h-6zM384 456h6v6h-6z"/><path fill="#480000" d="M384 450h6v6h-6z"/><path fill="#080000" d="M408 450h6v6h-6z"/><path fill="#380000" d="M414 450h6v6h-6zM390 456h6v6h-6zM408 456h6v6h-6z"/><path fill="#680000" d="M414 456h6v6h-6zM396 462h12v6h-12z"/><path fill="#ffd090" d="M204 786h24v6h-24z"/></g>
</g>
<g clip-path="url(#cr)">
<g filter="url(#bl)"><path fill="#c01800" d="M1236 228h84v6h-84zM1236 234h84v6h-84zM1236 240h42v6h-42zM1236 246h6v6h-6zM1608 270h18v6h-18zM1602 276h24v6h-24zM1608 282h12v6h-12zM1236 300h24v6h-24zM1266 306h48v6h-48zM1368 312h6v6h-6zM1434 312h36v6h-36zM1380 318h6v6h-6zM1422 318h12v6h-12zM1542 318h6v6h-6zM1866 318h12v6h-12zM1392 324h30v6h-30zM1554 324h6v6h-6zM1866 324h12v6h-12zM1866 330h6v6h-6zM1554 336h6v6h-6zM1554 342h6v6h-6zM1728 342h30v6h-30zM1728 348h42v6h-42zM1734 354h42v6h-42zM1740 360h6v6h-6zM1776 360h6v6h-6zM1740 366h6v6h-6zM1740 372h6v6h-6zM1740 378h6v6h-6zM1806 384h6v6h-6zM1392 390h12v6h-12zM1410 390h12v6h-12zM1806 390h6v6h-6zM1368 396h6v6h-6zM1434 396h6v6h-6zM1572 396h6v6h-6zM1806 396h6v6h-6zM1350 402h6v6h-6zM1470 402h6v6h-6zM1578 402h6v6h-6zM1806 402h6v6h-6zM1296 408h6v6h-6zM1740 408h6v6h-6zM1806 408h6v6h-6zM1278 420h6v6h-6zM1506 420h6v6h-6zM1596 420h6v6h-6zM1272 426h6v6h-6zM1518 426h6v6h-6zM1602 426h6v6h-6zM1752 426h6v6h-6zM1800 426h6v6h-6zM1530 432h6v6h-6zM1602 432h6v6h-6zM1794 432h6v6h-6zM1260 438h6v6h-6zM1536 438h30v6h-30zM1608 438h6v6h-6zM1782 438h6v6h-6zM1254 444h6v6h-6zM1548 444h18v6h-18zM1608 444h6v6h-6zM1548 450h18v6h-18zM1608 450h6v6h-6zM1254 456h6v6h-6zM1542 456h18v6h-18zM1608 456h6v6h-6zM1266 462h6v6h-6zM1530 462h18v6h-18zM1602 462h6v6h-6zM1284 468h6v6h-6zM1512 468h18v6h-18zM1590 468h12v6h-12zM1752 468h12v6h-12zM1434 474h30v6h-30zM1488 474h24v6h-24zM1572 474h12v6h-12zM1746 474h24v6h-24zM1428 480h66v6h-66zM1566 480h6v6h-6zM1740 480h30v6h-30zM1422 486h66v6h-66zM1560 486h6v6h-6zM1740 486h30v6h-30zM1326 492h6v6h-6zM1422 492h60v6h-60zM1560 492h6v6h-6zM1740 492h30v6h-30zM1326 498h6v6h-6zM1416 498h72v6h-72zM1554 498h6v6h-6zM1740 498h30v6h-30zM1440 504h48v6h-48zM1554 504h6v6h-6zM1746 504h24v6h-24zM1332 510h6v6h-6zM1464 510h30v6h-30zM1554 510h6v6h-6zM1338 516h6v6h-6zM1482 516h18v6h-18zM1554 516h6v6h-6zM1350 522h6v6h-6zM1380 522h24v6h-24zM1494 522h12v6h-12zM1560 522h6v6h-6zM1398 528h6v6h-6zM1500 528h12v6h-12zM1566 528h6v6h-6zM1506 534h6v6h-6zM1578 534h6v6h-6zM1506 540h6v6h-6zM1836 540h24v6h-24zM1506 546h6v6h-6zM1608 546h6v6h-6zM1830 546h18v6h-18zM1398 552h6v6h-6zM1500 552h6v6h-6zM1614 552h6v6h-6zM1398 558h6v6h-6zM1500 558h6v6h-6zM1404 564h6v6h-6zM1494 564h6v6h-6zM1620 564h6v6h-6zM1410 576h6v6h-6zM1488 576h6v6h-6zM1416 582h6v6h-6zM1488 582h6v6h-6zM1632 582h6v6h-6zM1416 588h12v6h-12zM1494 588h6v6h-6zM1422 594h12v6h-12zM1500 594h6v6h-6zM1638 594h6v6h-6zM1422 600h18v6h-18zM1422 606h18v6h-18zM1422 612h18v6h-18zM1428 618h12v6h-12zM1512 618h6v6h-6zM1632 618h6v6h-6zM1734 618h12v6h-12zM1428 624h12v6h-12zM1728 624h6v6h-6zM1752 624h6v6h-6zM1434 630h6v6h-6zM1758 630h6v6h-6zM1722 636h6v6h-6zM1758 636h6v6h-6zM1440 642h6v6h-6zM1764 642h6v6h-6zM1716 648h6v6h-6zM1770 648h6v6h-6zM1248 654h6v6h-6zM1260 654h6v6h-6zM1446 654h6v6h-6zM1518 654h6v6h-6zM1530 654h6v6h-6zM1716 654h6v6h-6zM1770 654h6v6h-6zM1278 660h6v6h-6zM1458 660h6v6h-6zM1776 660h6v6h-6zM1284 666h6v6h-6zM1488 666h6v6h-6zM1710 666h6v6h-6zM1782 666h6v6h-6zM1380 672h36v6h-36zM1500 672h6v6h-6zM1716 672h6v6h-6zM1776 672h12v6h-12zM1344 678h6v6h-6zM1500 678h6v6h-6zM1446 684h6v6h-6zM1500 684h6v6h-6zM1458 690h6v6h-6zM1488 690h6v6h-6zM1608 696h12v6h-12zM1614 702h6v6h-6zM1236 708h6v6h-6z"/><path fill="#c02000" d="M1320 228h6v6h-6zM1320 234h6v6h-6zM1278 240h48v6h-48zM1242 246h30v6h-30zM1236 252h6v6h-6zM1608 264h24v6h-24zM1602 270h6v6h-6zM1626 270h6v6h-6zM1596 276h6v6h-6zM1626 276h6v6h-6zM1602 282h6v6h-6zM1620 282h6v6h-6zM1236 294h12v6h-12zM1260 300h18v6h-18zM1356 306h6v6h-6zM1854 306h18v6h-18zM1428 312h6v6h-6zM1470 312h12v6h-12zM1854 312h36v6h-36zM1386 318h6v6h-6zM1410 318h12v6h-12zM1548 318h6v6h-6zM1854 318h12v6h-12zM1878 318h18v6h-18zM1854 324h12v6h-12zM1878 324h12v6h-12zM1854 330h12v6h-12zM1872 330h12v6h-12zM1722 336h30v6h-30zM1854 336h24v6h-24zM1722 342h6v6h-6zM1758 342h6v6h-6zM1854 342h18v6h-18zM1722 348h6v6h-6zM1854 348h12v6h-12zM1728 354h6v6h-6zM1854 354h6v6h-6zM1734 360h6v6h-6zM1554 366h6v6h-6zM1788 366h6v6h-6zM1800 372h6v6h-6zM1806 378h6v6h-6zM1566 384h6v6h-6zM1404 390h6v6h-6zM1374 396h6v6h-6zM1428 396h6v6h-6zM1356 402h6v6h-6zM1446 402h12v6h-12zM1302 408h6v6h-6zM1482 408h6v6h-6zM1584 408h6v6h-6zM1290 414h6v6h-6zM1494 414h6v6h-6zM1590 414h6v6h-6zM1806 414h6v6h-6zM1746 420h6v6h-6zM1806 420h6v6h-6zM1266 432h6v6h-6zM1524 432h6v6h-6zM1608 432h6v6h-6zM1800 432h6v6h-6zM1530 438h6v6h-6zM1788 438h6v6h-6zM1536 444h12v6h-12zM1614 444h6v6h-6zM1764 444h12v6h-12zM1254 450h6v6h-6zM1536 450h12v6h-12zM1614 450h6v6h-6zM1530 456h12v6h-12zM1758 456h12v6h-12zM1434 462h6v6h-6zM1524 462h6v6h-6zM1608 462h6v6h-6zM1752 462h18v6h-18zM1422 468h36v6h-36zM1506 468h6v6h-6zM1602 468h6v6h-6zM1746 468h6v6h-6zM1764 468h6v6h-6zM1314 474h6v6h-6zM1416 474h18v6h-18zM1464 474h24v6h-24zM1584 474h6v6h-6zM1740 474h6v6h-6zM1770 474h6v6h-6zM1410 480h18v6h-18zM1572 480h6v6h-6zM1734 480h6v6h-6zM1770 480h6v6h-6zM1326 486h6v6h-6zM1410 486h12v6h-12zM1566 486h6v6h-6zM1728 486h12v6h-12zM1770 486h6v6h-6zM1404 492h18v6h-18zM1728 492h12v6h-12zM1770 492h6v6h-6zM1404 498h12v6h-12zM1560 498h6v6h-6zM1728 498h12v6h-12zM1770 498h6v6h-6zM1404 504h36v6h-36zM1560 504h6v6h-6zM1734 504h12v6h-12zM1770 504h6v6h-6zM1398 510h66v6h-66zM1560 510h6v6h-6zM1752 510h24v6h-24zM1392 516h30v6h-30zM1458 516h24v6h-24zM1560 516h6v6h-6zM1356 522h24v6h-24zM1404 522h6v6h-6zM1476 522h18v6h-18zM1488 528h12v6h-12zM1398 534h6v6h-6zM1494 534h12v6h-12zM1830 534h42v6h-42zM1398 540h6v6h-6zM1500 540h6v6h-6zM1596 540h6v6h-6zM1824 540h12v6h-12zM1860 540h12v6h-12zM1398 546h6v6h-6zM1500 546h6v6h-6zM1818 546h12v6h-12zM1848 546h18v6h-18zM1494 552h6v6h-6zM1824 552h30v6h-30zM1494 558h6v6h-6zM1824 558h18v6h-18zM1488 564h6v6h-6zM1410 570h6v6h-6zM1488 570h6v6h-6zM1626 570h6v6h-6zM1416 576h6v6h-6zM1482 576h6v6h-6zM1422 582h6v6h-6zM1428 588h12v6h-12zM1434 594h12v6h-12zM1440 600h6v6h-6zM1440 606h6v6h-6zM1506 606h6v6h-6zM1440 612h6v6h-6zM1440 618h6v6h-6zM1746 618h6v6h-6zM1626 624h6v6h-6zM1440 630h6v6h-6zM1440 636h6v6h-6zM1764 636h6v6h-6zM1770 642h6v6h-6zM1512 648h6v6h-6zM1254 654h6v6h-6zM1536 654h6v6h-6zM1776 654h6v6h-6zM1236 660h6v6h-6zM1464 660h6v6h-6zM1710 660h6v6h-6zM1782 660h6v6h-6zM1494 666h6v6h-6zM1788 666h6v6h-6zM1710 672h6v6h-6zM1788 672h6v6h-6zM1350 678h6v6h-6zM1434 678h6v6h-6zM1746 678h24v6h-24zM1302 684h12v6h-12zM1452 690h6v6h-6zM1602 696h6v6h-6zM1620 696h6v6h-6zM1608 702h6v6h-6zM1620 702h6v6h-6zM1614 708h12v6h-12z"/><path fill="#c82000" d="M1326 228h6v6h-6zM1326 234h6v6h-6zM1326 240h6v6h-6zM1272 246h54v6h-54zM1242 252h12v6h-12zM1608 258h24v6h-24zM1602 264h6v6h-6zM1596 270h6v6h-6zM1632 270h6v6h-6zM1632 276h6v6h-6zM1596 282h6v6h-6zM1626 282h6v6h-6zM1602 288h24v6h-24zM1248 294h12v6h-12zM1278 300h6v6h-6zM1332 300h12v6h-12zM1848 300h18v6h-18zM1848 306h6v6h-6zM1872 306h12v6h-12zM1374 312h6v6h-6zM1416 312h12v6h-12zM1482 312h12v6h-12zM1848 312h6v6h-6zM1890 312h30v6h-30zM1392 318h18v6h-18zM1554 318h6v6h-6zM1848 318h6v6h-6zM1896 318h24v6h-24zM1560 324h6v6h-6zM1890 324h18v6h-18zM1914 324h6v6h-6zM1560 330h6v6h-6zM1884 330h6v6h-6zM1560 336h6v6h-6zM1716 336h6v6h-6zM1752 336h6v6h-6zM1878 336h6v6h-6zM1716 342h6v6h-6zM1764 342h6v6h-6zM1848 342h6v6h-6zM1872 342h6v6h-6zM1554 348h6v6h-6zM1716 348h6v6h-6zM1770 348h6v6h-6zM1848 348h6v6h-6zM1866 348h6v6h-6zM1722 354h6v6h-6zM1776 354h6v6h-6zM1848 354h6v6h-6zM1860 354h6v6h-6zM1728 360h6v6h-6zM1782 360h6v6h-6zM1848 360h6v6h-6zM1734 366h6v6h-6zM1560 372h6v6h-6zM1380 396h6v6h-6zM1362 402h6v6h-6zM1440 402h6v6h-6zM1458 402h12v6h-12zM1308 408h6v6h-6zM1284 420h6v6h-6zM1602 420h6v6h-6zM1512 426h6v6h-6zM1608 426h6v6h-6zM1806 426h6v6h-6zM1518 432h6v6h-6zM1524 438h6v6h-6zM1614 438h6v6h-6zM1758 438h6v6h-6zM1794 438h6v6h-6zM1530 444h6v6h-6zM1776 444h6v6h-6zM1530 450h6v6h-6zM1758 450h12v6h-12zM1260 456h6v6h-6zM1524 456h6v6h-6zM1614 456h6v6h-6zM1752 456h6v6h-6zM1422 462h12v6h-12zM1440 462h6v6h-6zM1518 462h6v6h-6zM1746 462h6v6h-6zM1770 462h6v6h-6zM1290 468h6v6h-6zM1416 468h6v6h-6zM1458 468h6v6h-6zM1500 468h6v6h-6zM1740 468h6v6h-6zM1770 468h6v6h-6zM1410 474h6v6h-6zM1590 474h6v6h-6zM1734 474h6v6h-6zM1326 480h6v6h-6zM1404 480h6v6h-6zM1578 480h6v6h-6zM1728 480h6v6h-6zM1404 486h6v6h-6zM1776 486h6v6h-6zM1398 492h6v6h-6zM1566 492h6v6h-6zM1722 492h6v6h-6zM1776 492h6v6h-6zM1398 498h6v6h-6zM1722 498h6v6h-6zM1776 498h6v6h-6zM1332 504h6v6h-6zM1398 504h6v6h-6zM1728 504h6v6h-6zM1776 504h6v6h-6zM1392 510h6v6h-6zM1740 510h12v6h-12zM1776 510h6v6h-6zM1386 516h6v6h-6zM1422 516h36v6h-36zM1410 522h12v6h-12zM1464 522h12v6h-12zM1566 522h6v6h-6zM1404 528h6v6h-6zM1476 528h12v6h-12zM1572 528h6v6h-6zM1842 528h36v6h-36zM1404 534h6v6h-6zM1482 534h12v6h-12zM1824 534h6v6h-6zM1872 534h12v6h-12zM1488 540h12v6h-12zM1818 540h6v6h-6zM1872 540h12v6h-12zM1488 546h12v6h-12zM1866 546h12v6h-12zM1404 552h6v6h-6zM1488 552h6v6h-6zM1818 552h6v6h-6zM1854 552h12v6h-12zM1404 558h6v6h-6zM1488 558h6v6h-6zM1620 558h6v6h-6zM1818 558h6v6h-6zM1842 558h6v6h-6zM1410 564h6v6h-6zM1482 564h6v6h-6zM1824 564h18v6h-18zM1416 570h6v6h-6zM1482 570h6v6h-6zM1824 570h18v6h-18zM1422 576h6v6h-6zM1476 576h6v6h-6zM1824 576h12v6h-12zM1428 582h12v6h-12zM1482 582h6v6h-6zM1824 582h12v6h-12zM1440 588h18v6h-18zM1488 588h6v6h-6zM1638 588h6v6h-6zM1446 594h6v6h-6zM1446 600h6v6h-6zM1644 600h6v6h-6zM1446 606h6v6h-6zM1644 606h6v6h-6zM1440 624h6v6h-6zM1512 624h6v6h-6zM1758 624h6v6h-6zM1512 630h6v6h-6zM1620 630h6v6h-6zM1722 630h6v6h-6zM1614 636h6v6h-6zM1512 642h6v6h-6zM1608 642h6v6h-6zM1716 642h6v6h-6zM1446 648h6v6h-6zM1602 648h6v6h-6zM1776 648h6v6h-6zM1452 654h6v6h-6zM1512 654h6v6h-6zM1542 654h6v6h-6zM1710 654h6v6h-6zM1782 654h6v6h-6zM1470 660h6v6h-6zM1500 666h6v6h-6zM1290 678h6v6h-6zM1356 678h6v6h-6zM1734 678h12v6h-12zM1770 678h12v6h-12zM1296 684h6v6h-6zM1314 684h18v6h-18zM1494 690h6v6h-6zM1608 690h12v6h-12zM1626 696h6v6h-6zM1236 702h6v6h-6zM1602 702h6v6h-6zM1626 702h6v6h-6zM1242 708h6v6h-6zM1608 708h6v6h-6zM1626 708h6v6h-6zM1236 714h6v6h-6zM1620 714h6v6h-6z"/><path fill="#c82800" d="M1332 228h6v6h-6zM1332 234h6v6h-6zM1332 240h6v6h-6zM1326 246h6v6h-6zM1608 246h18v6h-18zM1254 252h18v6h-18zM1602 252h30v6h-30zM1236 258h12v6h-12zM1602 258h6v6h-6zM1632 258h6v6h-6zM1596 264h6v6h-6zM1632 264h6v6h-6zM1638 270h6v6h-6zM1590 276h6v6h-6zM1590 282h6v6h-6zM1632 282h6v6h-6zM1236 288h12v6h-12zM1596 288h6v6h-6zM1626 288h6v6h-6zM1260 294h12v6h-12zM1602 294h18v6h-18zM1842 294h24v6h-24zM1284 300h18v6h-18zM1326 300h6v6h-6zM1344 300h6v6h-6zM1842 300h6v6h-6zM1866 300h12v6h-12zM1362 306h6v6h-6zM1422 306h30v6h-30zM1842 306h6v6h-6zM1884 306h36v6h-36zM1380 312h6v6h-6zM1404 312h12v6h-12zM1494 312h12v6h-12zM1842 312h6v6h-6zM1848 324h6v6h-6zM1908 324h6v6h-6zM1722 330h24v6h-24zM1848 330h6v6h-6zM1890 330h12v6h-12zM1710 336h6v6h-6zM1758 336h6v6h-6zM1848 336h6v6h-6zM1884 336h6v6h-6zM1710 342h6v6h-6zM1710 348h6v6h-6zM1554 354h6v6h-6zM1716 354h6v6h-6zM1842 354h6v6h-6zM1554 360h6v6h-6zM1842 360h6v6h-6zM1854 360h6v6h-6zM1734 372h6v6h-6zM1734 384h6v6h-6zM1572 390h6v6h-6zM1734 390h6v6h-6zM1386 396h6v6h-6zM1422 396h6v6h-6zM1734 396h6v6h-6zM1812 396h6v6h-6zM1368 402h6v6h-6zM1812 402h6v6h-6zM1314 408h36v6h-36zM1590 408h6v6h-6zM1812 408h6v6h-6zM1296 414h6v6h-6zM1596 414h6v6h-6zM1812 414h6v6h-6zM1500 420h6v6h-6zM1812 420h6v6h-6zM1278 426h6v6h-6zM1614 432h6v6h-6zM1806 432h6v6h-6zM1266 438h6v6h-6zM1518 438h6v6h-6zM1800 438h6v6h-6zM1260 444h6v6h-6zM1524 444h6v6h-6zM1620 444h6v6h-6zM1758 444h6v6h-6zM1782 444h12v6h-12zM1524 450h6v6h-6zM1620 450h6v6h-6zM1752 450h6v6h-6zM1770 450h6v6h-6zM1428 456h12v6h-12zM1746 456h6v6h-6zM1770 456h6v6h-6zM1272 462h6v6h-6zM1446 462h6v6h-6zM1512 462h6v6h-6zM1614 462h6v6h-6zM1740 462h6v6h-6zM1296 468h6v6h-6zM1410 468h6v6h-6zM1464 468h36v6h-36zM1608 468h6v6h-6zM1734 468h6v6h-6zM1320 474h6v6h-6zM1404 474h6v6h-6zM1596 474h6v6h-6zM1728 474h6v6h-6zM1776 474h6v6h-6zM1398 480h6v6h-6zM1584 480h6v6h-6zM1722 480h6v6h-6zM1776 480h6v6h-6zM1398 486h6v6h-6zM1572 486h6v6h-6zM1722 486h6v6h-6zM1716 492h6v6h-6zM1332 498h6v6h-6zM1392 498h6v6h-6zM1566 498h6v6h-6zM1716 498h6v6h-6zM1392 504h6v6h-6zM1566 504h6v6h-6zM1722 504h6v6h-6zM1782 504h6v6h-6zM1338 510h6v6h-6zM1386 510h6v6h-6zM1566 510h6v6h-6zM1728 510h12v6h-12zM1782 510h6v6h-6zM1344 516h6v6h-6zM1380 516h6v6h-6zM1566 516h6v6h-6zM1752 516h30v6h-30zM1422 522h42v6h-42zM1410 528h12v6h-12zM1458 528h18v6h-18zM1836 528h6v6h-6zM1878 528h12v6h-12zM1470 534h12v6h-12zM1584 534h6v6h-6zM1818 534h6v6h-6zM1884 534h12v6h-12zM1404 540h6v6h-6zM1476 540h12v6h-12zM1602 540h6v6h-6zM1812 540h6v6h-6zM1884 540h6v6h-6zM1404 546h6v6h-6zM1476 546h12v6h-12zM1614 546h6v6h-6zM1878 546h6v6h-6zM1476 552h12v6h-12zM1866 552h6v6h-6zM1410 558h6v6h-6zM1476 558h12v6h-12zM1848 558h12v6h-12zM1476 564h6v6h-6zM1818 564h6v6h-6zM1842 564h6v6h-6zM1422 570h6v6h-6zM1470 570h12v6h-12zM1818 570h6v6h-6zM1842 570h6v6h-6zM1428 576h12v6h-12zM1464 576h12v6h-12zM1632 576h6v6h-6zM1818 576h6v6h-6zM1836 576h6v6h-6zM1440 582h42v6h-42zM1818 582h6v6h-6zM1836 582h6v6h-6zM1458 588h6v6h-6zM1824 588h18v6h-18zM1452 594h6v6h-6zM1494 594h6v6h-6zM1824 594h12v6h-12zM1452 600h6v6h-6zM1500 600h6v6h-6zM1446 612h6v6h-6zM1644 612h6v6h-6zM1734 612h12v6h-12zM1446 618h6v6h-6zM1638 618h6v6h-6zM1728 618h6v6h-6zM1752 618h6v6h-6zM1764 630h6v6h-6zM1512 636h6v6h-6zM1770 636h6v6h-6zM1446 642h6v6h-6zM1776 642h6v6h-6zM1548 654h6v6h-6zM1572 654h30v6h-30zM1242 660h6v6h-6zM1272 660h6v6h-6zM1476 660h6v6h-6zM1512 660h6v6h-6zM1788 660h6v6h-6zM1704 666h6v6h-6zM1794 666h6v6h-6zM1284 672h6v6h-6zM1704 672h6v6h-6zM1794 672h6v6h-6zM1362 678h6v6h-6zM1428 678h6v6h-6zM1728 678h6v6h-6zM1782 678h6v6h-6zM1290 684h6v6h-6zM1332 684h12v6h-12zM1440 684h6v6h-6zM1602 690h6v6h-6zM1620 690h6v6h-6zM1596 696h6v6h-6zM1632 696h6v6h-6zM1596 702h6v6h-6zM1632 702h6v6h-6zM1602 708h6v6h-6zM1632 708h6v6h-6zM1608 714h12v6h-12zM1626 714h6v6h-6zM1620 720h6v6h-6z"/><path fill="#d03000" d="M1338 228h6v6h-6zM1602 228h18v6h-18zM1854 228h18v6h-18zM1338 234h6v6h-6zM1596 234h30v6h-30zM1854 234h18v6h-18zM1338 240h6v6h-6zM1596 240h12v6h-12zM1626 240h6v6h-6zM1338 246h6v6h-6zM1590 246h12v6h-12zM1632 246h6v6h-6zM1284 252h18v6h-18zM1326 252h12v6h-12zM1590 252h12v6h-12zM1632 252h6v6h-6zM1254 258h12v6h-12zM1590 258h6v6h-6zM1638 258h6v6h-6zM1236 264h12v6h-12zM1590 264h6v6h-6zM1644 264h6v6h-6zM1584 270h6v6h-6zM1644 270h6v6h-6zM1584 276h6v6h-6zM1644 276h6v6h-6zM1836 276h6v6h-6zM1236 282h12v6h-12zM1584 282h6v6h-6zM1644 282h6v6h-6zM1830 282h24v6h-24zM1254 288h12v6h-12zM1638 288h6v6h-6zM1830 288h12v6h-12zM1854 288h12v6h-12zM1278 294h6v6h-6zM1590 294h12v6h-12zM1626 294h12v6h-12zM1830 294h6v6h-6zM1866 294h12v6h-12zM1308 300h12v6h-12zM1350 300h6v6h-6zM1422 300h18v6h-18zM1602 300h18v6h-18zM1830 300h6v6h-6zM1884 300h36v6h-36zM1368 306h6v6h-6zM1404 306h12v6h-12zM1452 306h6v6h-6zM1836 306h6v6h-6zM1506 312h12v6h-12zM1836 312h6v6h-6zM1566 324h6v6h-6zM1842 324h6v6h-6zM1566 330h6v6h-6zM1710 330h6v6h-6zM1752 330h6v6h-6zM1842 330h6v6h-6zM1566 336h6v6h-6zM1704 336h6v6h-6zM1764 336h6v6h-6zM1842 336h6v6h-6zM1890 336h12v6h-12zM1884 342h6v6h-6zM1560 348h6v6h-6zM1704 348h6v6h-6zM1710 354h6v6h-6zM1782 354h6v6h-6zM1836 354h6v6h-6zM1788 360h6v6h-6zM1830 360h6v6h-6zM1560 366h6v6h-6zM1728 366h6v6h-6zM1830 366h6v6h-6zM1848 366h12v6h-12zM1806 372h6v6h-6zM1812 378h6v6h-6zM1572 384h6v6h-6zM1398 396h18v6h-18zM1374 402h6v6h-6zM1428 402h6v6h-6zM1734 402h6v6h-6zM1818 402h6v6h-6zM1350 408h6v6h-6zM1476 408h6v6h-6zM1596 408h6v6h-6zM1818 408h6v6h-6zM1302 414h6v6h-6zM1488 414h6v6h-6zM1602 414h6v6h-6zM1818 414h6v6h-6zM1290 420h6v6h-6zM1608 420h6v6h-6zM1818 420h6v6h-6zM1506 426h6v6h-6zM1614 426h6v6h-6zM1818 426h6v6h-6zM1620 432h6v6h-6zM1812 432h12v6h-12zM1512 438h6v6h-6zM1806 438h12v6h-12zM1512 444h6v6h-6zM1752 444h6v6h-6zM1794 444h12v6h-12zM1782 450h6v6h-6zM1266 456h6v6h-6zM1422 456h6v6h-6zM1446 456h6v6h-6zM1512 456h6v6h-6zM1740 456h6v6h-6zM1776 456h6v6h-6zM1914 456h6v6h-6zM1278 462h6v6h-6zM1458 462h6v6h-6zM1506 462h6v6h-6zM1620 462h6v6h-6zM1734 462h6v6h-6zM1776 462h6v6h-6zM1908 462h12v6h-12zM1302 468h12v6h-12zM1404 468h6v6h-6zM1614 468h6v6h-6zM1728 468h6v6h-6zM1908 468h12v6h-12zM1326 474h6v6h-6zM1398 474h6v6h-6zM1602 474h6v6h-6zM1722 474h6v6h-6zM1902 474h12v6h-12zM1332 480h6v6h-6zM1392 480h6v6h-6zM1590 480h6v6h-6zM1716 480h6v6h-6zM1782 480h6v6h-6zM1896 480h18v6h-18zM1332 486h6v6h-6zM1392 486h6v6h-6zM1578 486h6v6h-6zM1782 486h6v6h-6zM1896 486h12v6h-12zM1710 492h6v6h-6zM1890 492h12v6h-12zM1386 498h6v6h-6zM1572 498h6v6h-6zM1710 498h6v6h-6zM1884 498h18v6h-18zM1338 504h6v6h-6zM1386 504h6v6h-6zM1572 504h6v6h-6zM1884 504h12v6h-12zM1344 510h6v6h-6zM1380 510h6v6h-6zM1722 510h6v6h-6zM1788 510h6v6h-6zM1878 510h12v6h-12zM1356 516h18v6h-18zM1734 516h12v6h-12zM1788 516h6v6h-6zM1872 516h12v6h-12zM1572 522h6v6h-6zM1758 522h30v6h-30zM1848 522h12v6h-12zM1428 528h24v6h-24zM1578 528h6v6h-6zM1824 528h6v6h-6zM1416 534h12v6h-12zM1446 534h18v6h-18zM1590 534h6v6h-6zM1812 534h6v6h-6zM1416 540h6v6h-6zM1452 540h18v6h-18zM1608 540h6v6h-6zM1896 540h24v6h-24zM1410 546h12v6h-12zM1458 546h12v6h-12zM1884 546h12v6h-12zM1416 552h6v6h-6zM1458 552h12v6h-12zM1812 552h6v6h-6zM1878 552h6v6h-6zM1416 558h12v6h-12zM1458 558h12v6h-12zM1716 558h18v6h-18zM1812 558h6v6h-6zM1860 558h12v6h-12zM1422 564h12v6h-12zM1452 564h18v6h-18zM1716 564h6v6h-6zM1728 564h6v6h-6zM1812 564h6v6h-6zM1854 564h6v6h-6zM1428 570h36v6h-36zM1632 570h6v6h-6zM1716 570h6v6h-6zM1728 570h6v6h-6zM1812 570h6v6h-6zM1848 570h6v6h-6zM1716 576h6v6h-6zM1728 576h6v6h-6zM1812 576h6v6h-6zM1848 576h6v6h-6zM1638 582h6v6h-6zM1716 582h18v6h-18zM1812 582h6v6h-6zM1476 588h6v6h-6zM1722 588h12v6h-12zM1812 588h6v6h-6zM1842 588h6v6h-6zM1464 594h6v6h-6zM1728 594h6v6h-6zM1818 594h6v6h-6zM1842 594h6v6h-6zM1458 600h6v6h-6zM1818 600h12v6h-12zM1836 600h6v6h-6zM1452 606h6v6h-6zM1734 606h6v6h-6zM1824 606h18v6h-18zM1452 612h6v6h-6zM1728 612h6v6h-6zM1644 618h6v6h-6zM1758 618h6v6h-6zM1722 624h6v6h-6zM1764 624h6v6h-6zM1446 630h6v6h-6zM1626 630h6v6h-6zM1770 630h6v6h-6zM1716 636h6v6h-6zM1776 636h6v6h-6zM1782 642h6v6h-6zM1452 648h6v6h-6zM1608 648h6v6h-6zM1710 648h6v6h-6zM1788 648h6v6h-6zM1458 654h6v6h-6zM1506 654h6v6h-6zM1602 654h6v6h-6zM1794 654h6v6h-6zM1902 654h18v6h-18zM1248 660h24v6h-24zM1488 660h18v6h-18zM1524 660h6v6h-6zM1800 660h6v6h-6zM1878 660h42v6h-42zM1236 666h6v6h-6zM1512 666h6v6h-6zM1800 666h12v6h-12zM1872 666h36v6h-36zM1806 672h6v6h-6zM1866 672h36v6h-36zM1284 678h6v6h-6zM1368 678h18v6h-18zM1404 678h18v6h-18zM1722 678h6v6h-6zM1794 678h6v6h-6zM1866 678h42v6h-42zM1344 684h6v6h-6zM1434 684h6v6h-6zM1506 684h6v6h-6zM1608 684h12v6h-12zM1884 684h36v6h-36zM1290 690h42v6h-42zM1500 690h6v6h-6zM1596 690h6v6h-6zM1632 690h6v6h-6zM1908 690h12v6h-12zM1236 696h6v6h-6zM1458 696h12v6h-12zM1476 696h12v6h-12zM1590 696h6v6h-6zM1638 696h6v6h-6zM1242 702h6v6h-6zM1644 702h6v6h-6zM1254 708h12v6h-12zM1638 708h12v6h-12zM1242 714h6v6h-6zM1602 714h6v6h-6zM1638 714h12v6h-12zM1608 720h6v6h-6zM1632 720h18v6h-18zM1614 726h30v6h-30zM1620 732h18v6h-18z"/><path fill="#d83800" d="M1344 228h6v6h-6zM1590 228h6v6h-6zM1626 228h6v6h-6zM1842 228h12v6h-12zM1878 228h18v6h-18zM1344 234h6v6h-6zM1584 234h12v6h-12zM1626 234h6v6h-6zM1842 234h12v6h-12zM1872 234h18v6h-18zM1344 240h6v6h-6zM1584 240h6v6h-6zM1632 240h6v6h-6zM1842 240h12v6h-12zM1866 240h18v6h-18zM1344 246h6v6h-6zM1584 246h6v6h-6zM1638 246h6v6h-6zM1842 246h36v6h-36zM1338 252h6v6h-6zM1584 252h6v6h-6zM1644 252h6v6h-6zM1836 252h30v6h-30zM1266 258h72v6h-72zM1584 258h6v6h-6zM1650 258h6v6h-6zM1836 258h24v6h-24zM1248 264h12v6h-12zM1584 264h6v6h-6zM1650 264h18v6h-18zM1812 264h42v6h-42zM1236 270h12v6h-12zM1656 270h24v6h-24zM1800 270h54v6h-54zM1236 276h18v6h-18zM1656 276h30v6h-30zM1794 276h36v6h-36zM1848 276h6v6h-6zM1248 282h12v6h-12zM1650 282h42v6h-42zM1794 282h30v6h-30zM1854 282h12v6h-12zM1266 288h12v6h-12zM1584 288h6v6h-6zM1644 288h54v6h-54zM1794 288h30v6h-30zM1866 288h6v6h-6zM1290 294h12v6h-12zM1416 294h18v6h-18zM1584 294h6v6h-6zM1638 294h12v6h-12zM1680 294h18v6h-18zM1800 294h24v6h-24zM1878 294h18v6h-18zM1356 300h18v6h-18zM1386 300h30v6h-30zM1440 300h6v6h-6zM1590 300h12v6h-12zM1626 300h12v6h-12zM1686 300h18v6h-18zM1818 300h12v6h-12zM1380 306h18v6h-18zM1458 306h6v6h-6zM1602 306h24v6h-24zM1830 306h6v6h-6zM1524 312h30v6h-30zM1830 312h6v6h-6zM1572 318h6v6h-6zM1836 318h6v6h-6zM1572 324h6v6h-6zM1710 324h18v6h-18zM1734 324h24v6h-24zM1836 324h6v6h-6zM1572 330h6v6h-6zM1704 330h6v6h-6zM1764 330h6v6h-6zM1836 330h6v6h-6zM1572 336h6v6h-6zM1698 336h6v6h-6zM1770 336h6v6h-6zM1836 336h6v6h-6zM1908 336h6v6h-6zM1566 342h6v6h-6zM1692 342h6v6h-6zM1776 342h6v6h-6zM1836 342h6v6h-6zM1890 342h12v6h-12zM1566 348h6v6h-6zM1698 348h6v6h-6zM1782 348h6v6h-6zM1884 348h6v6h-6zM1560 354h6v6h-6zM1704 354h6v6h-6zM1788 354h6v6h-6zM1830 354h6v6h-6zM1872 354h6v6h-6zM1560 360h6v6h-6zM1716 360h6v6h-6zM1794 360h6v6h-6zM1824 360h6v6h-6zM1866 360h6v6h-6zM1566 366h6v6h-6zM1722 366h6v6h-6zM1800 366h6v6h-6zM1818 366h12v6h-12zM1860 366h6v6h-6zM1728 372h6v6h-6zM1818 372h24v6h-24zM1572 378h6v6h-6zM1818 378h12v6h-12zM1818 384h6v6h-6zM1578 390h6v6h-6zM1818 390h6v6h-6zM1584 396h6v6h-6zM1824 396h6v6h-6zM1380 402h18v6h-18zM1416 402h12v6h-12zM1590 402h6v6h-6zM1824 402h6v6h-6zM1362 408h6v6h-6zM1434 408h18v6h-18zM1470 408h6v6h-6zM1602 408h6v6h-6zM1734 408h6v6h-6zM1824 408h12v6h-12zM1308 414h12v6h-12zM1482 414h6v6h-6zM1608 414h6v6h-6zM1824 414h12v6h-12zM1296 420h6v6h-6zM1494 420h6v6h-6zM1614 420h6v6h-6zM1824 420h18v6h-18zM1284 426h6v6h-6zM1500 426h6v6h-6zM1620 426h6v6h-6zM1746 426h6v6h-6zM1824 426h24v6h-24zM1278 432h6v6h-6zM1506 432h6v6h-6zM1626 432h6v6h-6zM1824 432h30v6h-30zM1272 438h6v6h-6zM1506 438h6v6h-6zM1626 438h6v6h-6zM1752 438h6v6h-6zM1818 438h30v6h-30zM1266 444h6v6h-6zM1506 444h6v6h-6zM1806 444h12v6h-12zM1266 450h6v6h-6zM1428 450h6v6h-6zM1440 450h6v6h-6zM1506 450h6v6h-6zM1626 450h6v6h-6zM1788 450h12v6h-12zM1908 450h12v6h-12zM1416 456h6v6h-6zM1452 456h6v6h-6zM1506 456h6v6h-6zM1626 456h6v6h-6zM1782 456h6v6h-6zM1902 456h12v6h-12zM1284 462h6v6h-6zM1410 462h6v6h-6zM1464 462h18v6h-18zM1488 462h12v6h-12zM1728 462h6v6h-6zM1782 462h6v6h-6zM1902 462h6v6h-6zM1314 468h6v6h-6zM1620 468h6v6h-6zM1722 468h6v6h-6zM1782 468h6v6h-6zM1896 468h6v6h-6zM1392 474h6v6h-6zM1716 474h6v6h-6zM1890 474h12v6h-12zM1386 480h6v6h-6zM1596 480h12v6h-12zM1710 480h6v6h-6zM1890 480h6v6h-6zM1338 486h6v6h-6zM1386 486h6v6h-6zM1584 486h12v6h-12zM1704 486h6v6h-6zM1884 486h6v6h-6zM1338 492h6v6h-6zM1380 492h6v6h-6zM1704 492h6v6h-6zM1788 492h6v6h-6zM1884 492h6v6h-6zM1338 498h6v6h-6zM1380 498h6v6h-6zM1578 498h6v6h-6zM1704 498h6v6h-6zM1788 498h6v6h-6zM1878 498h6v6h-6zM1344 504h6v6h-6zM1374 504h12v6h-12zM1704 504h6v6h-6zM1878 504h6v6h-6zM1350 510h30v6h-30zM1572 510h6v6h-6zM1710 510h6v6h-6zM1872 510h6v6h-6zM1722 516h6v6h-6zM1860 516h12v6h-12zM1578 522h6v6h-6zM1734 522h18v6h-18zM1788 522h6v6h-6zM1836 522h6v6h-6zM1584 528h6v6h-6zM1818 528h6v6h-6zM1596 534h6v6h-6zM1428 540h24v6h-24zM1614 540h6v6h-6zM1806 540h6v6h-6zM1422 546h30v6h-30zM1620 546h6v6h-6zM1902 546h12v6h-12zM1428 552h24v6h-24zM1626 552h6v6h-6zM1716 552h24v6h-24zM1884 552h12v6h-12zM1428 558h24v6h-24zM1710 558h6v6h-6zM1734 558h6v6h-6zM1872 558h6v6h-6zM1632 564h6v6h-6zM1860 564h6v6h-6zM1854 570h6v6h-6zM1638 576h6v6h-6zM1710 576h6v6h-6zM1854 576h6v6h-6zM1734 582h6v6h-6zM1716 588h6v6h-6zM1734 588h6v6h-6zM1848 588h6v6h-6zM1470 594h18v6h-18zM1722 594h6v6h-6zM1734 594h6v6h-6zM1812 594h6v6h-6zM1848 594h6v6h-6zM1464 600h6v6h-6zM1494 600h6v6h-6zM1650 600h6v6h-6zM1728 600h12v6h-12zM1812 600h6v6h-6zM1842 600h6v6h-6zM1458 606h6v6h-6zM1500 606h6v6h-6zM1650 606h6v6h-6zM1728 606h6v6h-6zM1740 606h6v6h-6zM1818 606h6v6h-6zM1842 606h6v6h-6zM1650 612h6v6h-6zM1752 612h6v6h-6zM1818 612h24v6h-24zM1452 618h6v6h-6zM1506 618h6v6h-6zM1722 618h6v6h-6zM1764 618h6v6h-6zM1830 618h6v6h-6zM1452 624h6v6h-6zM1506 624h6v6h-6zM1638 624h6v6h-6zM1770 624h6v6h-6zM1632 630h6v6h-6zM1716 630h6v6h-6zM1776 630h6v6h-6zM1782 636h6v6h-6zM1854 636h6v6h-6zM1452 642h6v6h-6zM1506 642h6v6h-6zM1710 642h6v6h-6zM1788 642h6v6h-6zM1842 642h54v6h-54zM1506 648h6v6h-6zM1794 648h6v6h-6zM1836 648h84v6h-84zM1464 654h6v6h-6zM1608 654h6v6h-6zM1704 654h6v6h-6zM1800 654h6v6h-6zM1830 654h60v6h-60zM1530 660h12v6h-12zM1698 660h6v6h-6zM1806 660h12v6h-12zM1824 660h48v6h-48zM1242 666h6v6h-6zM1266 666h12v6h-12zM1518 666h6v6h-6zM1812 666h48v6h-48zM1236 672h6v6h-6zM1278 672h6v6h-6zM1512 672h6v6h-6zM1698 672h6v6h-6zM1812 672h42v6h-42zM1278 678h6v6h-6zM1710 678h12v6h-12zM1806 678h54v6h-54zM1278 684h6v6h-6zM1356 684h6v6h-6zM1428 684h6v6h-6zM1602 684h6v6h-6zM1620 684h12v6h-12zM1830 684h42v6h-42zM1236 690h6v6h-6zM1278 690h6v6h-6zM1332 690h18v6h-18zM1440 690h6v6h-6zM1506 690h6v6h-6zM1590 690h6v6h-6zM1638 690h12v6h-12zM1830 690h72v6h-72zM1242 696h6v6h-6zM1272 696h60v6h-60zM1452 696h6v6h-6zM1488 696h6v6h-6zM1650 696h12v6h-12zM1830 696h36v6h-36zM1890 696h30v6h-30zM1248 702h54v6h-54zM1590 702h6v6h-6zM1656 702h12v6h-12zM1830 702h30v6h-30zM1914 702h6v6h-6zM1272 708h18v6h-18zM1656 708h12v6h-12zM1830 708h30v6h-30zM1248 714h12v6h-12zM1266 714h12v6h-12zM1656 714h12v6h-12zM1842 714h18v6h-18zM1236 720h6v6h-6zM1602 720h6v6h-6zM1656 720h12v6h-12zM1608 726h6v6h-6zM1650 726h18v6h-18zM1614 732h6v6h-6zM1650 732h18v6h-18zM1620 738h42v6h-42z"/><path fill="#e04800" d="M1350 228h6v6h-6zM1836 228h6v6h-6zM1572 234h6v6h-6zM1902 234h6v6h-6zM1572 240h6v6h-6zM1896 240h6v6h-6zM1350 246h6v6h-6zM1656 252h6v6h-6zM1878 252h6v6h-6zM1812 258h6v6h-6zM1872 258h6v6h-6zM1284 264h30v6h-30zM1572 264h6v6h-6zM1794 264h6v6h-6zM1266 270h6v6h-6zM1572 270h6v6h-6zM1860 270h6v6h-6zM1266 276h6v6h-6zM1872 282h6v6h-6zM1368 288h30v6h-30zM1428 288h6v6h-6zM1578 288h6v6h-6zM1704 288h6v6h-6zM1776 288h6v6h-6zM1890 288h6v6h-6zM1440 294h6v6h-6zM1770 294h6v6h-6zM1752 300h12v6h-12zM1578 306h6v6h-6zM1644 306h24v6h-24zM1716 306h6v6h-6zM1740 306h12v6h-12zM1776 306h12v6h-12zM1812 306h6v6h-6zM1632 312h6v6h-6zM1668 312h6v6h-6zM1722 312h12v6h-12zM1776 312h6v6h-6zM1596 318h30v6h-30zM1674 318h6v6h-6zM1770 318h6v6h-6zM1590 324h12v6h-12zM1680 324h6v6h-6zM1770 324h6v6h-6zM1590 330h6v6h-6zM1686 330h6v6h-6zM1686 336h6v6h-6zM1584 342h6v6h-6zM1782 342h6v6h-6zM1578 348h6v6h-6zM1686 348h6v6h-6zM1788 348h6v6h-6zM1824 348h6v6h-6zM1908 348h6v6h-6zM1572 354h6v6h-6zM1692 354h6v6h-6zM1794 354h6v6h-6zM1890 354h6v6h-6zM1572 360h6v6h-6zM1704 360h6v6h-6zM1800 360h6v6h-6zM1812 360h6v6h-6zM1872 366h6v6h-6zM1854 372h6v6h-6zM1836 378h6v6h-6zM1836 396h6v6h-6zM1380 408h6v6h-6zM1416 408h6v6h-6zM1608 408h6v6h-6zM1842 408h6v6h-6zM1344 414h6v6h-6zM1434 414h12v6h-12zM1848 414h6v6h-6zM1854 420h6v6h-6zM1284 432h6v6h-6zM1494 432h6v6h-6zM1872 432h6v6h-6zM1278 438h6v6h-6zM1434 438h6v6h-6zM1638 438h6v6h-6zM1884 438h12v6h-12zM1638 444h6v6h-6zM1638 450h6v6h-6zM1812 450h12v6h-12zM1860 450h24v6h-24zM1464 456h6v6h-6zM1494 456h6v6h-6zM1890 456h6v6h-6zM1296 462h6v6h-6zM1632 462h6v6h-6zM1722 462h6v6h-6zM1788 462h6v6h-6zM1626 468h6v6h-6zM1788 468h6v6h-6zM1386 474h6v6h-6zM1620 474h6v6h-6zM1884 474h6v6h-6zM1344 480h6v6h-6zM1374 486h6v6h-6zM1602 486h6v6h-6zM1698 486h6v6h-6zM1350 492h6v6h-6zM1368 492h6v6h-6zM1356 498h12v6h-12zM1794 498h6v6h-6zM1584 504h6v6h-6zM1698 504h6v6h-6zM1584 516h6v6h-6zM1716 522h6v6h-6zM1596 528h6v6h-6zM1722 528h6v6h-6zM1800 528h12v6h-12zM1722 534h30v6h-30zM1716 540h6v6h-6zM1740 540h6v6h-6zM1710 546h6v6h-6zM1704 552h6v6h-6zM1890 558h30v6h-30zM1638 564h6v6h-6zM1866 570h6v6h-6zM1644 576h6v6h-6zM1860 582h6v6h-6zM1710 588h6v6h-6zM1470 600h6v6h-6zM1854 600h6v6h-6zM1464 606h6v6h-6zM1494 606h6v6h-6zM1722 606h6v6h-6zM1806 606h6v6h-6zM1854 606h6v6h-6zM1722 612h6v6h-6zM1764 612h6v6h-6zM1854 612h6v6h-6zM1458 618h6v6h-6zM1812 618h6v6h-6zM1854 618h12v6h-12zM1650 624h6v6h-6zM1818 624h6v6h-6zM1872 624h12v6h-12zM1824 630h6v6h-6zM1890 630h12v6h-12zM1632 636h6v6h-6zM1710 636h6v6h-6zM1794 636h6v6h-6zM1824 636h6v6h-6zM1908 636h12v6h-12zM1806 642h6v6h-6zM1824 642h6v6h-6zM1812 648h12v6h-12zM1494 654h6v6h-6zM1614 654h6v6h-6zM1698 654h6v6h-6zM1554 660h18v6h-18zM1608 660h6v6h-6zM1248 672h18v6h-18zM1518 672h6v6h-6zM1266 678h6v6h-6zM1602 678h6v6h-6zM1620 678h6v6h-6zM1266 684h6v6h-6zM1380 684h30v6h-30zM1590 684h6v6h-6zM1788 684h6v6h-6zM1248 690h24v6h-24zM1356 690h6v6h-6zM1428 690h6v6h-6zM1662 690h6v6h-6zM1818 690h6v6h-6zM1584 702h6v6h-6zM1818 702h6v6h-6zM1320 708h12v6h-12zM1296 714h6v6h-6zM1824 714h6v6h-6zM1890 714h18v6h-18zM1884 720h36v6h-36zM1848 726h12v6h-12zM1872 726h48v6h-48z"/><path fill="#e85000" d="M1356 228h6v6h-6zM1566 228h6v6h-6zM1638 228h6v6h-6zM1830 228h6v6h-6zM1914 228h6v6h-6zM1356 234h6v6h-6zM1566 234h6v6h-6zM1644 234h6v6h-6zM1830 234h6v6h-6zM1914 234h6v6h-6zM1356 240h6v6h-6zM1560 240h12v6h-12zM1650 240h6v6h-6zM1830 240h6v6h-6zM1908 240h12v6h-12zM1356 246h6v6h-6zM1560 246h6v6h-6zM1656 246h12v6h-12zM1824 246h6v6h-6zM1902 246h12v6h-12zM1356 252h6v6h-6zM1560 252h6v6h-6zM1668 252h12v6h-12zM1818 252h6v6h-6zM1890 252h12v6h-12zM1356 258h6v6h-6zM1560 258h12v6h-12zM1680 258h12v6h-12zM1794 258h12v6h-12zM1884 258h12v6h-12zM1350 264h12v6h-12zM1566 264h6v6h-6zM1692 264h6v6h-6zM1788 264h6v6h-6zM1872 264h18v6h-18zM1284 270h48v6h-48zM1338 270h48v6h-48zM1566 270h6v6h-6zM1698 270h6v6h-6zM1782 270h6v6h-6zM1872 270h12v6h-12zM1278 276h24v6h-24zM1332 276h84v6h-84zM1872 276h18v6h-18zM1290 282h18v6h-18zM1338 282h30v6h-30zM1422 282h12v6h-12zM1572 282h6v6h-6zM1704 282h6v6h-6zM1884 282h36v6h-36zM1308 288h36v6h-36zM1710 288h6v6h-6zM1764 288h6v6h-6zM1716 294h6v6h-6zM1746 294h12v6h-12zM1452 300h6v6h-6zM1722 300h18v6h-18zM1470 306h12v6h-12zM1566 306h6v6h-6zM1788 312h30v6h-30zM1644 318h18v6h-18zM1782 318h6v6h-6zM1812 318h12v6h-12zM1626 324h42v6h-42zM1776 324h6v6h-6zM1818 324h6v6h-6zM1614 330h66v6h-66zM1818 330h6v6h-6zM1608 336h42v6h-42zM1656 336h24v6h-24zM1782 336h6v6h-6zM1818 336h6v6h-6zM1602 342h30v6h-30zM1668 342h12v6h-12zM1788 342h6v6h-6zM1818 342h6v6h-6zM1590 348h30v6h-30zM1674 348h12v6h-12zM1794 348h6v6h-6zM1812 348h12v6h-12zM1584 354h24v6h-24zM1680 354h12v6h-12zM1800 354h18v6h-18zM1584 360h12v6h-12zM1692 360h12v6h-12zM1902 360h18v6h-18zM1584 366h6v6h-6zM1704 366h6v6h-6zM1884 366h36v6h-36zM1584 372h6v6h-6zM1716 372h6v6h-6zM1866 372h54v6h-54zM1584 378h6v6h-6zM1722 378h6v6h-6zM1848 378h12v6h-12zM1884 378h36v6h-36zM1584 384h6v6h-6zM1722 384h6v6h-6zM1842 384h6v6h-6zM1896 384h24v6h-24zM1590 390h6v6h-6zM1722 390h6v6h-6zM1842 390h6v6h-6zM1914 390h6v6h-6zM1596 396h12v6h-12zM1842 396h12v6h-12zM1608 402h6v6h-6zM1848 402h6v6h-6zM1614 408h12v6h-12zM1728 408h6v6h-6zM1854 408h6v6h-6zM1356 414h12v6h-12zM1392 414h36v6h-36zM1452 414h24v6h-24zM1626 414h6v6h-6zM1860 414h12v6h-12zM1314 420h6v6h-6zM1416 420h18v6h-18zM1440 420h12v6h-12zM1476 420h6v6h-6zM1632 420h18v6h-18zM1866 420h12v6h-12zM1422 426h30v6h-30zM1482 426h6v6h-6zM1638 426h24v6h-24zM1878 426h12v6h-12zM1290 432h6v6h-6zM1428 432h6v6h-6zM1446 432h12v6h-12zM1482 432h12v6h-12zM1644 432h24v6h-24zM1890 432h30v6h-30zM1422 438h6v6h-6zM1446 438h12v6h-12zM1482 438h12v6h-12zM1650 438h18v6h-18zM1278 444h6v6h-6zM1452 444h12v6h-12zM1482 444h12v6h-12zM1650 444h18v6h-18zM1740 444h6v6h-6zM1458 450h18v6h-18zM1482 450h12v6h-12zM1650 450h18v6h-18zM1734 450h6v6h-6zM1284 456h6v6h-6zM1476 456h12v6h-12zM1644 456h18v6h-18zM1800 456h78v6h-78zM1302 462h12v6h-12zM1638 462h18v6h-18zM1716 462h6v6h-6zM1794 462h6v6h-6zM1878 462h6v6h-6zM1332 468h6v6h-6zM1392 468h6v6h-6zM1632 468h12v6h-12zM1710 468h6v6h-6zM1794 468h6v6h-6zM1878 468h6v6h-6zM1344 474h6v6h-6zM1380 474h6v6h-6zM1626 474h12v6h-12zM1698 474h6v6h-6zM1794 474h6v6h-6zM1878 474h6v6h-6zM1350 480h24v6h-24zM1620 480h6v6h-6zM1692 480h6v6h-6zM1794 480h6v6h-6zM1614 486h6v6h-6zM1692 486h6v6h-6zM1794 486h6v6h-6zM1872 486h6v6h-6zM1602 492h12v6h-12zM1686 492h6v6h-6zM1596 498h6v6h-6zM1692 498h6v6h-6zM1866 498h6v6h-6zM1590 504h12v6h-12zM1692 504h6v6h-6zM1800 504h6v6h-6zM1590 510h6v6h-6zM1692 510h6v6h-6zM1800 510h6v6h-6zM1590 516h12v6h-12zM1692 516h12v6h-12zM1842 516h6v6h-6zM1596 522h12v6h-12zM1698 522h12v6h-12zM1806 522h18v6h-18zM1608 528h12v6h-12zM1698 528h18v6h-18zM1620 534h6v6h-6zM1698 534h18v6h-18zM1764 534h36v6h-36zM1626 540h6v6h-6zM1698 540h12v6h-12zM1752 540h6v6h-6zM1800 540h6v6h-6zM1632 546h6v6h-6zM1698 546h6v6h-6zM1746 546h6v6h-6zM1638 552h6v6h-6zM1698 552h6v6h-6zM1746 552h6v6h-6zM1638 558h6v6h-6zM1746 558h6v6h-6zM1806 558h6v6h-6zM1644 564h6v6h-6zM1746 564h6v6h-6zM1896 564h24v6h-24zM1746 570h6v6h-6zM1878 570h42v6h-42zM1650 576h6v6h-6zM1698 576h6v6h-6zM1746 576h6v6h-6zM1872 576h48v6h-48zM1746 582h6v6h-6zM1800 582h6v6h-6zM1872 582h48v6h-48zM1656 588h6v6h-6zM1746 588h6v6h-6zM1800 588h6v6h-6zM1866 588h54v6h-54zM1656 594h6v6h-6zM1710 594h6v6h-6zM1746 594h6v6h-6zM1800 594h6v6h-6zM1866 594h54v6h-54zM1656 600h6v6h-6zM1716 600h6v6h-6zM1746 600h6v6h-6zM1800 600h6v6h-6zM1866 600h54v6h-54zM1470 606h6v6h-6zM1488 606h6v6h-6zM1656 606h6v6h-6zM1758 606h6v6h-6zM1800 606h6v6h-6zM1866 606h54v6h-54zM1464 612h6v6h-6zM1494 612h6v6h-6zM1656 612h6v6h-6zM1770 612h6v6h-6zM1800 612h6v6h-6zM1878 612h42v6h-42zM1656 618h6v6h-6zM1782 618h24v6h-24zM1896 618h24v6h-24zM1458 624h6v6h-6zM1500 624h6v6h-6zM1656 624h6v6h-6zM1788 624h18v6h-18zM1908 624h12v6h-12zM1458 630h6v6h-6zM1500 630h6v6h-6zM1650 630h6v6h-6zM1710 630h6v6h-6zM1800 630h6v6h-6zM1458 636h6v6h-6zM1500 636h6v6h-6zM1638 636h12v6h-12zM1458 642h6v6h-6zM1500 642h6v6h-6zM1632 642h6v6h-6zM1704 642h6v6h-6zM1464 648h6v6h-6zM1626 648h6v6h-6zM1698 648h6v6h-6zM1620 654h6v6h-6zM1614 660h12v6h-12zM1536 666h18v6h-18zM1578 666h18v6h-18zM1614 666h6v6h-6zM1686 666h6v6h-6zM1524 672h12v6h-12zM1590 672h12v6h-12zM1614 672h12v6h-12zM1686 672h6v6h-6zM1524 678h6v6h-6zM1590 678h6v6h-6zM1632 678h6v6h-6zM1692 678h12v6h-12zM1524 684h6v6h-6zM1584 684h6v6h-6zM1644 684h30v6h-30zM1728 684h6v6h-6zM1368 690h54v6h-54zM1518 690h6v6h-6zM1578 690h6v6h-6zM1674 690h6v6h-6zM1812 690h6v6h-6zM1356 696h18v6h-18zM1416 696h24v6h-24zM1500 696h6v6h-6zM1674 696h6v6h-6zM1812 696h6v6h-6zM1350 702h12v6h-12zM1452 702h24v6h-24zM1578 702h6v6h-6zM1674 702h6v6h-6zM1812 702h6v6h-6zM1344 708h18v6h-18zM1584 708h6v6h-6zM1812 708h6v6h-6zM1308 714h24v6h-24zM1590 714h6v6h-6zM1818 714h6v6h-6zM1248 720h6v6h-6zM1266 720h12v6h-12zM1284 720h12v6h-12zM1824 720h6v6h-6zM1596 726h6v6h-6zM1830 726h12v6h-12zM1602 732h6v6h-6zM1818 732h42v6h-42zM1674 738h6v6h-6zM1800 738h120v6h-120zM1788 744h72v6h-72zM1788 750h60v6h-60zM1794 756h30v6h-30z"/><path fill="#f05800" d="M1362 228h12v6h-12zM1554 228h12v6h-12zM1644 228h6v6h-6zM1824 228h6v6h-6zM1362 234h12v6h-12zM1554 234h12v6h-12zM1650 234h6v6h-6zM1824 234h6v6h-6zM1362 240h12v6h-12zM1554 240h6v6h-6zM1656 240h12v6h-12zM1824 240h6v6h-6zM1362 246h12v6h-12zM1554 246h6v6h-6zM1668 246h12v6h-12zM1818 246h6v6h-6zM1914 246h6v6h-6zM1362 252h12v6h-12zM1554 252h6v6h-6zM1680 252h6v6h-6zM1800 252h18v6h-18zM1902 252h18v6h-18zM1362 258h18v6h-18zM1554 258h6v6h-6zM1896 258h18v6h-18zM1362 264h30v6h-30zM1560 264h6v6h-6zM1890 264h18v6h-18zM1386 270h18v6h-18zM1560 270h6v6h-6zM1884 270h24v6h-24zM1302 276h30v6h-30zM1416 276h12v6h-12zM1566 276h6v6h-6zM1704 276h6v6h-6zM1776 276h6v6h-6zM1890 276h30v6h-30zM1308 282h30v6h-30zM1434 282h6v6h-6zM1770 282h6v6h-6zM1440 288h6v6h-6zM1572 288h6v6h-6zM1758 288h6v6h-6zM1446 294h6v6h-6zM1740 294h6v6h-6zM1572 300h6v6h-6zM1482 306h18v6h-18zM1560 306h6v6h-6zM1788 318h24v6h-24zM1782 324h12v6h-12zM1806 324h12v6h-12zM1782 330h12v6h-12zM1812 330h6v6h-6zM1650 336h6v6h-6zM1788 336h6v6h-6zM1806 336h12v6h-12zM1632 342h36v6h-36zM1794 342h24v6h-24zM1620 348h54v6h-54zM1800 348h12v6h-12zM1608 354h24v6h-24zM1674 354h6v6h-6zM1596 360h18v6h-18zM1686 360h6v6h-6zM1590 366h12v6h-12zM1698 366h6v6h-6zM1590 372h6v6h-6zM1710 372h6v6h-6zM1590 378h6v6h-6zM1716 378h6v6h-6zM1860 378h24v6h-24zM1590 384h6v6h-6zM1716 384h6v6h-6zM1848 384h12v6h-12zM1878 384h18v6h-18zM1596 390h6v6h-6zM1848 390h12v6h-12zM1890 390h24v6h-24zM1608 396h6v6h-6zM1722 396h6v6h-6zM1854 396h12v6h-12zM1896 396h24v6h-24zM1614 402h6v6h-6zM1854 402h12v6h-12zM1908 402h12v6h-12zM1626 408h6v6h-6zM1860 408h12v6h-12zM1368 414h24v6h-24zM1632 414h42v6h-42zM1872 414h12v6h-12zM1320 420h12v6h-12zM1398 420h18v6h-18zM1452 420h24v6h-24zM1650 420h24v6h-24zM1878 420h18v6h-18zM1302 426h6v6h-6zM1410 426h12v6h-12zM1452 426h30v6h-30zM1662 426h12v6h-12zM1740 426h6v6h-6zM1890 426h30v6h-30zM1416 432h12v6h-12zM1458 432h24v6h-24zM1668 432h6v6h-6zM1284 438h6v6h-6zM1416 438h6v6h-6zM1458 438h24v6h-24zM1668 438h6v6h-6zM1416 444h6v6h-6zM1464 444h18v6h-18zM1668 444h6v6h-6zM1278 450h6v6h-6zM1476 450h6v6h-6zM1668 450h6v6h-6zM1728 450h6v6h-6zM1404 456h6v6h-6zM1662 456h12v6h-12zM1722 456h6v6h-6zM1314 462h6v6h-6zM1398 462h6v6h-6zM1656 462h18v6h-18zM1710 462h6v6h-6zM1800 462h6v6h-6zM1866 462h12v6h-12zM1386 468h6v6h-6zM1644 468h30v6h-30zM1698 468h12v6h-12zM1350 474h6v6h-6zM1374 474h6v6h-6zM1638 474h12v6h-12zM1686 474h12v6h-12zM1626 480h12v6h-12zM1680 480h12v6h-12zM1872 480h6v6h-6zM1620 486h12v6h-12zM1680 486h12v6h-12zM1614 492h12v6h-12zM1680 492h6v6h-6zM1800 492h6v6h-6zM1866 492h6v6h-6zM1602 498h18v6h-18zM1680 498h12v6h-12zM1800 498h6v6h-6zM1602 504h12v6h-12zM1686 504h6v6h-6zM1860 504h6v6h-6zM1596 510h18v6h-18zM1686 510h6v6h-6zM1854 510h6v6h-6zM1602 516h12v6h-12zM1686 516h6v6h-6zM1806 516h6v6h-6zM1836 516h6v6h-6zM1608 522h12v6h-12zM1686 522h12v6h-12zM1620 528h12v6h-12zM1686 528h12v6h-12zM1626 534h12v6h-12zM1686 534h12v6h-12zM1632 540h6v6h-6zM1692 540h6v6h-6zM1758 540h6v6h-6zM1638 546h6v6h-6zM1692 546h6v6h-6zM1752 546h6v6h-6zM1644 552h6v6h-6zM1692 552h6v6h-6zM1752 552h6v6h-6zM1644 558h6v6h-6zM1692 558h6v6h-6zM1650 564h6v6h-6zM1692 564h6v6h-6zM1650 570h6v6h-6zM1692 570h6v6h-6zM1656 576h6v6h-6zM1800 576h6v6h-6zM1656 582h6v6h-6zM1698 582h6v6h-6zM1704 588h6v6h-6zM1794 594h6v6h-6zM1752 600h6v6h-6zM1794 600h6v6h-6zM1476 606h12v6h-12zM1716 606h6v6h-6zM1764 606h6v6h-6zM1794 606h6v6h-6zM1776 612h24v6h-24zM1464 618h6v6h-6zM1494 618h6v6h-6zM1716 618h6v6h-6zM1656 630h6v6h-6zM1650 636h12v6h-12zM1704 636h6v6h-6zM1638 642h18v6h-18zM1470 648h6v6h-6zM1494 648h6v6h-6zM1632 648h12v6h-12zM1626 654h6v6h-6zM1692 654h6v6h-6zM1626 660h6v6h-6zM1686 660h6v6h-6zM1554 666h24v6h-24zM1620 666h12v6h-12zM1680 666h6v6h-6zM1536 672h12v6h-12zM1578 672h12v6h-12zM1626 672h6v6h-6zM1680 672h6v6h-6zM1530 678h6v6h-6zM1584 678h6v6h-6zM1638 678h6v6h-6zM1680 678h12v6h-12zM1530 684h6v6h-6zM1578 684h6v6h-6zM1674 684h6v6h-6zM1722 684h6v6h-6zM1524 690h12v6h-12zM1572 690h6v6h-6zM1806 690h6v6h-6zM1374 696h42v6h-42zM1506 696h6v6h-6zM1572 696h6v6h-6zM1806 696h6v6h-6zM1362 702h90v6h-90zM1476 702h12v6h-12zM1362 708h78v6h-78zM1332 714h48v6h-48zM1812 714h6v6h-6zM1254 720h12v6h-12zM1296 720h6v6h-6zM1590 720h6v6h-6zM1818 720h6v6h-6zM1236 726h6v6h-6zM1818 726h12v6h-12zM1596 732h6v6h-6zM1800 732h18v6h-18zM1602 738h6v6h-6zM1788 738h12v6h-12zM1608 744h6v6h-6zM1674 744h6v6h-6zM1782 744h6v6h-6zM1860 744h12v6h-12zM1638 750h24v6h-24zM1776 750h12v6h-12zM1848 750h12v6h-12zM1782 756h12v6h-12zM1824 756h18v6h-18z"/><path fill="#f86000" d="M1374 228h6v6h-6zM1494 228h54v6h-54zM1656 228h6v6h-6zM1806 228h12v6h-12zM1374 234h6v6h-6zM1506 234h42v6h-42zM1662 234h6v6h-6zM1806 234h12v6h-12zM1374 240h6v6h-6zM1512 240h36v6h-36zM1668 240h12v6h-12zM1800 240h18v6h-18zM1380 246h6v6h-6zM1518 246h30v6h-30zM1680 246h6v6h-6zM1800 246h12v6h-12zM1380 252h6v6h-6zM1524 252h24v6h-24zM1794 252h6v6h-6zM1386 258h6v6h-6zM1530 258h18v6h-18zM1398 264h6v6h-6zM1542 264h12v6h-12zM1782 264h6v6h-6zM1410 270h6v6h-6zM1554 270h6v6h-6zM1428 276h6v6h-6zM1710 282h6v6h-6zM1764 282h6v6h-6zM1716 288h6v6h-6zM1746 288h6v6h-6zM1728 294h6v6h-6zM1506 306h6v6h-6zM1554 306h6v6h-6zM1638 354h30v6h-30zM1626 360h12v6h-12zM1668 360h12v6h-12zM1608 366h12v6h-12zM1680 366h12v6h-12zM1602 372h6v6h-6zM1686 372h18v6h-18zM1602 378h6v6h-6zM1698 378h12v6h-12zM1602 384h6v6h-6zM1704 384h12v6h-12zM1608 390h6v6h-6zM1710 390h6v6h-6zM1614 396h12v6h-12zM1662 396h18v6h-18zM1716 396h6v6h-6zM1872 396h12v6h-12zM1626 402h66v6h-66zM1878 402h18v6h-18zM1680 408h12v6h-12zM1884 408h18v6h-18zM1680 414h12v6h-12zM1338 420h6v6h-6zM1386 420h6v6h-6zM1680 420h6v6h-6zM1734 420h6v6h-6zM1308 426h6v6h-6zM1398 426h6v6h-6zM1680 426h6v6h-6zM1410 432h6v6h-6zM1680 432h6v6h-6zM1290 438h6v6h-6zM1680 438h6v6h-6zM1284 444h6v6h-6zM1680 444h6v6h-6zM1284 450h6v6h-6zM1680 450h6v6h-6zM1680 456h6v6h-6zM1716 456h6v6h-6zM1320 462h6v6h-6zM1680 462h6v6h-6zM1704 462h6v6h-6zM1812 462h42v6h-42zM1686 468h6v6h-6zM1800 468h6v6h-6zM1866 468h6v6h-6zM1800 474h6v6h-6zM1650 480h24v6h-24zM1800 480h6v6h-6zM1638 486h36v6h-36zM1866 486h6v6h-6zM1632 492h12v6h-12zM1668 492h12v6h-12zM1626 498h12v6h-12zM1674 498h6v6h-6zM1860 498h6v6h-6zM1620 504h18v6h-18zM1674 504h6v6h-6zM1806 504h6v6h-6zM1620 510h18v6h-18zM1674 510h6v6h-6zM1848 510h6v6h-6zM1626 516h12v6h-12zM1674 516h6v6h-6zM1812 516h6v6h-6zM1824 516h6v6h-6zM1632 522h12v6h-12zM1668 522h12v6h-12zM1638 528h6v6h-6zM1668 528h12v6h-12zM1644 534h6v6h-6zM1668 534h12v6h-12zM1644 540h12v6h-12zM1674 540h12v6h-12zM1770 540h6v6h-6zM1794 540h6v6h-6zM1650 546h6v6h-6zM1680 546h6v6h-6zM1758 546h6v6h-6zM1650 552h6v6h-6zM1686 552h6v6h-6zM1656 558h6v6h-6zM1686 558h6v6h-6zM1656 564h6v6h-6zM1686 564h6v6h-6zM1752 564h6v6h-6zM1752 570h6v6h-6zM1662 576h6v6h-6zM1692 576h6v6h-6zM1752 576h6v6h-6zM1662 582h6v6h-6zM1752 582h6v6h-6zM1662 588h6v6h-6zM1752 588h6v6h-6zM1662 594h6v6h-6zM1752 594h6v6h-6zM1710 600h6v6h-6zM1758 600h6v6h-6zM1788 600h6v6h-6zM1476 612h12v6h-12zM1494 624h6v6h-6zM1710 624h6v6h-6zM1464 630h6v6h-6zM1494 630h6v6h-6zM1662 630h6v6h-6zM1464 636h6v6h-6zM1494 636h6v6h-6zM1662 636h6v6h-6zM1662 642h6v6h-6zM1698 642h6v6h-6zM1482 648h6v6h-6zM1650 648h18v6h-18zM1692 648h6v6h-6zM1638 654h24v6h-24zM1686 654h6v6h-6zM1638 660h6v6h-6zM1674 660h12v6h-12zM1632 666h12v6h-12zM1674 666h6v6h-6zM1638 672h12v6h-12zM1668 672h12v6h-12zM1548 678h30v6h-30zM1656 678h12v6h-12zM1542 684h30v6h-30zM1716 684h6v6h-6zM1542 690h24v6h-24zM1680 690h6v6h-6zM1752 690h30v6h-30zM1800 690h6v6h-6zM1512 696h12v6h-12zM1566 696h6v6h-6zM1680 696h6v6h-6zM1488 702h6v6h-6zM1572 702h6v6h-6zM1446 708h6v6h-6zM1578 708h6v6h-6zM1806 708h6v6h-6zM1434 714h6v6h-6zM1308 720h6v6h-6zM1362 720h42v6h-42zM1416 720h18v6h-18zM1812 720h6v6h-6zM1380 726h48v6h-48zM1590 726h6v6h-6zM1806 726h6v6h-6zM1794 732h6v6h-6zM1680 738h6v6h-6zM1782 738h6v6h-6zM1878 744h6v6h-6zM1914 744h6v6h-6zM1626 750h6v6h-6zM1860 750h6v6h-6zM1776 756h6v6h-6zM1842 756h6v6h-6zM1794 762h6v6h-6zM1812 762h12v6h-12z"/><path fill="#f86800" d="M1380 228h12v6h-12zM1482 228h12v6h-12zM1662 228h12v6h-12zM1782 228h24v6h-24zM1380 234h12v6h-12zM1488 234h18v6h-18zM1668 234h12v6h-12zM1782 234h24v6h-24zM1380 240h12v6h-12zM1494 240h18v6h-18zM1680 240h6v6h-6zM1782 240h18v6h-18zM1386 246h6v6h-6zM1506 246h12v6h-12zM1686 246h6v6h-6zM1788 246h12v6h-12zM1386 252h6v6h-6zM1512 252h12v6h-12zM1692 252h6v6h-6zM1788 252h6v6h-6zM1392 258h6v6h-6zM1518 258h12v6h-12zM1698 258h6v6h-6zM1404 264h6v6h-6zM1530 264h12v6h-12zM1416 270h12v6h-12zM1548 270h6v6h-6zM1704 270h6v6h-6zM1776 270h6v6h-6zM1434 276h6v6h-6zM1560 276h6v6h-6zM1770 276h6v6h-6zM1440 282h6v6h-6zM1566 282h6v6h-6zM1758 282h6v6h-6zM1740 288h6v6h-6zM1458 300h6v6h-6zM1566 300h6v6h-6zM1512 306h12v6h-12zM1542 306h12v6h-12zM1638 360h30v6h-30zM1620 366h60v6h-60zM1608 372h78v6h-78zM1608 378h90v6h-90zM1608 384h96v6h-96zM1614 390h96v6h-96zM1626 396h36v6h-36zM1680 396h36v6h-36zM1692 402h30v6h-30zM1692 408h36v6h-36zM1692 414h12v6h-12zM1728 414h6v6h-6zM1344 420h12v6h-12zM1374 420h12v6h-12zM1686 420h12v6h-12zM1314 426h6v6h-6zM1392 426h6v6h-6zM1686 426h12v6h-12zM1302 432h6v6h-6zM1398 432h12v6h-12zM1686 432h6v6h-6zM1740 432h6v6h-6zM1410 438h6v6h-6zM1686 438h6v6h-6zM1734 438h6v6h-6zM1410 444h6v6h-6zM1686 444h6v6h-6zM1728 444h6v6h-6zM1686 450h6v6h-6zM1722 450h6v6h-6zM1296 456h6v6h-6zM1686 456h30v6h-30zM1326 462h6v6h-6zM1392 462h6v6h-6zM1686 462h18v6h-18zM1344 468h6v6h-6zM1380 468h6v6h-6zM1806 468h18v6h-18zM1842 468h24v6h-24zM1806 474h6v6h-6zM1866 474h6v6h-6zM1806 480h6v6h-6zM1866 480h6v6h-6zM1806 486h6v6h-6zM1860 486h6v6h-6zM1644 492h24v6h-24zM1806 492h6v6h-6zM1860 492h6v6h-6zM1638 498h36v6h-36zM1806 498h6v6h-6zM1638 504h36v6h-36zM1854 504h6v6h-6zM1638 510h36v6h-36zM1812 510h6v6h-6zM1842 510h6v6h-6zM1638 516h36v6h-36zM1818 516h6v6h-6zM1644 522h24v6h-24zM1644 528h24v6h-24zM1650 534h18v6h-18zM1656 540h18v6h-18zM1776 540h18v6h-18zM1656 546h24v6h-24zM1764 546h6v6h-6zM1656 552h30v6h-30zM1758 552h6v6h-6zM1800 552h6v6h-6zM1662 558h24v6h-24zM1758 558h6v6h-6zM1800 558h6v6h-6zM1662 564h24v6h-24zM1800 564h6v6h-6zM1662 570h30v6h-30zM1668 576h6v6h-6zM1686 576h6v6h-6zM1794 576h6v6h-6zM1668 582h6v6h-6zM1692 582h6v6h-6zM1794 582h6v6h-6zM1698 588h6v6h-6zM1788 588h6v6h-6zM1704 594h6v6h-6zM1758 594h6v6h-6zM1788 594h6v6h-6zM1662 600h6v6h-6zM1764 600h24v6h-24zM1662 606h6v6h-6zM1662 612h6v6h-6zM1470 618h24v6h-24zM1662 618h6v6h-6zM1470 624h6v6h-6zM1488 624h6v6h-6zM1662 624h6v6h-6zM1704 630h6v6h-6zM1470 636h6v6h-6zM1470 642h6v6h-6zM1488 642h6v6h-6zM1668 642h6v6h-6zM1668 648h12v6h-12zM1686 648h6v6h-6zM1662 654h24v6h-24zM1644 660h30v6h-30zM1644 666h30v6h-30zM1650 672h18v6h-18zM1686 684h6v6h-6zM1710 684h6v6h-6zM1740 690h12v6h-12zM1782 690h18v6h-18zM1524 696h42v6h-42zM1800 696h6v6h-6zM1494 702h6v6h-6zM1566 702h6v6h-6zM1800 702h6v6h-6zM1452 708h12v6h-12zM1572 708h6v6h-6zM1440 714h12v6h-12zM1578 714h6v6h-6zM1806 714h6v6h-6zM1314 720h12v6h-12zM1350 720h12v6h-12zM1434 720h12v6h-12zM1584 720h6v6h-6zM1806 720h6v6h-6zM1242 726h6v6h-6zM1278 726h12v6h-12zM1362 726h18v6h-18zM1428 726h18v6h-18zM1584 726h6v6h-6zM1794 726h12v6h-12zM1368 732h72v6h-72zM1590 732h6v6h-6zM1782 732h12v6h-12zM1374 738h66v6h-66zM1596 738h6v6h-6zM1776 738h6v6h-6zM1380 744h60v6h-60zM1602 744h6v6h-6zM1680 744h6v6h-6zM1770 744h6v6h-6zM1884 744h30v6h-30zM1386 750h48v6h-48zM1620 750h6v6h-6zM1668 750h6v6h-6zM1770 750h6v6h-6zM1866 750h6v6h-6zM1386 756h24v6h-24zM1848 756h6v6h-6zM1788 762h6v6h-6zM1824 762h6v6h-6z"/><path fill="#ff7000" d="M1392 228h6v6h-6zM1476 228h6v6h-6zM1680 228h12v6h-12zM1392 234h6v6h-6zM1482 234h6v6h-6zM1686 234h6v6h-6zM1776 234h6v6h-6zM1392 240h6v6h-6zM1488 240h6v6h-6zM1692 240h6v6h-6zM1776 240h6v6h-6zM1392 246h6v6h-6zM1398 252h6v6h-6zM1506 252h6v6h-6zM1698 252h6v6h-6zM1782 252h6v6h-6zM1404 258h6v6h-6zM1512 258h6v6h-6zM1518 264h6v6h-6zM1704 264h6v6h-6zM1428 270h6v6h-6zM1536 270h6v6h-6zM1554 276h6v6h-6zM1710 276h6v6h-6zM1446 288h6v6h-6zM1566 288h6v6h-6zM1722 288h6v6h-6zM1734 288h6v6h-6zM1452 294h6v6h-6zM1566 294h6v6h-6zM1710 414h18v6h-18zM1356 420h12v6h-12zM1704 420h12v6h-12zM1728 420h6v6h-6zM1326 426h6v6h-6zM1380 426h6v6h-6zM1698 426h12v6h-12zM1734 426h6v6h-6zM1308 432h6v6h-6zM1392 432h6v6h-6zM1698 432h6v6h-6zM1734 432h6v6h-6zM1698 438h6v6h-6zM1728 438h6v6h-6zM1404 444h6v6h-6zM1698 444h12v6h-12zM1716 444h12v6h-12zM1404 450h6v6h-6zM1698 450h18v6h-18zM1308 456h6v6h-6zM1398 456h6v6h-6zM1332 462h6v6h-6zM1350 468h6v6h-6zM1374 468h6v6h-6zM1812 474h48v6h-48zM1812 480h6v6h-6zM1854 480h6v6h-6zM1812 486h6v6h-6zM1854 486h6v6h-6zM1812 492h6v6h-6zM1854 492h6v6h-6zM1812 498h6v6h-6zM1848 498h6v6h-6zM1818 504h6v6h-6zM1848 504h6v6h-6zM1818 510h18v6h-18zM1776 546h18v6h-18zM1764 552h6v6h-6zM1794 552h6v6h-6zM1764 558h6v6h-6zM1764 564h6v6h-6zM1794 570h6v6h-6zM1674 582h18v6h-18zM1788 582h6v6h-6zM1692 588h6v6h-6zM1764 588h6v6h-6zM1782 588h6v6h-6zM1668 594h6v6h-6zM1698 594h6v6h-6zM1764 594h18v6h-18zM1668 600h6v6h-6zM1704 600h6v6h-6zM1710 612h6v6h-6zM1476 624h12v6h-12zM1668 624h6v6h-6zM1704 624h6v6h-6zM1476 630h12v6h-12zM1668 630h6v6h-6zM1476 636h12v6h-12zM1674 642h6v6h-6zM1686 642h6v6h-6zM1692 684h12v6h-12zM1686 690h6v6h-6zM1728 690h6v6h-6zM1686 696h6v6h-6zM1782 696h18v6h-18zM1500 702h66v6h-66zM1686 702h6v6h-6zM1794 702h6v6h-6zM1464 708h12v6h-12zM1560 708h12v6h-12zM1686 708h6v6h-6zM1794 708h6v6h-6zM1452 714h6v6h-6zM1566 714h12v6h-12zM1686 714h6v6h-6zM1800 714h6v6h-6zM1326 720h18v6h-18zM1446 720h6v6h-6zM1572 720h12v6h-12zM1686 720h6v6h-6zM1794 720h12v6h-12zM1356 726h6v6h-6zM1446 726h6v6h-6zM1578 726h6v6h-6zM1686 726h6v6h-6zM1782 726h12v6h-12zM1362 732h6v6h-6zM1446 732h6v6h-6zM1584 732h6v6h-6zM1686 732h6v6h-6zM1776 732h6v6h-6zM1368 738h6v6h-6zM1446 738h6v6h-6zM1590 738h6v6h-6zM1764 738h6v6h-6zM1368 744h6v6h-6zM1446 744h6v6h-6zM1596 744h6v6h-6zM1764 744h6v6h-6zM1368 750h12v6h-12zM1440 750h6v6h-6zM1608 750h12v6h-12zM1674 750h6v6h-6zM1764 750h6v6h-6zM1872 750h6v6h-6zM1368 756h12v6h-12zM1422 756h12v6h-12zM1770 756h6v6h-6zM1374 762h12v6h-12zM1392 762h18v6h-18zM1782 762h6v6h-6zM1836 762h6v6h-6zM1482 828h18v6h-18z"/><path fill="#ff7800" d="M1398 228h6v6h-6zM1692 228h12v6h-12zM1770 228h6v6h-6zM1398 234h6v6h-6zM1476 234h6v6h-6zM1692 234h12v6h-12zM1770 234h6v6h-6zM1398 240h6v6h-6zM1482 240h6v6h-6zM1698 240h6v6h-6zM1770 240h6v6h-6zM1398 246h6v6h-6zM1494 246h6v6h-6zM1698 246h6v6h-6zM1776 246h6v6h-6zM1404 252h6v6h-6zM1500 252h6v6h-6zM1704 252h6v6h-6zM1410 258h6v6h-6zM1506 258h6v6h-6zM1704 258h6v6h-6zM1416 264h12v6h-12zM1512 264h6v6h-6zM1776 264h6v6h-6zM1434 270h6v6h-6zM1524 270h12v6h-12zM1440 276h6v6h-6zM1548 276h6v6h-6zM1764 276h6v6h-6zM1560 282h6v6h-6zM1716 282h6v6h-6zM1752 282h6v6h-6zM1728 288h6v6h-6zM1464 300h6v6h-6zM1560 300h6v6h-6zM1716 420h12v6h-12zM1332 426h6v6h-6zM1374 426h6v6h-6zM1710 426h24v6h-24zM1314 432h6v6h-6zM1386 432h6v6h-6zM1704 432h30v6h-30zM1302 438h6v6h-6zM1398 438h6v6h-6zM1704 438h24v6h-24zM1296 444h6v6h-6zM1710 444h6v6h-6zM1296 450h12v6h-12zM1314 456h12v6h-12zM1386 462h6v6h-6zM1356 468h18v6h-18zM1818 480h36v6h-36zM1818 486h36v6h-36zM1818 492h36v6h-36zM1818 498h30v6h-30zM1824 504h24v6h-24zM1770 552h24v6h-24zM1770 558h30v6h-30zM1770 564h30v6h-30zM1764 570h30v6h-30zM1764 576h30v6h-30zM1764 582h24v6h-24zM1674 588h18v6h-18zM1770 588h12v6h-12zM1674 594h12v6h-12zM1692 594h6v6h-6zM1674 600h6v6h-6zM1698 600h6v6h-6zM1668 606h6v6h-6zM1704 606h6v6h-6zM1668 612h6v6h-6zM1704 612h6v6h-6zM1668 618h6v6h-6zM1704 618h6v6h-6zM1674 624h6v6h-6zM1698 624h6v6h-6zM1674 630h6v6h-6zM1692 630h12v6h-12zM1674 636h24v6h-24zM1680 642h6v6h-6zM1692 690h6v6h-6zM1722 690h6v6h-6zM1740 696h42v6h-42zM1752 702h42v6h-42zM1476 708h84v6h-84zM1752 708h42v6h-42zM1458 714h12v6h-12zM1512 714h54v6h-54zM1758 714h42v6h-42zM1452 720h12v6h-12zM1518 720h54v6h-54zM1758 720h36v6h-36zM1248 726h24v6h-24zM1296 726h12v6h-12zM1350 726h6v6h-6zM1452 726h12v6h-12zM1530 726h48v6h-48zM1758 726h24v6h-24zM1236 732h6v6h-6zM1356 732h6v6h-6zM1452 732h12v6h-12zM1542 732h42v6h-42zM1752 732h24v6h-24zM1362 738h6v6h-6zM1452 738h6v6h-6zM1554 738h36v6h-36zM1686 738h6v6h-6zM1752 738h12v6h-12zM1362 744h6v6h-6zM1452 744h6v6h-6zM1566 744h30v6h-30zM1686 744h6v6h-6zM1758 744h6v6h-6zM1362 750h6v6h-6zM1446 750h12v6h-12zM1578 750h30v6h-30zM1758 750h6v6h-6zM1878 750h6v6h-6zM1362 756h6v6h-6zM1434 756h12v6h-12zM1860 756h6v6h-6zM1362 762h12v6h-12zM1410 762h12v6h-12zM1776 762h6v6h-6zM1842 762h6v6h-6zM1380 768h12v6h-12zM1800 768h18v6h-18zM1500 822h24v6h-24zM1476 828h6v6h-6zM1500 828h36v6h-36z"/><path fill="#ff8000" d="M1404 228h12v6h-12zM1470 228h6v6h-6zM1704 228h18v6h-18zM1764 228h6v6h-6zM1404 234h6v6h-6zM1470 234h6v6h-6zM1704 234h12v6h-12zM1764 234h6v6h-6zM1404 240h6v6h-6zM1476 240h6v6h-6zM1704 240h12v6h-12zM1764 240h6v6h-6zM1404 246h12v6h-12zM1488 246h6v6h-6zM1704 246h12v6h-12zM1770 246h6v6h-6zM1410 252h6v6h-6zM1494 252h6v6h-6zM1776 252h6v6h-6zM1416 258h12v6h-12zM1776 258h6v6h-6zM1428 264h12v6h-12zM1710 264h6v6h-6zM1440 270h6v6h-6zM1518 270h6v6h-6zM1710 270h6v6h-6zM1770 270h6v6h-6zM1536 276h12v6h-12zM1446 282h6v6h-6zM1554 282h6v6h-6zM1740 282h12v6h-12zM1560 288h6v6h-6zM1560 294h6v6h-6zM1554 300h6v6h-6zM1338 426h12v6h-12zM1368 426h6v6h-6zM1320 432h12v6h-12zM1380 432h6v6h-6zM1308 438h12v6h-12zM1392 438h6v6h-6zM1302 444h12v6h-12zM1398 444h6v6h-6zM1308 450h12v6h-12zM1398 450h6v6h-6zM1326 456h6v6h-6zM1392 456h6v6h-6zM1338 462h6v6h-6zM1380 462h6v6h-6zM1686 594h6v6h-6zM1680 600h18v6h-18zM1674 606h30v6h-30zM1674 612h30v6h-30zM1674 618h30v6h-30zM1680 624h18v6h-18zM1680 630h12v6h-12zM1698 690h24v6h-24zM1692 696h6v6h-6zM1722 696h18v6h-18zM1692 702h6v6h-6zM1728 702h24v6h-24zM1692 708h6v6h-6zM1734 708h18v6h-18zM1470 714h42v6h-42zM1692 714h6v6h-6zM1734 714h24v6h-24zM1464 720h54v6h-54zM1692 720h6v6h-6zM1734 720h24v6h-24zM1308 726h6v6h-6zM1344 726h6v6h-6zM1464 726h24v6h-24zM1512 726h18v6h-18zM1692 726h6v6h-6zM1734 726h24v6h-24zM1242 732h6v6h-6zM1272 732h18v6h-18zM1350 732h6v6h-6zM1464 732h12v6h-12zM1530 732h12v6h-12zM1692 732h6v6h-6zM1734 732h18v6h-18zM1356 738h6v6h-6zM1458 738h18v6h-18zM1542 738h12v6h-12zM1692 738h6v6h-6zM1734 738h18v6h-18zM1356 744h6v6h-6zM1458 744h12v6h-12zM1548 744h18v6h-18zM1692 744h6v6h-6zM1740 744h18v6h-18zM1356 750h6v6h-6zM1458 750h6v6h-6zM1554 750h24v6h-24zM1680 750h6v6h-6zM1752 750h6v6h-6zM1884 750h6v6h-6zM1356 756h6v6h-6zM1446 756h6v6h-6zM1560 756h42v6h-42zM1764 756h6v6h-6zM1866 756h12v6h-12zM1422 762h6v6h-6zM1560 762h36v6h-36zM1848 762h6v6h-6zM1368 768h12v6h-12zM1392 768h12v6h-12zM1560 768h30v6h-30zM1788 768h12v6h-12zM1818 768h12v6h-12zM1554 774h36v6h-36zM1548 780h42v6h-42zM1542 786h48v6h-48zM1536 792h54v6h-54zM1530 798h60v6h-60zM1518 804h72v6h-72zM1512 810h72v6h-72zM1500 816h84v6h-84zM1488 822h12v6h-12zM1524 822h60v6h-60zM1536 828h48v6h-48z"/><path fill="#ff8800" d="M1416 228h6v6h-6zM1464 228h6v6h-6zM1722 228h12v6h-12zM1758 228h6v6h-6zM1410 234h12v6h-12zM1716 234h12v6h-12zM1758 234h6v6h-6zM1410 240h12v6h-12zM1716 240h6v6h-6zM1416 246h6v6h-6zM1482 246h6v6h-6zM1716 246h6v6h-6zM1764 246h6v6h-6zM1416 252h12v6h-12zM1710 252h6v6h-6zM1770 252h6v6h-6zM1428 258h12v6h-12zM1500 258h6v6h-6zM1710 258h6v6h-6zM1440 264h6v6h-6zM1506 264h6v6h-6zM1512 270h6v6h-6zM1446 276h6v6h-6zM1524 276h12v6h-12zM1716 276h6v6h-6zM1758 276h6v6h-6zM1548 282h6v6h-6zM1722 282h18v6h-18zM1452 288h6v6h-6zM1554 288h6v6h-6zM1458 294h6v6h-6zM1554 294h6v6h-6zM1470 300h12v6h-12zM1542 300h12v6h-12zM1350 426h18v6h-18zM1332 432h6v6h-6zM1374 432h6v6h-6zM1320 438h12v6h-12zM1386 438h6v6h-6zM1314 444h12v6h-12zM1392 444h6v6h-6zM1320 450h6v6h-6zM1392 450h6v6h-6zM1332 456h6v6h-6zM1386 456h6v6h-6zM1344 462h12v6h-12zM1374 462h6v6h-6zM1698 696h24v6h-24zM1698 702h30v6h-30zM1698 708h36v6h-36zM1698 714h36v6h-36zM1698 720h36v6h-36zM1314 726h30v6h-30zM1488 726h24v6h-24zM1698 726h36v6h-36zM1248 732h24v6h-24zM1290 732h12v6h-12zM1344 732h6v6h-6zM1476 732h18v6h-18zM1524 732h6v6h-6zM1698 732h36v6h-36zM1236 738h12v6h-12zM1350 738h6v6h-6zM1476 738h6v6h-6zM1536 738h6v6h-6zM1698 738h36v6h-36zM1350 744h6v6h-6zM1470 744h6v6h-6zM1698 744h6v6h-6zM1722 744h18v6h-18zM1464 750h6v6h-6zM1686 750h6v6h-6zM1740 750h12v6h-12zM1890 750h12v6h-12zM1914 750h6v6h-6zM1452 756h6v6h-6zM1554 756h6v6h-6zM1602 756h6v6h-6zM1758 756h6v6h-6zM1878 756h6v6h-6zM1356 762h6v6h-6zM1428 762h6v6h-6zM1554 762h6v6h-6zM1596 762h6v6h-6zM1770 762h6v6h-6zM1854 762h12v6h-12zM1362 768h6v6h-6zM1404 768h12v6h-12zM1554 768h6v6h-6zM1590 768h6v6h-6zM1782 768h6v6h-6zM1830 768h12v6h-12zM1548 774h6v6h-6zM1590 774h6v6h-6zM1542 780h6v6h-6zM1590 780h6v6h-6zM1536 786h6v6h-6zM1590 786h6v6h-6zM1530 792h6v6h-6zM1590 792h6v6h-6zM1524 798h6v6h-6zM1590 798h6v6h-6zM1512 804h6v6h-6zM1590 804h6v6h-6zM1506 810h6v6h-6zM1584 810h12v6h-12zM1494 816h6v6h-6zM1584 816h12v6h-12zM1584 822h12v6h-12zM1470 828h6v6h-6zM1584 828h12v6h-12z"/><path fill="#ff8808" d="M1422 228h6v6h-6zM1752 228h6v6h-6zM1464 234h6v6h-6zM1470 240h6v6h-6zM1428 252h6v6h-6zM1770 264h6v6h-6zM1542 282h6v6h-6zM1380 438h6v6h-6zM1326 450h6v6h-6zM1368 462h6v6h-6zM1494 732h6v6h-6zM1278 738h6v6h-6zM1542 744h6v6h-6zM1704 744h6v6h-6zM1716 744h6v6h-6zM1908 750h6v6h-6zM1650 756h6v6h-6zM1434 762h6v6h-6zM1596 768h6v6h-6zM1500 810h6v6h-6zM1482 822h6v6h-6z"/><path fill="#ff9010" d="M1428 228h12v6h-12zM1740 228h12v6h-12zM1428 234h6v6h-6zM1458 234h6v6h-6zM1752 234h6v6h-6zM1428 240h6v6h-6zM1464 240h6v6h-6zM1428 246h6v6h-6zM1476 246h6v6h-6zM1434 252h6v6h-6zM1716 252h6v6h-6zM1770 258h6v6h-6zM1446 264h6v6h-6zM1446 270h6v6h-6zM1536 282h6v6h-6zM1548 288h6v6h-6zM1332 438h6v6h-6zM1338 456h6v6h-6zM1302 732h6v6h-6zM1500 732h18v6h-18zM1254 738h12v6h-12zM1344 738h6v6h-6zM1242 744h6v6h-6zM1476 744h6v6h-6zM1236 750h6v6h-6zM1698 750h6v6h-6zM1722 750h12v6h-12zM1638 756h6v6h-6zM1662 756h6v6h-6zM1884 756h6v6h-6zM1350 762h6v6h-6zM1602 762h6v6h-6zM1866 762h6v6h-6zM1356 768h6v6h-6zM1548 768h6v6h-6zM1596 792h6v6h-6zM1596 798h6v6h-6zM1506 804h6v6h-6zM1596 804h6v6h-6z"/><path fill="#ff9018" d="M1440 228h18v6h-18zM1434 234h12v6h-12zM1452 234h6v6h-6zM1734 234h18v6h-18zM1434 240h6v6h-6zM1458 240h6v6h-6zM1728 240h6v6h-6zM1752 240h6v6h-6zM1434 246h12v6h-12zM1722 246h6v6h-6zM1440 252h12v6h-12zM1446 258h6v6h-6zM1494 258h6v6h-6zM1716 258h6v6h-6zM1500 264h6v6h-6zM1716 264h6v6h-6zM1506 270h6v6h-6zM1722 276h6v6h-6zM1746 276h6v6h-6zM1524 282h12v6h-12zM1542 288h6v6h-6zM1548 294h6v6h-6zM1344 432h6v6h-6zM1362 432h6v6h-6zM1374 438h6v6h-6zM1332 444h6v6h-6zM1332 450h6v6h-6zM1386 450h6v6h-6zM1380 456h6v6h-6zM1338 732h6v6h-6zM1290 738h6v6h-6zM1488 738h6v6h-6zM1530 738h6v6h-6zM1248 744h42v6h-42zM1344 744h6v6h-6zM1242 750h42v6h-42zM1470 750h6v6h-6zM1704 750h18v6h-18zM1236 756h6v6h-6zM1614 756h6v6h-6zM1632 756h6v6h-6zM1668 756h6v6h-6zM1752 756h6v6h-6zM1440 762h6v6h-6zM1764 762h6v6h-6zM1872 762h6v6h-6zM1416 768h6v6h-6zM1776 768h6v6h-6zM1848 768h6v6h-6zM1800 774h24v6h-24zM1524 792h6v6h-6zM1596 810h6v6h-6zM1596 816h6v6h-6zM1596 822h6v6h-6zM1596 828h6v6h-6z"/><path fill="#ff9008" d="M1458 228h6v6h-6zM1734 228h6v6h-6zM1422 234h6v6h-6zM1728 234h6v6h-6zM1422 240h6v6h-6zM1722 240h6v6h-6zM1758 240h6v6h-6zM1422 246h6v6h-6zM1488 252h6v6h-6zM1440 258h6v6h-6zM1716 270h6v6h-6zM1764 270h6v6h-6zM1518 276h6v6h-6zM1752 276h6v6h-6zM1482 300h60v6h-60zM1338 432h6v6h-6zM1368 432h6v6h-6zM1326 444h6v6h-6zM1386 444h6v6h-6zM1356 462h12v6h-12zM1518 732h6v6h-6zM1248 738h6v6h-6zM1266 738h12v6h-12zM1284 738h6v6h-6zM1482 738h6v6h-6zM1236 744h6v6h-6zM1710 744h6v6h-6zM1350 750h6v6h-6zM1548 750h6v6h-6zM1692 750h6v6h-6zM1734 750h6v6h-6zM1902 750h6v6h-6zM1350 756h6v6h-6zM1458 756h6v6h-6zM1608 756h6v6h-6zM1644 756h6v6h-6zM1656 756h6v6h-6zM1842 768h6v6h-6zM1596 774h6v6h-6zM1596 780h6v6h-6zM1596 786h6v6h-6zM1518 798h6v6h-6z"/><path fill="#f06000" d="M1548 228h6v6h-6zM1650 228h6v6h-6zM1818 228h6v6h-6zM1548 234h6v6h-6zM1656 234h6v6h-6zM1818 234h6v6h-6zM1548 240h6v6h-6zM1818 240h6v6h-6zM1374 246h6v6h-6zM1548 246h6v6h-6zM1812 246h6v6h-6zM1374 252h6v6h-6zM1548 252h6v6h-6zM1686 252h6v6h-6zM1380 258h6v6h-6zM1548 258h6v6h-6zM1692 258h6v6h-6zM1788 258h6v6h-6zM1914 258h6v6h-6zM1392 264h6v6h-6zM1554 264h6v6h-6zM1698 264h6v6h-6zM1908 264h12v6h-12zM1404 270h6v6h-6zM1908 270h12v6h-12zM1752 288h6v6h-6zM1572 294h6v6h-6zM1722 294h6v6h-6zM1734 294h6v6h-6zM1500 306h6v6h-6zM1794 324h12v6h-12zM1794 330h18v6h-18zM1794 336h12v6h-12zM1632 354h6v6h-6zM1668 354h6v6h-6zM1614 360h12v6h-12zM1680 360h6v6h-6zM1602 366h6v6h-6zM1692 366h6v6h-6zM1596 372h6v6h-6zM1704 372h6v6h-6zM1596 378h6v6h-6zM1710 378h6v6h-6zM1596 384h6v6h-6zM1860 384h18v6h-18zM1602 390h6v6h-6zM1716 390h6v6h-6zM1860 390h30v6h-30zM1866 396h6v6h-6zM1884 396h12v6h-12zM1620 402h6v6h-6zM1722 402h6v6h-6zM1866 402h12v6h-12zM1896 402h12v6h-12zM1632 408h48v6h-48zM1872 408h12v6h-12zM1902 408h18v6h-18zM1674 414h6v6h-6zM1884 414h36v6h-36zM1332 420h6v6h-6zM1392 420h6v6h-6zM1674 420h6v6h-6zM1896 420h24v6h-24zM1404 426h6v6h-6zM1674 426h6v6h-6zM1296 432h6v6h-6zM1674 432h6v6h-6zM1674 438h6v6h-6zM1740 438h6v6h-6zM1674 444h6v6h-6zM1734 444h6v6h-6zM1410 450h6v6h-6zM1674 450h6v6h-6zM1290 456h6v6h-6zM1674 456h6v6h-6zM1674 462h6v6h-6zM1806 462h6v6h-6zM1854 462h12v6h-12zM1338 468h6v6h-6zM1674 468h12v6h-12zM1692 468h6v6h-6zM1872 468h6v6h-6zM1356 474h18v6h-18zM1650 474h36v6h-36zM1872 474h6v6h-6zM1638 480h12v6h-12zM1674 480h6v6h-6zM1632 486h6v6h-6zM1674 486h6v6h-6zM1800 486h6v6h-6zM1626 492h6v6h-6zM1620 498h6v6h-6zM1614 504h6v6h-6zM1680 504h6v6h-6zM1614 510h6v6h-6zM1680 510h6v6h-6zM1806 510h6v6h-6zM1614 516h12v6h-12zM1680 516h6v6h-6zM1830 516h6v6h-6zM1620 522h12v6h-12zM1680 522h6v6h-6zM1632 528h6v6h-6zM1680 528h6v6h-6zM1638 534h6v6h-6zM1680 534h6v6h-6zM1638 540h6v6h-6zM1686 540h6v6h-6zM1764 540h6v6h-6zM1644 546h6v6h-6zM1686 546h6v6h-6zM1800 546h6v6h-6zM1650 558h6v6h-6zM1752 558h6v6h-6zM1656 570h6v6h-6zM1800 570h6v6h-6zM1794 588h6v6h-6zM1770 606h24v6h-24zM1470 612h6v6h-6zM1488 612h6v6h-6zM1716 612h6v6h-6zM1464 624h6v6h-6zM1464 642h6v6h-6zM1494 642h6v6h-6zM1656 642h6v6h-6zM1476 648h6v6h-6zM1488 648h6v6h-6zM1644 648h6v6h-6zM1632 654h6v6h-6zM1632 660h6v6h-6zM1548 672h30v6h-30zM1632 672h6v6h-6zM1536 678h12v6h-12zM1578 678h6v6h-6zM1644 678h12v6h-12zM1668 678h12v6h-12zM1536 684h6v6h-6zM1572 684h6v6h-6zM1680 684h6v6h-6zM1536 690h6v6h-6zM1566 690h6v6h-6zM1680 702h6v6h-6zM1806 702h6v6h-6zM1440 708h6v6h-6zM1680 708h6v6h-6zM1380 714h54v6h-54zM1584 714h6v6h-6zM1680 714h6v6h-6zM1302 720h6v6h-6zM1404 720h12v6h-12zM1680 720h6v6h-6zM1680 726h6v6h-6zM1812 726h6v6h-6zM1680 732h6v6h-6zM1776 744h6v6h-6zM1872 744h6v6h-6zM1632 750h6v6h-6zM1662 750h6v6h-6zM1800 762h12v6h-12z"/><path fill="#e84800" d="M1572 228h6v6h-6zM1908 228h6v6h-6zM1638 234h6v6h-6zM1908 234h6v6h-6zM1644 240h6v6h-6zM1902 240h6v6h-6zM1566 246h6v6h-6zM1650 246h6v6h-6zM1830 246h6v6h-6zM1890 246h12v6h-12zM1350 252h6v6h-6zM1566 252h6v6h-6zM1662 252h6v6h-6zM1824 252h6v6h-6zM1884 252h6v6h-6zM1350 258h6v6h-6zM1674 258h6v6h-6zM1806 258h6v6h-6zM1878 258h6v6h-6zM1344 264h6v6h-6zM1686 264h6v6h-6zM1866 264h6v6h-6zM1272 270h12v6h-12zM1332 270h6v6h-6zM1692 270h6v6h-6zM1866 270h6v6h-6zM1272 276h6v6h-6zM1572 276h6v6h-6zM1698 276h6v6h-6zM1782 276h6v6h-6zM1866 276h6v6h-6zM1278 282h12v6h-12zM1368 282h54v6h-54zM1776 282h6v6h-6zM1878 282h6v6h-6zM1296 288h12v6h-12zM1344 288h24v6h-24zM1434 288h6v6h-6zM1770 288h6v6h-6zM1896 288h24v6h-24zM1578 294h6v6h-6zM1710 294h6v6h-6zM1758 294h12v6h-12zM1578 300h6v6h-6zM1716 300h6v6h-6zM1740 300h12v6h-12zM1572 306h6v6h-6zM1722 306h18v6h-18zM1788 306h24v6h-24zM1638 312h30v6h-30zM1782 312h6v6h-6zM1818 312h6v6h-6zM1626 318h18v6h-18zM1662 318h12v6h-12zM1776 318h6v6h-6zM1824 318h6v6h-6zM1602 324h24v6h-24zM1668 324h12v6h-12zM1824 324h6v6h-6zM1596 330h18v6h-18zM1680 330h6v6h-6zM1776 330h6v6h-6zM1824 330h6v6h-6zM1590 336h18v6h-18zM1680 336h6v6h-6zM1824 336h6v6h-6zM1590 342h12v6h-12zM1680 342h6v6h-6zM1824 342h6v6h-6zM1584 348h6v6h-6zM1578 354h6v6h-6zM1818 354h6v6h-6zM1896 354h24v6h-24zM1578 360h6v6h-6zM1806 360h6v6h-6zM1884 360h18v6h-18zM1578 366h6v6h-6zM1710 366h6v6h-6zM1878 366h6v6h-6zM1578 372h6v6h-6zM1860 372h6v6h-6zM1578 378h6v6h-6zM1842 378h6v6h-6zM1836 384h6v6h-6zM1836 390h6v6h-6zM1602 402h6v6h-6zM1728 402h6v6h-6zM1842 402h6v6h-6zM1386 408h30v6h-30zM1848 408h6v6h-6zM1350 414h6v6h-6zM1428 414h6v6h-6zM1446 414h6v6h-6zM1620 414h6v6h-6zM1734 414h6v6h-6zM1854 414h6v6h-6zM1308 420h6v6h-6zM1434 420h6v6h-6zM1482 420h6v6h-6zM1626 420h6v6h-6zM1860 420h6v6h-6zM1296 426h6v6h-6zM1488 426h6v6h-6zM1632 426h6v6h-6zM1866 426h12v6h-12zM1434 432h12v6h-12zM1638 432h6v6h-6zM1746 432h6v6h-6zM1878 432h12v6h-12zM1428 438h6v6h-6zM1440 438h6v6h-6zM1494 438h6v6h-6zM1644 438h6v6h-6zM1746 438h6v6h-6zM1896 438h24v6h-24zM1422 444h6v6h-6zM1446 444h6v6h-6zM1494 444h6v6h-6zM1644 444h6v6h-6zM1272 450h6v6h-6zM1416 450h6v6h-6zM1452 450h6v6h-6zM1494 450h6v6h-6zM1644 450h6v6h-6zM1824 450h36v6h-36zM1278 456h6v6h-6zM1410 456h6v6h-6zM1470 456h6v6h-6zM1488 456h6v6h-6zM1638 456h6v6h-6zM1728 456h6v6h-6zM1794 456h6v6h-6zM1878 456h12v6h-12zM1884 462h6v6h-6zM1326 468h6v6h-6zM1884 468h6v6h-6zM1338 474h6v6h-6zM1704 474h6v6h-6zM1374 480h6v6h-6zM1614 480h6v6h-6zM1698 480h6v6h-6zM1878 480h6v6h-6zM1350 486h24v6h-24zM1608 486h6v6h-6zM1356 492h12v6h-12zM1596 492h6v6h-6zM1692 492h6v6h-6zM1794 492h6v6h-6zM1872 492h6v6h-6zM1590 498h6v6h-6zM1866 504h6v6h-6zM1584 510h6v6h-6zM1698 510h6v6h-6zM1860 510h6v6h-6zM1704 516h6v6h-6zM1800 516h6v6h-6zM1848 516h6v6h-6zM1590 522h6v6h-6zM1710 522h6v6h-6zM1800 522h6v6h-6zM1824 522h6v6h-6zM1602 528h6v6h-6zM1716 528h6v6h-6zM1614 534h6v6h-6zM1716 534h6v6h-6zM1752 534h12v6h-12zM1800 534h6v6h-6zM1710 540h6v6h-6zM1746 540h6v6h-6zM1704 546h6v6h-6zM1632 552h6v6h-6zM1806 552h6v6h-6zM1698 558h6v6h-6zM1698 564h6v6h-6zM1806 564h6v6h-6zM1878 564h18v6h-18zM1644 570h6v6h-6zM1698 570h6v6h-6zM1872 570h6v6h-6zM1866 576h6v6h-6zM1650 582h6v6h-6zM1704 582h6v6h-6zM1866 582h6v6h-6zM1860 588h6v6h-6zM1860 594h6v6h-6zM1476 600h12v6h-12zM1860 600h6v6h-6zM1752 606h6v6h-6zM1860 606h6v6h-6zM1806 612h6v6h-6zM1860 612h18v6h-18zM1500 618h6v6h-6zM1776 618h6v6h-6zM1806 618h6v6h-6zM1866 618h30v6h-30zM1716 624h6v6h-6zM1782 624h6v6h-6zM1806 624h12v6h-12zM1884 624h24v6h-24zM1644 630h6v6h-6zM1788 630h12v6h-12zM1806 630h18v6h-18zM1902 630h18v6h-18zM1800 636h24v6h-24zM1626 642h6v6h-6zM1812 642h12v6h-12zM1500 648h6v6h-6zM1620 648h6v6h-6zM1482 654h12v6h-12zM1692 660h6v6h-6zM1530 666h6v6h-6zM1596 666h18v6h-18zM1602 672h12v6h-12zM1248 678h18v6h-18zM1518 678h6v6h-6zM1596 678h6v6h-6zM1626 678h6v6h-6zM1248 684h18v6h-18zM1518 684h6v6h-6zM1638 684h6v6h-6zM1734 684h6v6h-6zM1794 684h24v6h-24zM1362 690h6v6h-6zM1422 690h6v6h-6zM1512 690h6v6h-6zM1668 690h6v6h-6zM1350 696h6v6h-6zM1440 696h6v6h-6zM1578 696h6v6h-6zM1344 702h6v6h-6zM1332 708h12v6h-12zM1674 708h6v6h-6zM1818 708h6v6h-6zM1302 714h6v6h-6zM1674 714h6v6h-6zM1242 720h6v6h-6zM1278 720h6v6h-6zM1596 720h6v6h-6zM1674 720h6v6h-6zM1830 720h6v6h-6zM1674 726h6v6h-6zM1842 726h6v6h-6zM1674 732h6v6h-6zM1860 732h60v6h-60zM1608 738h6v6h-6zM1614 744h6v6h-6zM1668 744h6v6h-6z"/><path fill="#e04000" d="M1578 228h12v6h-12zM1632 228h6v6h-6zM1896 228h12v6h-12zM1350 234h6v6h-6zM1578 234h6v6h-6zM1632 234h6v6h-6zM1836 234h6v6h-6zM1890 234h12v6h-12zM1350 240h6v6h-6zM1578 240h6v6h-6zM1638 240h6v6h-6zM1836 240h6v6h-6zM1884 240h12v6h-12zM1572 246h12v6h-12zM1644 246h6v6h-6zM1836 246h6v6h-6zM1878 246h12v6h-12zM1344 252h6v6h-6zM1572 252h6v6h-6zM1650 252h6v6h-6zM1830 252h6v6h-6zM1872 252h6v6h-6zM1344 258h6v6h-6zM1572 258h6v6h-6zM1656 258h18v6h-18zM1818 258h12v6h-12zM1860 258h12v6h-12zM1266 264h18v6h-18zM1314 264h30v6h-30zM1668 264h18v6h-18zM1800 264h12v6h-12zM1854 264h12v6h-12zM1254 270h12v6h-12zM1680 270h12v6h-12zM1788 270h12v6h-12zM1854 270h6v6h-6zM1254 276h12v6h-12zM1578 276h6v6h-6zM1686 276h12v6h-12zM1788 276h6v6h-6zM1854 276h12v6h-12zM1260 282h18v6h-18zM1578 282h6v6h-6zM1692 282h12v6h-12zM1782 282h6v6h-6zM1866 282h6v6h-6zM1278 288h18v6h-18zM1398 288h30v6h-30zM1698 288h6v6h-6zM1782 288h6v6h-6zM1878 288h12v6h-12zM1302 294h108v6h-108zM1434 294h6v6h-6zM1650 294h24v6h-24zM1698 294h12v6h-12zM1776 294h18v6h-18zM1896 294h24v6h-24zM1446 300h6v6h-6zM1584 300h6v6h-6zM1644 300h42v6h-42zM1704 300h12v6h-12zM1764 300h54v6h-54zM1464 306h6v6h-6zM1584 306h12v6h-12zM1626 306h18v6h-18zM1668 306h24v6h-24zM1704 306h12v6h-12zM1752 306h24v6h-24zM1818 306h12v6h-12zM1554 312h78v6h-78zM1674 312h48v6h-48zM1734 312h42v6h-42zM1824 312h6v6h-6zM1578 318h18v6h-18zM1680 318h90v6h-90zM1830 318h6v6h-6zM1578 324h12v6h-12zM1686 324h24v6h-24zM1758 324h12v6h-12zM1830 324h6v6h-6zM1578 330h12v6h-12zM1692 330h12v6h-12zM1770 330h6v6h-6zM1830 330h6v6h-6zM1578 336h12v6h-12zM1692 336h6v6h-6zM1776 336h6v6h-6zM1830 336h6v6h-6zM1572 342h12v6h-12zM1686 342h6v6h-6zM1830 342h6v6h-6zM1902 342h12v6h-12zM1572 348h6v6h-6zM1692 348h6v6h-6zM1890 348h18v6h-18zM1914 348h6v6h-6zM1566 354h6v6h-6zM1698 354h6v6h-6zM1824 354h6v6h-6zM1884 354h6v6h-6zM1566 360h6v6h-6zM1710 360h6v6h-6zM1818 360h6v6h-6zM1872 360h12v6h-12zM1572 366h6v6h-6zM1716 366h6v6h-6zM1806 366h12v6h-12zM1866 366h6v6h-6zM1572 372h6v6h-6zM1722 372h6v6h-6zM1848 372h6v6h-6zM1830 378h6v6h-6zM1578 384h6v6h-6zM1728 384h6v6h-6zM1824 384h12v6h-12zM1584 390h6v6h-6zM1728 390h6v6h-6zM1824 390h12v6h-12zM1590 396h6v6h-6zM1728 396h6v6h-6zM1830 396h6v6h-6zM1398 402h18v6h-18zM1596 402h6v6h-6zM1830 402h12v6h-12zM1368 408h12v6h-12zM1422 408h12v6h-12zM1452 408h18v6h-18zM1836 408h6v6h-6zM1320 414h24v6h-24zM1476 414h6v6h-6zM1614 414h6v6h-6zM1836 414h12v6h-12zM1302 420h6v6h-6zM1488 420h6v6h-6zM1620 420h6v6h-6zM1740 420h6v6h-6zM1842 420h12v6h-12zM1290 426h6v6h-6zM1494 426h6v6h-6zM1626 426h6v6h-6zM1848 426h18v6h-18zM1500 432h6v6h-6zM1632 432h6v6h-6zM1854 432h18v6h-18zM1500 438h6v6h-6zM1632 438h6v6h-6zM1854 438h30v6h-30zM1272 444h6v6h-6zM1428 444h18v6h-18zM1500 444h6v6h-6zM1632 444h6v6h-6zM1746 444h6v6h-6zM1824 444h96v6h-96zM1422 450h6v6h-6zM1446 450h6v6h-6zM1500 450h6v6h-6zM1632 450h6v6h-6zM1740 450h6v6h-6zM1800 450h12v6h-12zM1884 450h24v6h-24zM1272 456h6v6h-6zM1458 456h6v6h-6zM1500 456h6v6h-6zM1632 456h6v6h-6zM1734 456h6v6h-6zM1788 456h6v6h-6zM1896 456h6v6h-6zM1290 462h6v6h-6zM1404 462h6v6h-6zM1626 462h6v6h-6zM1890 462h6v6h-6zM1320 468h6v6h-6zM1398 468h6v6h-6zM1716 468h6v6h-6zM1890 468h6v6h-6zM1332 474h6v6h-6zM1710 474h6v6h-6zM1788 474h6v6h-6zM1338 480h6v6h-6zM1380 480h6v6h-6zM1608 480h6v6h-6zM1704 480h6v6h-6zM1788 480h6v6h-6zM1884 480h6v6h-6zM1344 486h6v6h-6zM1380 486h6v6h-6zM1596 486h6v6h-6zM1878 486h6v6h-6zM1344 492h6v6h-6zM1374 492h6v6h-6zM1590 492h6v6h-6zM1698 492h6v6h-6zM1878 492h6v6h-6zM1344 498h12v6h-12zM1368 498h12v6h-12zM1584 498h6v6h-6zM1698 498h6v6h-6zM1872 498h6v6h-6zM1350 504h24v6h-24zM1578 504h6v6h-6zM1794 504h6v6h-6zM1872 504h6v6h-6zM1578 510h6v6h-6zM1704 510h6v6h-6zM1794 510h6v6h-6zM1866 510h6v6h-6zM1578 516h6v6h-6zM1710 516h12v6h-12zM1794 516h6v6h-6zM1854 516h6v6h-6zM1584 522h6v6h-6zM1722 522h12v6h-12zM1794 522h6v6h-6zM1830 522h6v6h-6zM1590 528h6v6h-6zM1728 528h72v6h-72zM1812 528h6v6h-6zM1608 534h6v6h-6zM1620 540h6v6h-6zM1722 540h18v6h-18zM1626 546h6v6h-6zM1716 546h12v6h-12zM1734 546h12v6h-12zM1806 546h6v6h-6zM1710 552h6v6h-6zM1740 552h6v6h-6zM1896 552h24v6h-24zM1632 558h6v6h-6zM1704 558h6v6h-6zM1740 558h6v6h-6zM1878 558h12v6h-12zM1704 564h6v6h-6zM1740 564h6v6h-6zM1866 564h12v6h-12zM1638 570h6v6h-6zM1704 570h6v6h-6zM1740 570h6v6h-6zM1806 570h6v6h-6zM1860 570h6v6h-6zM1704 576h6v6h-6zM1740 576h6v6h-6zM1806 576h6v6h-6zM1860 576h6v6h-6zM1740 582h6v6h-6zM1806 582h6v6h-6zM1854 582h6v6h-6zM1650 588h6v6h-6zM1740 588h6v6h-6zM1806 588h6v6h-6zM1854 588h6v6h-6zM1650 594h6v6h-6zM1716 594h6v6h-6zM1740 594h6v6h-6zM1806 594h6v6h-6zM1854 594h6v6h-6zM1488 600h6v6h-6zM1722 600h6v6h-6zM1740 600h6v6h-6zM1806 600h6v6h-6zM1848 600h6v6h-6zM1746 606h6v6h-6zM1812 606h6v6h-6zM1848 606h6v6h-6zM1458 612h6v6h-6zM1500 612h6v6h-6zM1758 612h6v6h-6zM1812 612h6v6h-6zM1848 612h6v6h-6zM1650 618h6v6h-6zM1770 618h6v6h-6zM1818 618h6v6h-6zM1842 618h12v6h-12zM1776 624h6v6h-6zM1824 624h48v6h-48zM1452 630h6v6h-6zM1506 630h6v6h-6zM1638 630h6v6h-6zM1782 630h6v6h-6zM1830 630h60v6h-60zM1452 636h6v6h-6zM1506 636h6v6h-6zM1626 636h6v6h-6zM1788 636h6v6h-6zM1830 636h18v6h-18zM1866 636h42v6h-42zM1620 642h6v6h-6zM1794 642h12v6h-12zM1830 642h12v6h-12zM1896 642h24v6h-24zM1458 648h6v6h-6zM1614 648h6v6h-6zM1704 648h6v6h-6zM1800 648h12v6h-12zM1824 648h12v6h-12zM1470 654h12v6h-12zM1500 654h6v6h-6zM1806 654h24v6h-24zM1542 660h12v6h-12zM1572 660h24v6h-24zM1602 660h6v6h-6zM1818 660h6v6h-6zM1248 666h18v6h-18zM1524 666h6v6h-6zM1692 666h6v6h-6zM1242 672h6v6h-6zM1266 672h12v6h-12zM1692 672h6v6h-6zM1236 678h12v6h-12zM1272 678h6v6h-6zM1512 678h6v6h-6zM1608 678h12v6h-12zM1704 678h6v6h-6zM1236 684h12v6h-12zM1272 684h6v6h-6zM1362 684h18v6h-18zM1410 684h18v6h-18zM1512 684h6v6h-6zM1596 684h6v6h-6zM1632 684h6v6h-6zM1740 684h18v6h-18zM1764 684h24v6h-24zM1818 684h12v6h-12zM1242 690h6v6h-6zM1272 690h6v6h-6zM1350 690h6v6h-6zM1434 690h6v6h-6zM1584 690h6v6h-6zM1650 690h12v6h-12zM1824 690h6v6h-6zM1248 696h24v6h-24zM1338 696h12v6h-12zM1446 696h6v6h-6zM1494 696h6v6h-6zM1584 696h6v6h-6zM1662 696h12v6h-12zM1818 696h12v6h-12zM1866 696h24v6h-24zM1308 702h36v6h-36zM1668 702h6v6h-6zM1824 702h6v6h-6zM1866 702h48v6h-48zM1296 708h24v6h-24zM1590 708h6v6h-6zM1668 708h6v6h-6zM1824 708h6v6h-6zM1866 708h54v6h-54zM1284 714h12v6h-12zM1596 714h6v6h-6zM1668 714h6v6h-6zM1830 714h6v6h-6zM1860 714h30v6h-30zM1908 714h12v6h-12zM1668 720h6v6h-6zM1836 720h48v6h-48zM1602 726h6v6h-6zM1668 726h6v6h-6zM1860 726h12v6h-12zM1608 732h6v6h-6zM1668 732h6v6h-6zM1614 738h6v6h-6zM1668 738h6v6h-6zM1620 744h48v6h-48z"/><path fill="#d83000" d="M1596 228h6v6h-6zM1620 228h6v6h-6zM1872 228h6v6h-6zM1590 240h6v6h-6zM1854 240h12v6h-12zM1638 252h6v6h-6zM1644 258h6v6h-6zM1650 270h6v6h-6zM1650 276h6v6h-6zM1830 276h6v6h-6zM1842 276h6v6h-6zM1824 282h6v6h-6zM1824 288h6v6h-6zM1284 294h6v6h-6zM1824 294h6v6h-6zM1416 300h6v6h-6zM1620 300h6v6h-6zM1374 306h6v6h-6zM1398 306h6v6h-6zM1518 312h6v6h-6zM1566 318h6v6h-6zM1728 324h6v6h-6zM1758 330h6v6h-6zM1902 336h6v6h-6zM1914 336h6v6h-6zM1698 342h6v6h-6zM1836 348h6v6h-6zM1878 348h6v6h-6zM1566 372h6v6h-6zM1812 372h6v6h-6zM1818 396h6v6h-6zM1356 408h6v6h-6zM1626 444h6v6h-6zM1434 450h6v6h-6zM1512 450h6v6h-6zM1746 450h6v6h-6zM1500 462h6v6h-6zM1902 468h6v6h-6zM1608 474h6v6h-6zM1782 474h6v6h-6zM1710 486h6v6h-6zM1890 486h6v6h-6zM1386 492h6v6h-6zM1578 492h6v6h-6zM1710 504h6v6h-6zM1788 504h6v6h-6zM1716 510h6v6h-6zM1572 516h6v6h-6zM1728 516h6v6h-6zM1752 522h6v6h-6zM1842 522h6v6h-6zM1428 534h18v6h-18zM1422 540h6v6h-6zM1452 546h6v6h-6zM1896 546h6v6h-6zM1914 546h6v6h-6zM1422 552h6v6h-6zM1452 552h6v6h-6zM1452 558h6v6h-6zM1626 558h6v6h-6zM1434 564h18v6h-18zM1710 564h6v6h-6zM1734 564h6v6h-6zM1710 570h6v6h-6zM1734 570h6v6h-6zM1734 576h6v6h-6zM1848 582h6v6h-6zM1644 588h6v6h-6zM1488 594h6v6h-6zM1620 636h6v6h-6zM1614 642h6v6h-6zM1890 654h12v6h-12zM1872 660h6v6h-6zM1698 666h6v6h-6zM1860 666h12v6h-12zM1854 672h12v6h-12zM1386 678h18v6h-18zM1800 678h6v6h-6zM1860 678h6v6h-6zM1284 684h6v6h-6zM1350 684h6v6h-6zM1872 684h12v6h-12zM1284 690h6v6h-6zM1902 690h6v6h-6zM1644 696h6v6h-6zM1650 702h6v6h-6zM1266 708h6v6h-6zM1596 708h6v6h-6zM1650 708h6v6h-6zM1650 714h6v6h-6zM1650 720h6v6h-6zM1644 726h6v6h-6zM1638 732h12v6h-12z"/><path fill="#f87000" d="M1674 228h6v6h-6zM1776 228h6v6h-6zM1680 234h6v6h-6zM1686 240h6v6h-6zM1500 246h6v6h-6zM1692 246h6v6h-6zM1782 246h6v6h-6zM1392 252h6v6h-6zM1398 258h6v6h-6zM1782 258h6v6h-6zM1410 264h6v6h-6zM1524 264h6v6h-6zM1542 270h6v6h-6zM1524 306h18v6h-18zM1704 414h6v6h-6zM1368 420h6v6h-6zM1698 420h6v6h-6zM1320 426h6v6h-6zM1386 426h6v6h-6zM1692 432h6v6h-6zM1296 438h6v6h-6zM1404 438h6v6h-6zM1692 438h6v6h-6zM1290 444h6v6h-6zM1692 444h6v6h-6zM1290 450h6v6h-6zM1692 450h6v6h-6zM1716 450h6v6h-6zM1302 456h6v6h-6zM1824 468h18v6h-18zM1860 474h6v6h-6zM1860 480h6v6h-6zM1854 498h6v6h-6zM1812 504h6v6h-6zM1836 510h6v6h-6zM1770 546h6v6h-6zM1794 546h6v6h-6zM1758 564h6v6h-6zM1758 570h6v6h-6zM1674 576h12v6h-12zM1758 576h6v6h-6zM1758 582h6v6h-6zM1668 588h6v6h-6zM1758 588h6v6h-6zM1782 594h6v6h-6zM1710 606h6v6h-6zM1710 618h6v6h-6zM1470 630h6v6h-6zM1488 630h6v6h-6zM1488 636h6v6h-6zM1668 636h6v6h-6zM1698 636h6v6h-6zM1476 642h12v6h-12zM1692 642h6v6h-6zM1680 648h6v6h-6zM1704 684h6v6h-6zM1734 690h6v6h-6zM1800 708h6v6h-6zM1344 720h6v6h-6zM1272 726h6v6h-6zM1290 726h6v6h-6zM1440 732h6v6h-6zM1440 738h6v6h-6zM1770 738h6v6h-6zM1374 744h6v6h-6zM1440 744h6v6h-6zM1380 750h6v6h-6zM1434 750h6v6h-6zM1380 756h6v6h-6zM1410 756h12v6h-12zM1854 756h6v6h-6zM1386 762h6v6h-6zM1830 762h6v6h-6z"/><path fill="#ff9020" d="M1446 234h6v6h-6zM1440 240h6v6h-6zM1452 240h6v6h-6zM1446 246h6v6h-6zM1758 246h6v6h-6zM1764 252h6v6h-6zM1512 276h6v6h-6zM1542 294h6v6h-6zM1350 432h6v6h-6zM1380 444h6v6h-6zM1344 456h6v6h-6zM1308 732h6v6h-6zM1284 750h6v6h-6zM1242 756h12v6h-12zM1236 762h6v6h-6zM1602 768h6v6h-6zM1854 768h6v6h-6zM1794 774h6v6h-6zM1824 774h6v6h-6zM1488 816h6v6h-6z"/><path fill="#ff9820" d="M1446 240h6v6h-6zM1734 240h6v6h-6zM1452 246h12v6h-12zM1470 246h6v6h-6zM1728 246h6v6h-6zM1452 252h6v6h-6zM1722 252h6v6h-6zM1452 282h6v6h-6zM1536 288h6v6h-6zM1536 294h6v6h-6zM1356 432h6v6h-6zM1338 438h6v6h-6zM1314 732h6v6h-6zM1332 732h6v6h-6zM1290 744h6v6h-6zM1344 750h6v6h-6zM1254 756h36v6h-36zM1344 756h6v6h-6zM1548 756h6v6h-6zM1620 756h12v6h-12zM1674 756h6v6h-6zM1746 756h6v6h-6zM1242 762h36v6h-36zM1344 762h6v6h-6zM1236 768h24v6h-24zM1860 768h6v6h-6zM1542 774h6v6h-6zM1602 774h6v6h-6zM1830 774h6v6h-6zM1602 780h6v6h-6zM1530 786h6v6h-6z"/><path fill="#d02800" d="M1608 240h18v6h-18zM1332 246h6v6h-6zM1602 246h6v6h-6zM1626 246h6v6h-6zM1272 252h12v6h-12zM1302 252h24v6h-24zM1248 258h6v6h-6zM1596 258h6v6h-6zM1638 264h6v6h-6zM1590 270h6v6h-6zM1638 276h6v6h-6zM1638 282h6v6h-6zM1248 288h6v6h-6zM1590 288h6v6h-6zM1632 288h6v6h-6zM1842 288h12v6h-12zM1272 294h6v6h-6zM1620 294h6v6h-6zM1836 294h6v6h-6zM1302 300h6v6h-6zM1320 300h6v6h-6zM1836 300h6v6h-6zM1878 300h6v6h-6zM1416 306h6v6h-6zM1386 312h18v6h-18zM1560 318h6v6h-6zM1842 318h6v6h-6zM1716 330h6v6h-6zM1746 330h6v6h-6zM1902 330h18v6h-18zM1560 342h6v6h-6zM1704 342h6v6h-6zM1770 342h6v6h-6zM1842 342h6v6h-6zM1878 342h6v6h-6zM1776 348h6v6h-6zM1842 348h6v6h-6zM1872 348h6v6h-6zM1866 354h6v6h-6zM1722 360h6v6h-6zM1836 360h6v6h-6zM1860 360h6v6h-6zM1794 366h6v6h-6zM1836 366h12v6h-12zM1566 378h6v6h-6zM1734 378h6v6h-6zM1812 384h6v6h-6zM1812 390h6v6h-6zM1392 396h6v6h-6zM1416 396h6v6h-6zM1578 396h6v6h-6zM1434 402h6v6h-6zM1584 402h6v6h-6zM1740 414h6v6h-6zM1812 426h6v6h-6zM1272 432h6v6h-6zM1512 432h6v6h-6zM1752 432h6v6h-6zM1620 438h6v6h-6zM1518 444h6v6h-6zM1260 450h6v6h-6zM1518 450h6v6h-6zM1776 450h6v6h-6zM1440 456h6v6h-6zM1518 456h6v6h-6zM1620 456h6v6h-6zM1416 462h6v6h-6zM1452 462h6v6h-6zM1776 468h6v6h-6zM1914 474h6v6h-6zM1914 480h6v6h-6zM1716 486h6v6h-6zM1908 486h12v6h-12zM1332 492h6v6h-6zM1392 492h6v6h-6zM1572 492h6v6h-6zM1782 492h6v6h-6zM1902 492h18v6h-18zM1782 498h6v6h-6zM1902 498h18v6h-18zM1716 504h6v6h-6zM1896 504h24v6h-24zM1890 510h30v6h-30zM1350 516h6v6h-6zM1374 516h6v6h-6zM1746 516h6v6h-6zM1782 516h6v6h-6zM1884 516h36v6h-36zM1860 522h60v6h-60zM1422 528h6v6h-6zM1452 528h6v6h-6zM1830 528h6v6h-6zM1890 528h30v6h-30zM1410 534h6v6h-6zM1464 534h6v6h-6zM1896 534h24v6h-24zM1410 540h6v6h-6zM1470 540h6v6h-6zM1890 540h6v6h-6zM1470 546h6v6h-6zM1812 546h6v6h-6zM1410 552h6v6h-6zM1470 552h6v6h-6zM1620 552h6v6h-6zM1872 552h6v6h-6zM1470 558h6v6h-6zM1416 564h6v6h-6zM1470 564h6v6h-6zM1626 564h6v6h-6zM1722 564h6v6h-6zM1848 564h6v6h-6zM1464 570h6v6h-6zM1722 570h6v6h-6zM1440 576h24v6h-24zM1722 576h6v6h-6zM1842 576h6v6h-6zM1842 582h6v6h-6zM1464 588h12v6h-12zM1482 588h6v6h-6zM1818 588h6v6h-6zM1458 594h6v6h-6zM1644 594h6v6h-6zM1836 594h6v6h-6zM1830 600h6v6h-6zM1506 612h6v6h-6zM1746 612h6v6h-6zM1446 624h6v6h-6zM1632 624h6v6h-6zM1446 636h6v6h-6zM1782 648h6v6h-6zM1554 654h18v6h-18zM1788 654h6v6h-6zM1482 660h6v6h-6zM1506 660h6v6h-6zM1518 660h6v6h-6zM1704 660h6v6h-6zM1794 660h6v6h-6zM1278 666h6v6h-6zM1506 666h6v6h-6zM1908 666h12v6h-12zM1506 672h6v6h-6zM1800 672h6v6h-6zM1902 672h18v6h-18zM1422 678h6v6h-6zM1506 678h6v6h-6zM1788 678h6v6h-6zM1908 678h12v6h-12zM1446 690h6v6h-6zM1626 690h6v6h-6zM1470 696h6v6h-6zM1638 702h6v6h-6zM1248 708h6v6h-6zM1632 714h6v6h-6zM1614 720h6v6h-6zM1626 720h6v6h-6z"/><path fill="#ff9828" d="M1740 240h12v6h-12zM1464 246h6v6h-6zM1482 252h6v6h-6zM1452 258h6v6h-6zM1764 264h6v6h-6zM1758 270h6v6h-6zM1728 276h6v6h-6zM1740 276h6v6h-6zM1518 282h6v6h-6zM1524 288h12v6h-12zM1464 294h6v6h-6zM1518 294h18v6h-18zM1368 438h6v6h-6zM1338 444h6v6h-6zM1374 444h6v6h-6zM1338 450h6v6h-6zM1380 450h6v6h-6zM1350 456h6v6h-6zM1368 456h12v6h-12zM1320 732h12v6h-12zM1296 738h6v6h-6zM1338 738h6v6h-6zM1290 750h6v6h-6zM1290 756h6v6h-6zM1464 756h6v6h-6zM1740 756h6v6h-6zM1890 756h6v6h-6zM1278 762h12v6h-12zM1446 762h6v6h-6zM1548 762h6v6h-6zM1878 762h6v6h-6zM1260 768h18v6h-18zM1350 768h6v6h-6zM1422 768h6v6h-6zM1866 768h6v6h-6zM1236 774h30v6h-30zM1788 774h6v6h-6zM1836 774h18v6h-18zM1536 780h6v6h-6zM1602 786h6v6h-6zM1602 792h6v6h-6zM1512 798h6v6h-6zM1602 798h6v6h-6zM1494 810h6v6h-6z"/><path fill="#ff9830" d="M1734 246h24v6h-24zM1458 252h6v6h-6zM1476 252h6v6h-6zM1728 252h6v6h-6zM1758 252h6v6h-6zM1488 258h6v6h-6zM1722 258h6v6h-6zM1764 258h6v6h-6zM1452 264h6v6h-6zM1494 264h6v6h-6zM1722 264h6v6h-6zM1452 270h6v6h-6zM1500 270h6v6h-6zM1722 270h6v6h-6zM1752 270h6v6h-6zM1452 276h6v6h-6zM1506 276h6v6h-6zM1734 276h6v6h-6zM1512 282h6v6h-6zM1458 288h6v6h-6zM1512 288h12v6h-12zM1506 294h12v6h-12zM1344 438h24v6h-24zM1344 444h6v6h-6zM1368 444h6v6h-6zM1344 450h6v6h-6zM1374 450h6v6h-6zM1356 456h12v6h-12zM1302 738h12v6h-12zM1326 738h12v6h-12zM1494 738h6v6h-6zM1296 744h6v6h-6zM1332 744h12v6h-12zM1482 744h6v6h-6zM1536 744h6v6h-6zM1296 750h6v6h-6zM1338 750h6v6h-6zM1296 756h6v6h-6zM1338 756h6v6h-6zM1680 756h12v6h-12zM1704 756h36v6h-36zM1896 756h6v6h-6zM1290 762h6v6h-6zM1338 762h6v6h-6zM1452 762h6v6h-6zM1608 762h6v6h-6zM1758 762h6v6h-6zM1884 762h6v6h-6zM1278 768h6v6h-6zM1428 768h6v6h-6zM1770 768h6v6h-6zM1872 768h12v6h-12zM1266 774h6v6h-6zM1782 774h6v6h-6zM1854 774h24v6h-24zM1236 780h24v6h-24zM1800 780h72v6h-72zM1812 786h60v6h-60zM1812 792h54v6h-54zM1818 798h48v6h-48zM1500 804h6v6h-6zM1602 804h6v6h-6zM1842 804h18v6h-18zM1602 810h6v6h-6zM1602 816h6v6h-6zM1476 822h6v6h-6zM1602 822h6v6h-6zM1464 828h6v6h-6zM1602 828h6v6h-6z"/><path fill="#ffa038" d="M1464 252h12v6h-12zM1734 252h24v6h-24zM1458 258h6v6h-6zM1482 258h6v6h-6zM1728 258h6v6h-6zM1758 258h6v6h-6zM1458 264h6v6h-6zM1728 264h6v6h-6zM1758 264h6v6h-6zM1728 270h24v6h-24zM1500 276h6v6h-6zM1458 282h6v6h-6zM1506 282h6v6h-6zM1500 288h12v6h-12zM1470 294h12v6h-12zM1488 294h18v6h-18zM1350 444h18v6h-18zM1350 450h24v6h-24zM1314 738h12v6h-12zM1500 738h6v6h-6zM1524 738h6v6h-6zM1302 744h30v6h-30zM1302 750h36v6h-36zM1476 750h6v6h-6zM1542 750h6v6h-6zM1302 756h36v6h-36zM1692 756h12v6h-12zM1902 756h18v6h-18zM1296 762h6v6h-6zM1326 762h12v6h-12zM1458 762h6v6h-6zM1614 762h6v6h-6zM1728 762h30v6h-30zM1890 762h6v6h-6zM1284 768h6v6h-6zM1344 768h6v6h-6zM1434 768h6v6h-6zM1608 768h6v6h-6zM1758 768h12v6h-12zM1884 768h6v6h-6zM1272 774h6v6h-6zM1386 774h24v6h-24zM1608 774h6v6h-6zM1770 774h12v6h-12zM1878 774h6v6h-6zM1260 780h12v6h-12zM1608 780h6v6h-6zM1782 780h18v6h-18zM1872 780h12v6h-12zM1236 786h18v6h-18zM1608 786h6v6h-6zM1788 786h24v6h-24zM1872 786h6v6h-6zM1518 792h6v6h-6zM1608 792h6v6h-6zM1788 792h24v6h-24zM1866 792h12v6h-12zM1608 798h6v6h-6zM1788 798h30v6h-30zM1866 798h12v6h-12zM1794 804h48v6h-48zM1860 804h18v6h-18zM1806 810h72v6h-72zM1482 816h6v6h-6zM1806 816h72v6h-72zM1806 822h72v6h-72zM1800 828h78v6h-78z"/><path fill="#d84000" d="M1578 252h6v6h-6zM1866 252h6v6h-6zM1338 258h6v6h-6zM1578 258h6v6h-6zM1830 258h6v6h-6zM1260 264h6v6h-6zM1578 264h6v6h-6zM1248 270h6v6h-6zM1578 270h6v6h-6zM1788 282h6v6h-6zM1788 288h6v6h-6zM1872 288h6v6h-6zM1410 294h6v6h-6zM1674 294h6v6h-6zM1794 294h6v6h-6zM1374 300h12v6h-12zM1638 300h6v6h-6zM1596 306h6v6h-6zM1692 306h12v6h-12zM1914 342h6v6h-6zM1830 348h6v6h-6zM1878 354h6v6h-6zM1842 372h6v6h-6zM1728 378h6v6h-6zM1848 438h6v6h-6zM1818 444h6v6h-6zM1482 462h6v6h-6zM1896 462h6v6h-6zM1614 474h6v6h-6zM1788 486h6v6h-6zM1584 492h6v6h-6zM1602 534h6v6h-6zM1806 534h6v6h-6zM1728 546h6v6h-6zM1644 582h6v6h-6zM1710 582h6v6h-6zM1842 612h6v6h-6zM1824 618h6v6h-6zM1836 618h6v6h-6zM1644 624h6v6h-6zM1848 636h6v6h-6zM1860 636h6v6h-6zM1596 660h6v6h-6zM1758 684h6v6h-6zM1332 696h6v6h-6zM1302 702h6v6h-6zM1860 702h6v6h-6zM1290 708h6v6h-6zM1860 708h6v6h-6zM1260 714h6v6h-6zM1278 714h6v6h-6zM1836 714h6v6h-6zM1662 738h6v6h-6z"/><path fill="#ffa040" d="M1464 258h18v6h-18zM1734 258h24v6h-24zM1464 264h6v6h-6zM1482 264h12v6h-12zM1734 264h24v6h-24zM1458 270h6v6h-6zM1488 270h12v6h-12zM1458 276h6v6h-6zM1494 276h6v6h-6zM1494 282h12v6h-12zM1464 288h6v6h-6zM1494 288h6v6h-6zM1482 294h6v6h-6zM1506 738h6v6h-6zM1518 738h6v6h-6zM1488 744h6v6h-6zM1470 756h6v6h-6zM1302 762h24v6h-24zM1692 762h36v6h-36zM1896 762h12v6h-12zM1914 762h6v6h-6zM1338 768h6v6h-6zM1440 768h6v6h-6zM1542 768h6v6h-6zM1614 768h6v6h-6zM1704 768h54v6h-54zM1890 768h6v6h-6zM1278 774h6v6h-6zM1380 774h6v6h-6zM1410 774h12v6h-12zM1704 774h66v6h-66zM1884 774h6v6h-6zM1704 780h78v6h-78zM1884 780h6v6h-6zM1254 786h12v6h-12zM1524 786h6v6h-6zM1704 786h84v6h-84zM1878 786h12v6h-12zM1704 792h84v6h-84zM1878 792h6v6h-6zM1506 798h6v6h-6zM1704 798h84v6h-84zM1878 798h6v6h-6zM1494 804h6v6h-6zM1608 804h6v6h-6zM1704 804h90v6h-90zM1878 804h6v6h-6zM1488 810h6v6h-6zM1608 810h6v6h-6zM1698 810h108v6h-108zM1878 810h6v6h-6zM1608 816h6v6h-6zM1698 816h108v6h-108zM1878 816h6v6h-6zM1608 822h6v6h-6zM1698 822h108v6h-108zM1878 822h12v6h-12zM1608 828h6v6h-6zM1698 828h102v6h-102zM1878 828h12v6h-12z"/><path fill="#ffa848" d="M1470 264h12v6h-12zM1464 270h24v6h-24zM1464 276h30v6h-30zM1464 282h30v6h-30zM1470 288h24v6h-24zM1512 738h6v6h-6zM1464 762h6v6h-6zM1620 762h72v6h-72zM1908 762h6v6h-6zM1290 768h6v6h-6zM1326 768h12v6h-12zM1446 768h18v6h-18zM1620 768h6v6h-6zM1680 768h24v6h-24zM1896 768h24v6h-24zM1368 774h12v6h-12zM1422 774h24v6h-24zM1536 774h6v6h-6zM1614 774h6v6h-6zM1686 774h18v6h-18zM1890 774h30v6h-30zM1272 780h6v6h-6zM1530 780h6v6h-6zM1614 780h6v6h-6zM1686 780h18v6h-18zM1890 780h30v6h-30zM1266 786h6v6h-6zM1614 786h6v6h-6zM1686 786h18v6h-18zM1890 786h18v6h-18zM1236 792h24v6h-24zM1614 792h6v6h-6zM1686 792h18v6h-18zM1884 792h24v6h-24zM1614 798h6v6h-6zM1686 798h18v6h-18zM1884 798h18v6h-18zM1614 804h6v6h-6zM1680 804h24v6h-24zM1884 804h18v6h-18zM1482 810h6v6h-6zM1614 810h6v6h-6zM1674 810h24v6h-24zM1884 810h24v6h-24zM1476 816h6v6h-6zM1614 816h6v6h-6zM1674 816h24v6h-24zM1884 816h36v6h-36zM1470 822h6v6h-6zM1614 822h6v6h-6zM1674 822h24v6h-24zM1890 822h30v6h-30zM1614 828h6v6h-6zM1680 828h18v6h-18zM1890 828h30v6h-30z"/><path fill="#b81800" d="M1236 306h30v6h-30zM1236 312h6v6h-6zM1434 318h6v6h-6zM1422 324h12v6h-12zM1404 330h18v6h-18zM1554 330h6v6h-6zM1746 360h30v6h-30zM1746 366h6v6h-6zM1782 366h6v6h-6zM1740 384h6v6h-6zM1386 390h6v6h-6zM1422 390h6v6h-6zM1740 390h6v6h-6zM1314 402h18v6h-18zM1344 402h6v6h-6zM1740 402h6v6h-6zM1284 414h6v6h-6zM1584 414h6v6h-6zM1590 420h6v6h-6zM1800 420h6v6h-6zM1596 426h6v6h-6zM1536 432h30v6h-30zM1758 432h6v6h-6zM1566 438h6v6h-6zM1602 438h6v6h-6zM1764 438h6v6h-6zM1776 438h6v6h-6zM1566 444h6v6h-6zM1566 450h6v6h-6zM1560 456h6v6h-6zM1548 462h12v6h-12zM1278 468h6v6h-6zM1530 468h18v6h-18zM1584 468h6v6h-6zM1308 474h6v6h-6zM1512 474h18v6h-18zM1560 474h12v6h-12zM1320 480h6v6h-6zM1494 480h24v6h-24zM1554 480h12v6h-12zM1488 486h24v6h-24zM1548 486h12v6h-12zM1482 492h30v6h-30zM1548 492h12v6h-12zM1488 498h24v6h-24zM1548 498h6v6h-6zM1488 504h24v6h-24zM1548 504h6v6h-6zM1494 510h18v6h-18zM1548 510h6v6h-6zM1500 516h18v6h-18zM1344 522h6v6h-6zM1506 522h12v6h-12zM1392 528h6v6h-6zM1512 528h6v6h-6zM1392 534h6v6h-6zM1512 534h6v6h-6zM1392 540h6v6h-6zM1392 546h6v6h-6zM1506 552h6v6h-6zM1500 564h6v6h-6zM1404 570h6v6h-6zM1494 570h6v6h-6zM1626 576h6v6h-6zM1410 582h6v6h-6zM1416 594h6v6h-6zM1416 600h6v6h-6zM1416 606h6v6h-6zM1416 612h6v6h-6zM1638 612h6v6h-6zM1422 618h6v6h-6zM1422 624h6v6h-6zM1734 624h6v6h-6zM1746 624h6v6h-6zM1428 630h6v6h-6zM1728 630h6v6h-6zM1752 630h6v6h-6zM1434 636h6v6h-6zM1722 642h6v6h-6zM1758 642h6v6h-6zM1440 648h6v6h-6zM1764 648h6v6h-6zM1266 654h6v6h-6zM1524 654h6v6h-6zM1452 660h6v6h-6zM1716 660h6v6h-6zM1770 660h6v6h-6zM1482 666h6v6h-6zM1776 666h6v6h-6zM1290 672h6v6h-6zM1374 672h6v6h-6zM1416 672h12v6h-12zM1722 672h12v6h-12zM1770 672h6v6h-6zM1440 678h6v6h-6zM1464 690h6v6h-6zM1482 690h6v6h-6z"/><path fill="#b81000" d="M1314 306h6v6h-6zM1350 306h6v6h-6zM1242 312h60v6h-60zM1362 312h6v6h-6zM1236 318h54v6h-54zM1374 318h6v6h-6zM1440 318h12v6h-12zM1524 318h18v6h-18zM1236 324h42v6h-42zM1386 324h6v6h-6zM1434 324h12v6h-12zM1548 324h6v6h-6zM1236 330h36v6h-36zM1392 330h12v6h-12zM1422 330h18v6h-18zM1236 336h30v6h-30zM1398 336h42v6h-42zM1404 342h36v6h-36zM1410 348h30v6h-30zM1548 348h6v6h-6zM1416 354h12v6h-12zM1548 354h6v6h-6zM1548 360h6v6h-6zM1752 366h30v6h-30zM1746 372h6v6h-6zM1794 372h6v6h-6zM1560 378h6v6h-6zM1746 378h6v6h-6zM1800 378h6v6h-6zM1398 384h18v6h-18zM1800 384h6v6h-6zM1374 390h12v6h-12zM1428 390h6v6h-6zM1566 390h6v6h-6zM1800 390h6v6h-6zM1356 396h12v6h-12zM1740 396h6v6h-6zM1800 396h6v6h-6zM1302 402h12v6h-12zM1332 402h12v6h-12zM1800 402h6v6h-6zM1290 408h6v6h-6zM1578 408h6v6h-6zM1800 408h6v6h-6zM1278 414h6v6h-6zM1578 414h6v6h-6zM1746 414h6v6h-6zM1800 414h6v6h-6zM1272 420h6v6h-6zM1578 420h12v6h-12zM1794 420h6v6h-6zM1266 426h6v6h-6zM1524 426h6v6h-6zM1554 426h42v6h-42zM1788 426h12v6h-12zM1260 432h6v6h-6zM1566 432h36v6h-36zM1782 432h12v6h-12zM1254 438h6v6h-6zM1572 438h30v6h-30zM1770 438h6v6h-6zM1572 444h36v6h-36zM1248 450h6v6h-6zM1572 450h36v6h-36zM1248 456h6v6h-6zM1566 456h42v6h-42zM1260 462h6v6h-6zM1560 462h42v6h-42zM1272 468h6v6h-6zM1548 468h36v6h-36zM1296 474h12v6h-12zM1530 474h30v6h-30zM1518 480h36v6h-36zM1320 486h6v6h-6zM1512 486h36v6h-36zM1320 492h6v6h-6zM1512 492h36v6h-36zM1512 498h36v6h-36zM1326 504h6v6h-6zM1512 504h36v6h-36zM1326 510h6v6h-6zM1512 510h36v6h-36zM1332 516h6v6h-6zM1518 516h36v6h-36zM1338 522h6v6h-6zM1518 522h42v6h-42zM1362 528h30v6h-30zM1518 528h12v6h-12zM1560 528h6v6h-6zM1386 534h6v6h-6zM1518 534h6v6h-6zM1572 534h6v6h-6zM1512 540h6v6h-6zM1590 540h6v6h-6zM1512 546h6v6h-6zM1602 546h6v6h-6zM1392 552h6v6h-6zM1392 558h6v6h-6zM1506 558h6v6h-6zM1614 558h6v6h-6zM1398 564h6v6h-6zM1398 570h6v6h-6zM1500 570h6v6h-6zM1620 570h6v6h-6zM1404 576h6v6h-6zM1494 576h6v6h-6zM1404 582h6v6h-6zM1494 582h6v6h-6zM1410 588h6v6h-6zM1632 588h6v6h-6zM1410 594h6v6h-6zM1410 600h6v6h-6zM1506 600h6v6h-6zM1638 600h6v6h-6zM1410 606h6v6h-6zM1638 606h6v6h-6zM1410 612h6v6h-6zM1512 612h6v6h-6zM1410 618h12v6h-12zM1410 624h12v6h-12zM1740 624h6v6h-6zM1416 630h12v6h-12zM1614 630h6v6h-6zM1734 630h18v6h-18zM1422 636h12v6h-12zM1608 636h6v6h-6zM1728 636h30v6h-30zM1434 642h6v6h-6zM1602 642h6v6h-6zM1728 642h30v6h-30zM1596 648h6v6h-6zM1722 648h42v6h-42zM1242 654h6v6h-6zM1272 654h6v6h-6zM1440 654h6v6h-6zM1722 654h48v6h-48zM1446 660h6v6h-6zM1722 660h48v6h-48zM1458 666h24v6h-24zM1716 666h60v6h-60zM1362 672h12v6h-12zM1428 672h12v6h-12zM1482 672h18v6h-18zM1734 672h36v6h-36zM1296 678h6v6h-6zM1332 678h12v6h-12zM1446 678h6v6h-6zM1494 678h6v6h-6zM1452 684h12v6h-12zM1488 684h12v6h-12zM1470 690h12v6h-12z"/><path fill="#b01000" d="M1320 306h6v6h-6zM1278 324h6v6h-6zM1272 330h6v6h-6zM1440 330h6v6h-6zM1266 336h6v6h-6zM1254 342h6v6h-6zM1404 348h6v6h-6zM1410 354h6v6h-6zM1428 354h6v6h-6zM1392 384h6v6h-6zM1440 396h6v6h-6zM1794 414h6v6h-6zM1776 432h6v6h-6zM1248 444h6v6h-6zM1314 480h6v6h-6zM1386 540h6v6h-6zM1404 588h6v6h-6zM1404 600h6v6h-6zM1404 606h6v6h-6zM1428 642h6v6h-6zM1326 678h6v6h-6z"/><path fill="#b00000" d="M1326 306h6v6h-6zM1344 306h6v6h-6zM1368 318h6v6h-6zM1470 318h30v6h-30zM1290 330h6v6h-6zM1452 330h6v6h-6zM1452 336h6v6h-6zM1284 342h6v6h-6zM1392 342h6v6h-6zM1452 342h6v6h-6zM1284 348h6v6h-6zM1392 348h6v6h-6zM1236 354h12v6h-12zM1284 354h6v6h-6zM1392 354h6v6h-6zM1446 354h6v6h-6zM1248 360h42v6h-42zM1398 360h6v6h-6zM1272 366h12v6h-12zM1398 366h12v6h-12zM1428 366h6v6h-6zM1548 366h6v6h-6zM1392 372h36v6h-36zM1380 378h18v6h-18zM1416 378h12v6h-12zM1758 378h36v6h-36zM1362 384h12v6h-12zM1428 384h6v6h-6zM1758 384h36v6h-36zM1308 390h54v6h-54zM1752 390h42v6h-42zM1296 396h6v6h-6zM1752 396h42v6h-42zM1284 402h6v6h-6zM1752 402h42v6h-42zM1572 408h6v6h-6zM1752 408h36v6h-36zM1266 414h6v6h-6zM1572 414h6v6h-6zM1758 414h30v6h-30zM1260 420h6v6h-6zM1560 420h6v6h-6zM1764 420h18v6h-18zM1254 426h6v6h-6zM1242 444h6v6h-6zM1236 450h6v6h-6zM1236 456h6v6h-6zM1248 462h6v6h-6zM1260 468h6v6h-6zM1284 474h6v6h-6zM1308 480h6v6h-6zM1314 486h6v6h-6zM1326 516h6v6h-6zM1332 522h6v6h-6zM1344 528h6v6h-6zM1374 534h6v6h-6zM1530 534h6v6h-6zM1560 534h6v6h-6zM1380 540h6v6h-6zM1524 540h6v6h-6zM1380 546h6v6h-6zM1596 546h6v6h-6zM1386 558h6v6h-6zM1614 564h6v6h-6zM1392 570h6v6h-6zM1506 570h6v6h-6zM1398 588h6v6h-6zM1506 594h6v6h-6zM1632 594h6v6h-6zM1398 618h6v6h-6zM1398 624h6v6h-6zM1518 624h6v6h-6zM1404 630h6v6h-6zM1248 648h18v6h-18zM1422 648h6v6h-6zM1548 648h12v6h-12zM1572 648h18v6h-18zM1428 654h6v6h-6zM1434 660h6v6h-6zM1386 666h54v6h-54zM1296 672h6v6h-6z"/><path fill="#a80000" d="M1332 306h12v6h-12zM1314 312h6v6h-6zM1356 312h6v6h-6zM1302 318h12v6h-12zM1296 324h12v6h-12zM1374 324h6v6h-6zM1458 324h84v6h-84zM1296 330h6v6h-6zM1380 330h6v6h-6zM1458 330h18v6h-18zM1530 330h18v6h-18zM1290 336h12v6h-12zM1386 336h6v6h-6zM1458 336h12v6h-12zM1536 336h12v6h-12zM1290 342h12v6h-12zM1386 342h6v6h-6zM1458 342h6v6h-6zM1542 342h6v6h-6zM1290 348h12v6h-12zM1386 348h6v6h-6zM1452 348h6v6h-6zM1290 354h18v6h-18zM1386 354h6v6h-6zM1452 354h6v6h-6zM1236 360h12v6h-12zM1290 360h24v6h-24zM1374 360h24v6h-24zM1440 360h12v6h-12zM1236 366h36v6h-36zM1284 366h114v6h-114zM1434 366h12v6h-12zM1236 372h156v6h-156zM1428 372h12v6h-12zM1236 378h144v6h-144zM1428 378h12v6h-12zM1236 384h126v6h-126zM1434 384h6v6h-6zM1560 384h6v6h-6zM1236 390h72v6h-72zM1440 390h6v6h-6zM1236 396h60v6h-60zM1446 396h12v6h-12zM1566 396h6v6h-6zM1236 402h48v6h-48zM1236 408h42v6h-42zM1236 414h30v6h-30zM1506 414h6v6h-6zM1566 414h6v6h-6zM1236 420h24v6h-24zM1518 420h6v6h-6zM1548 420h12v6h-12zM1236 426h18v6h-18zM1236 432h18v6h-18zM1236 438h12v6h-12zM1236 444h6v6h-6zM1236 462h12v6h-12zM1236 468h24v6h-24zM1236 474h48v6h-48zM1266 480h42v6h-42zM1290 486h24v6h-24zM1302 492h18v6h-18zM1308 498h12v6h-12zM1308 504h12v6h-12zM1314 510h12v6h-12zM1320 516h6v6h-6zM1326 522h6v6h-6zM1332 528h12v6h-12zM1344 534h30v6h-30zM1536 534h24v6h-24zM1362 540h18v6h-18zM1530 540h12v6h-12zM1572 540h12v6h-12zM1368 546h12v6h-12zM1524 546h6v6h-6zM1590 546h6v6h-6zM1374 552h12v6h-12zM1518 552h6v6h-6zM1602 552h6v6h-6zM1380 558h6v6h-6zM1518 558h6v6h-6zM1608 558h6v6h-6zM1386 564h6v6h-6zM1512 564h6v6h-6zM1386 570h6v6h-6zM1512 570h6v6h-6zM1614 570h6v6h-6zM1386 576h12v6h-12zM1506 576h6v6h-6zM1620 576h6v6h-6zM1392 582h6v6h-6zM1506 582h6v6h-6zM1386 588h12v6h-12zM1506 588h6v6h-6zM1626 588h6v6h-6zM1386 594h12v6h-12zM1386 600h12v6h-12zM1512 600h6v6h-6zM1632 600h6v6h-6zM1380 606h18v6h-18zM1632 606h6v6h-6zM1380 612h18v6h-18zM1518 612h6v6h-6zM1380 618h18v6h-18zM1518 618h6v6h-6zM1386 624h12v6h-12zM1386 630h18v6h-18zM1386 636h24v6h-24zM1602 636h6v6h-6zM1242 642h18v6h-18zM1392 642h24v6h-24zM1524 642h6v6h-6zM1596 642h6v6h-6zM1236 648h12v6h-12zM1266 648h12v6h-12zM1392 648h30v6h-30zM1524 648h24v6h-24zM1278 654h6v6h-6zM1398 654h30v6h-30zM1290 660h6v6h-6zM1374 660h60v6h-60zM1296 666h6v6h-6zM1344 666h42v6h-42zM1302 672h12v6h-12zM1320 672h30v6h-30z"/><path fill="#b00800" d="M1302 312h12v6h-12zM1290 318h12v6h-12zM1452 318h18v6h-18zM1500 318h24v6h-24zM1284 324h12v6h-12zM1380 324h6v6h-6zM1446 324h12v6h-12zM1542 324h6v6h-6zM1278 330h12v6h-12zM1386 330h6v6h-6zM1446 330h6v6h-6zM1548 330h6v6h-6zM1272 336h18v6h-18zM1392 336h6v6h-6zM1440 336h12v6h-12zM1548 336h6v6h-6zM1236 342h18v6h-18zM1260 342h24v6h-24zM1398 342h6v6h-6zM1440 342h12v6h-12zM1548 342h6v6h-6zM1236 348h48v6h-48zM1398 348h6v6h-6zM1440 348h12v6h-12zM1248 354h36v6h-36zM1398 354h12v6h-12zM1434 354h12v6h-12zM1404 360h36v6h-36zM1410 366h18v6h-18zM1554 372h6v6h-6zM1752 372h42v6h-42zM1398 378h18v6h-18zM1752 378h6v6h-6zM1794 378h6v6h-6zM1374 384h18v6h-18zM1416 384h12v6h-12zM1746 384h12v6h-12zM1794 384h6v6h-6zM1362 390h12v6h-12zM1434 390h6v6h-6zM1746 390h6v6h-6zM1794 390h6v6h-6zM1302 396h54v6h-54zM1746 396h6v6h-6zM1794 396h6v6h-6zM1290 402h12v6h-12zM1476 402h6v6h-6zM1572 402h6v6h-6zM1746 402h6v6h-6zM1794 402h6v6h-6zM1278 408h12v6h-12zM1488 408h6v6h-6zM1746 408h6v6h-6zM1788 408h12v6h-12zM1272 414h6v6h-6zM1500 414h6v6h-6zM1752 414h6v6h-6zM1788 414h6v6h-6zM1266 420h6v6h-6zM1512 420h6v6h-6zM1566 420h12v6h-12zM1752 420h12v6h-12zM1782 420h12v6h-12zM1260 426h6v6h-6zM1530 426h24v6h-24zM1758 426h30v6h-30zM1254 432h6v6h-6zM1764 432h12v6h-12zM1248 438h6v6h-6zM1242 450h6v6h-6zM1242 456h6v6h-6zM1254 462h6v6h-6zM1266 468h6v6h-6zM1290 474h6v6h-6zM1320 498h6v6h-6zM1320 504h6v6h-6zM1350 528h12v6h-12zM1530 528h30v6h-30zM1380 534h6v6h-6zM1524 534h6v6h-6zM1566 534h6v6h-6zM1518 540h6v6h-6zM1584 540h6v6h-6zM1386 546h6v6h-6zM1518 546h6v6h-6zM1386 552h6v6h-6zM1512 552h6v6h-6zM1608 552h6v6h-6zM1512 558h6v6h-6zM1392 564h6v6h-6zM1506 564h6v6h-6zM1398 576h6v6h-6zM1500 576h6v6h-6zM1398 582h6v6h-6zM1500 582h6v6h-6zM1626 582h6v6h-6zM1500 588h6v6h-6zM1398 594h12v6h-12zM1398 600h6v6h-6zM1398 606h6v6h-6zM1512 606h6v6h-6zM1398 612h12v6h-12zM1632 612h6v6h-6zM1404 618h6v6h-6zM1626 618h6v6h-6zM1404 624h6v6h-6zM1620 624h6v6h-6zM1410 630h6v6h-6zM1518 630h6v6h-6zM1410 636h12v6h-12zM1518 636h6v6h-6zM1416 642h12v6h-12zM1518 642h6v6h-6zM1428 648h12v6h-12zM1518 648h6v6h-6zM1560 648h12v6h-12zM1590 648h6v6h-6zM1236 654h6v6h-6zM1434 654h6v6h-6zM1284 660h6v6h-6zM1440 660h6v6h-6zM1290 666h6v6h-6zM1440 666h18v6h-18zM1350 672h12v6h-12zM1440 672h42v6h-42zM1302 678h24v6h-24zM1452 678h42v6h-42zM1464 684h24v6h-24z"/><path fill="#a00000" d="M1320 312h6v6h-6zM1350 312h6v6h-6zM1314 318h6v6h-6zM1362 318h6v6h-6zM1308 324h6v6h-6zM1368 324h6v6h-6zM1302 330h6v6h-6zM1374 330h6v6h-6zM1476 330h54v6h-54zM1302 336h6v6h-6zM1380 336h6v6h-6zM1470 336h18v6h-18zM1524 336h12v6h-12zM1302 342h6v6h-6zM1380 342h6v6h-6zM1464 342h6v6h-6zM1536 342h6v6h-6zM1302 348h12v6h-12zM1380 348h6v6h-6zM1458 348h6v6h-6zM1542 348h6v6h-6zM1308 354h12v6h-12zM1374 354h12v6h-12zM1458 354h6v6h-6zM1542 354h6v6h-6zM1314 360h60v6h-60zM1452 360h6v6h-6zM1446 366h6v6h-6zM1440 372h6v6h-6zM1440 378h6v6h-6zM1554 378h6v6h-6zM1440 384h6v6h-6zM1446 390h6v6h-6zM1560 390h6v6h-6zM1458 396h6v6h-6zM1482 402h6v6h-6zM1566 402h6v6h-6zM1494 408h6v6h-6zM1566 408h6v6h-6zM1560 414h6v6h-6zM1524 420h24v6h-24zM1236 480h30v6h-30zM1236 486h54v6h-54zM1236 492h66v6h-66zM1236 498h72v6h-72zM1236 504h72v6h-72zM1236 510h78v6h-78zM1236 516h84v6h-84zM1236 522h90v6h-90zM1236 528h60v6h-60zM1314 528h18v6h-18zM1236 534h54v6h-54zM1326 534h18v6h-18zM1236 540h48v6h-48zM1332 540h30v6h-30zM1542 540h30v6h-30zM1236 546h42v6h-42zM1344 546h24v6h-24zM1530 546h12v6h-12zM1572 546h18v6h-18zM1236 552h42v6h-42zM1356 552h18v6h-18zM1524 552h12v6h-12zM1590 552h12v6h-12zM1236 558h36v6h-36zM1368 558h12v6h-12zM1524 558h6v6h-6zM1602 558h6v6h-6zM1236 564h36v6h-36zM1374 564h12v6h-12zM1518 564h6v6h-6zM1602 564h12v6h-12zM1236 570h30v6h-30zM1380 570h6v6h-6zM1518 570h6v6h-6zM1608 570h6v6h-6zM1236 576h30v6h-30zM1380 576h6v6h-6zM1512 576h6v6h-6zM1614 576h6v6h-6zM1236 582h30v6h-30zM1380 582h12v6h-12zM1512 582h6v6h-6zM1620 582h6v6h-6zM1236 588h30v6h-30zM1374 588h12v6h-12zM1512 588h6v6h-6zM1236 594h30v6h-30zM1368 594h18v6h-18zM1512 594h6v6h-6zM1626 594h6v6h-6zM1236 600h30v6h-30zM1356 600h30v6h-30zM1518 600h6v6h-6zM1236 606h30v6h-30zM1350 606h30v6h-30zM1518 606h6v6h-6zM1236 612h30v6h-30zM1350 612h30v6h-30zM1626 612h6v6h-6zM1236 618h30v6h-30zM1350 618h30v6h-30zM1524 618h6v6h-6zM1620 618h6v6h-6zM1236 624h30v6h-30zM1344 624h42v6h-42zM1524 624h6v6h-6zM1614 624h6v6h-6zM1236 630h36v6h-36zM1344 630h42v6h-42zM1524 630h6v6h-6zM1608 630h6v6h-6zM1236 636h36v6h-36zM1344 636h42v6h-42zM1524 636h6v6h-6zM1236 642h6v6h-6zM1260 642h18v6h-18zM1338 642h54v6h-54zM1530 642h12v6h-12zM1590 642h6v6h-6zM1278 648h6v6h-6zM1338 648h54v6h-54zM1284 654h6v6h-6zM1332 654h66v6h-66zM1296 660h6v6h-6zM1326 660h48v6h-48zM1302 666h42v6h-42zM1314 672h6v6h-6z"/><path fill="#980000" d="M1326 312h6v6h-6zM1344 312h6v6h-6zM1320 318h6v6h-6zM1356 318h6v6h-6zM1314 324h6v6h-6zM1362 324h6v6h-6zM1308 330h6v6h-6zM1368 330h6v6h-6zM1308 336h6v6h-6zM1374 336h6v6h-6zM1488 336h36v6h-36zM1308 342h6v6h-6zM1374 342h6v6h-6zM1470 342h6v6h-6zM1314 348h6v6h-6zM1374 348h6v6h-6zM1464 348h6v6h-6zM1320 354h12v6h-12zM1356 354h18v6h-18zM1458 360h6v6h-6zM1542 360h6v6h-6zM1452 366h6v6h-6zM1446 372h6v6h-6zM1548 372h6v6h-6zM1446 378h6v6h-6zM1446 384h6v6h-6zM1464 396h6v6h-6zM1560 408h6v6h-6zM1512 414h6v6h-6zM1554 414h6v6h-6zM1296 528h18v6h-18zM1290 534h36v6h-36zM1284 540h18v6h-18zM1314 540h18v6h-18zM1278 546h12v6h-12zM1326 546h18v6h-18zM1542 546h30v6h-30zM1278 552h6v6h-6zM1338 552h18v6h-18zM1536 552h54v6h-54zM1272 558h12v6h-12zM1356 558h12v6h-12zM1530 558h72v6h-72zM1272 564h6v6h-6zM1368 564h6v6h-6zM1524 564h24v6h-24zM1590 564h12v6h-12zM1266 570h12v6h-12zM1374 570h6v6h-6zM1524 570h18v6h-18zM1602 570h6v6h-6zM1266 576h6v6h-6zM1374 576h6v6h-6zM1518 576h18v6h-18zM1608 576h6v6h-6zM1266 582h6v6h-6zM1374 582h6v6h-6zM1518 582h12v6h-12zM1614 582h6v6h-6zM1266 588h6v6h-6zM1362 588h12v6h-12zM1518 588h12v6h-12zM1620 588h6v6h-6zM1266 594h6v6h-6zM1356 594h12v6h-12zM1518 594h12v6h-12zM1266 600h6v6h-6zM1344 600h12v6h-12zM1524 600h6v6h-6zM1626 600h6v6h-6zM1266 606h6v6h-6zM1344 606h6v6h-6zM1524 606h6v6h-6zM1626 606h6v6h-6zM1266 612h6v6h-6zM1338 612h12v6h-12zM1524 612h6v6h-6zM1266 618h6v6h-6zM1338 618h12v6h-12zM1266 624h12v6h-12zM1338 624h6v6h-6zM1530 624h6v6h-6zM1272 630h6v6h-6zM1338 630h6v6h-6zM1530 630h6v6h-6zM1272 636h6v6h-6zM1332 636h12v6h-12zM1530 636h12v6h-12zM1596 636h6v6h-6zM1278 642h6v6h-6zM1332 642h6v6h-6zM1542 642h48v6h-48zM1284 648h6v6h-6zM1326 648h12v6h-12zM1290 654h12v6h-12zM1314 654h18v6h-18zM1302 660h24v6h-24z"/><path fill="#900000" d="M1332 312h12v6h-12zM1350 318h6v6h-6zM1320 324h6v6h-6zM1314 330h6v6h-6zM1314 336h6v6h-6zM1368 336h6v6h-6zM1314 342h6v6h-6zM1368 342h6v6h-6zM1476 342h6v6h-6zM1530 342h6v6h-6zM1320 348h6v6h-6zM1362 348h12v6h-12zM1536 348h6v6h-6zM1332 354h24v6h-24zM1464 354h6v6h-6zM1542 366h6v6h-6zM1452 372h6v6h-6zM1452 390h6v6h-6zM1470 396h6v6h-6zM1560 396h6v6h-6zM1560 402h6v6h-6zM1548 414h6v6h-6zM1302 540h12v6h-12zM1290 546h12v6h-12zM1314 546h12v6h-12zM1284 552h6v6h-6zM1332 552h6v6h-6zM1344 558h12v6h-12zM1278 564h6v6h-6zM1356 564h12v6h-12zM1548 564h42v6h-42zM1368 570h6v6h-6zM1542 570h60v6h-60zM1272 576h6v6h-6zM1368 576h6v6h-6zM1536 576h18v6h-18zM1602 576h6v6h-6zM1272 582h6v6h-6zM1362 582h12v6h-12zM1530 582h12v6h-12zM1272 588h6v6h-6zM1356 588h6v6h-6zM1530 588h6v6h-6zM1272 594h6v6h-6zM1344 594h12v6h-12zM1530 594h6v6h-6zM1272 600h6v6h-6zM1338 600h6v6h-6zM1272 606h6v6h-6zM1338 606h6v6h-6zM1272 612h6v6h-6zM1530 612h6v6h-6zM1272 618h6v6h-6zM1332 618h6v6h-6zM1530 618h6v6h-6zM1332 624h6v6h-6zM1536 624h6v6h-6zM1278 630h6v6h-6zM1332 630h6v6h-6zM1536 630h12v6h-12zM1602 630h6v6h-6zM1278 636h6v6h-6zM1326 636h6v6h-6zM1542 636h18v6h-18zM1590 636h6v6h-6zM1284 642h6v6h-6zM1320 642h12v6h-12zM1290 648h12v6h-12zM1314 648h12v6h-12zM1302 654h12v6h-12z"/><path fill="#880000" d="M1326 318h6v6h-6zM1356 324h6v6h-6zM1320 330h6v6h-6zM1362 330h6v6h-6zM1320 336h6v6h-6zM1362 336h6v6h-6zM1320 342h6v6h-6zM1362 342h6v6h-6zM1326 348h36v6h-36zM1470 348h6v6h-6zM1458 366h6v6h-6zM1554 384h6v6h-6zM1500 408h6v6h-6zM1518 414h6v6h-6zM1302 546h12v6h-12zM1290 552h6v6h-6zM1326 552h6v6h-6zM1284 558h6v6h-6zM1338 558h6v6h-6zM1278 570h6v6h-6zM1362 570h6v6h-6zM1278 576h6v6h-6zM1362 576h6v6h-6zM1554 576h12v6h-12zM1596 576h6v6h-6zM1542 582h6v6h-6zM1608 582h6v6h-6zM1350 588h6v6h-6zM1536 588h6v6h-6zM1620 594h6v6h-6zM1530 600h6v6h-6zM1332 606h6v6h-6zM1530 606h6v6h-6zM1332 612h6v6h-6zM1620 612h6v6h-6zM1278 624h6v6h-6zM1326 630h6v6h-6zM1284 636h6v6h-6zM1560 636h6v6h-6zM1290 642h6v6h-6zM1302 648h12v6h-12z"/><path fill="#800000" d="M1332 318h18v6h-18zM1326 324h6v6h-6zM1350 324h6v6h-6zM1326 330h6v6h-6zM1356 330h6v6h-6zM1326 336h6v6h-6zM1326 342h12v6h-12zM1356 342h6v6h-6zM1482 342h6v6h-6zM1524 342h6v6h-6zM1452 378h6v6h-6zM1452 384h6v6h-6zM1488 402h6v6h-6zM1554 408h6v6h-6zM1542 414h6v6h-6zM1296 552h12v6h-12zM1314 552h12v6h-12zM1290 558h6v6h-6zM1332 558h6v6h-6zM1284 564h6v6h-6zM1350 564h6v6h-6zM1356 570h6v6h-6zM1566 576h6v6h-6zM1590 576h6v6h-6zM1278 582h6v6h-6zM1356 582h6v6h-6zM1548 582h6v6h-6zM1278 588h6v6h-6zM1614 588h6v6h-6zM1278 594h6v6h-6zM1338 594h6v6h-6zM1536 594h6v6h-6zM1278 600h6v6h-6zM1332 600h6v6h-6zM1278 606h6v6h-6zM1278 612h6v6h-6zM1278 618h6v6h-6zM1536 618h6v6h-6zM1326 624h6v6h-6zM1542 624h6v6h-6zM1608 624h6v6h-6zM1548 630h6v6h-6zM1320 636h6v6h-6zM1566 636h24v6h-24zM1296 642h6v6h-6zM1308 642h12v6h-12z"/><path fill="#780000" d="M1332 324h18v6h-18zM1332 330h6v6h-6zM1350 330h6v6h-6zM1332 336h12v6h-12zM1350 336h12v6h-12zM1338 342h18v6h-18zM1464 360h6v6h-6zM1458 390h6v6h-6zM1524 414h6v6h-6zM1536 414h6v6h-6zM1308 552h6v6h-6zM1344 564h6v6h-6zM1284 570h6v6h-6zM1356 576h6v6h-6zM1572 576h18v6h-18zM1344 588h6v6h-6zM1542 588h6v6h-6zM1620 600h6v6h-6zM1326 612h6v6h-6zM1536 612h6v6h-6zM1326 618h6v6h-6zM1614 618h6v6h-6zM1284 630h6v6h-6zM1320 630h6v6h-6zM1314 636h6v6h-6zM1302 642h6v6h-6z"/><path fill="#700000" d="M1338 330h12v6h-12zM1344 336h6v6h-6zM1488 342h6v6h-6zM1518 342h6v6h-6zM1536 354h6v6h-6zM1548 378h6v6h-6zM1554 390h6v6h-6zM1476 396h6v6h-6zM1530 414h6v6h-6zM1296 558h6v6h-6zM1326 558h6v6h-6zM1350 582h6v6h-6zM1554 582h6v6h-6zM1602 582h6v6h-6zM1536 600h6v6h-6zM1326 606h6v6h-6zM1536 606h6v6h-6zM1620 606h6v6h-6zM1554 630h6v6h-6zM1290 636h6v6h-6z"/><path fill="#600000" d="M1494 342h6v6h-6zM1476 348h6v6h-6zM1470 354h6v6h-6zM1506 408h6v6h-6zM1302 558h18v6h-18zM1350 576h6v6h-6zM1560 582h6v6h-6zM1548 588h6v6h-6zM1542 594h6v6h-6zM1326 600h6v6h-6zM1284 612h6v6h-6zM1284 618h6v6h-6zM1320 618h6v6h-6zM1542 618h6v6h-6zM1548 624h6v6h-6zM1314 630h6v6h-6zM1560 630h6v6h-6zM1296 636h12v6h-12z"/><path fill="#500000" d="M1500 342h12v6h-12zM1464 390h6v6h-6zM1296 564h6v6h-6zM1596 582h6v6h-6zM1608 588h6v6h-6zM1326 594h6v6h-6zM1614 594h6v6h-6zM1320 606h6v6h-6z"/><path fill="#580000" d="M1512 342h6v6h-6zM1530 348h6v6h-6zM1536 360h6v6h-6zM1464 366h6v6h-6zM1458 378h6v6h-6zM1458 384h6v6h-6zM1554 396h6v6h-6zM1554 402h6v6h-6zM1548 408h6v6h-6zM1332 564h6v6h-6zM1290 570h6v6h-6zM1344 570h6v6h-6zM1344 582h6v6h-6zM1320 612h6v6h-6zM1290 630h6v6h-6z"/><path fill="#200000" d="M1482 348h6v6h-6zM1470 366h6v6h-6zM1464 384h6v6h-6zM1302 570h6v6h-6zM1326 570h6v6h-6zM1332 576h6v6h-6zM1296 582h6v6h-6zM1320 588h6v6h-6zM1602 588h6v6h-6zM1314 594h6v6h-6zM1302 600h12v6h-12zM1302 606h12v6h-12zM1614 606h6v6h-6zM1296 612h6v6h-6zM1308 612h6v6h-6zM1296 618h6v6h-6zM1308 618h6v6h-6zM1608 618h6v6h-6zM1302 624h6v6h-6z"/><path fill="#000000" d="M1488 348h36v6h-36zM1482 354h48v6h-48zM1476 360h60v6h-60zM1476 366h60v6h-60zM1470 372h66v6h-66zM1470 378h72v6h-72zM1470 384h78v6h-78zM1476 390h72v6h-72zM1488 396h60v6h-60zM1506 402h42v6h-42zM1314 576h6v6h-6zM1566 588h36v6h-36zM1554 594h54v6h-54zM1554 600h60v6h-60zM1548 606h66v6h-66zM1554 612h60v6h-60zM1554 618h54v6h-54zM1566 624h36v6h-36z"/><path fill="#180000" d="M1524 348h6v6h-6zM1476 354h6v6h-6zM1464 378h6v6h-6zM1542 378h6v6h-6zM1470 390h6v6h-6zM1548 402h6v6h-6zM1308 570h6v6h-6zM1320 570h6v6h-6zM1326 582h6v6h-6zM1302 588h6v6h-6zM1302 594h12v6h-12zM1302 612h6v6h-6zM1302 618h6v6h-6z"/><path fill="#100000" d="M1530 354h6v6h-6zM1536 372h6v6h-6zM1548 390h6v6h-6zM1518 408h6v6h-6zM1536 408h6v6h-6zM1314 570h6v6h-6zM1302 576h6v6h-6zM1326 576h6v6h-6zM1302 582h6v6h-6zM1308 588h12v6h-12zM1560 588h6v6h-6zM1608 594h6v6h-6zM1560 624h6v6h-6z"/><path fill="#380000" d="M1470 360h6v6h-6zM1302 564h6v6h-6zM1320 564h6v6h-6zM1296 570h6v6h-6zM1590 582h6v6h-6zM1542 606h6v6h-6zM1290 612h6v6h-6zM1314 612h6v6h-6zM1614 612h6v6h-6zM1290 618h6v6h-6zM1314 618h6v6h-6zM1602 624h6v6h-6zM1302 630h6v6h-6z"/><path fill="#480000" d="M1536 366h6v6h-6zM1290 576h6v6h-6zM1344 576h6v6h-6zM1332 588h6v6h-6zM1290 594h6v6h-6zM1290 600h6v6h-6zM1314 624h6v6h-6zM1308 630h6v6h-6zM1590 630h6v6h-6z"/><path fill="#680000" d="M1458 372h6v6h-6zM1542 372h6v6h-6zM1320 558h6v6h-6zM1290 564h6v6h-6zM1338 564h6v6h-6zM1350 570h6v6h-6zM1284 576h6v6h-6zM1284 582h6v6h-6zM1284 588h6v6h-6zM1338 588h6v6h-6zM1284 594h6v6h-6zM1332 594h6v6h-6zM1284 600h6v6h-6zM1284 606h6v6h-6zM1284 624h6v6h-6zM1320 624h6v6h-6zM1596 630h6v6h-6zM1308 636h6v6h-6z"/><path fill="#300000" d="M1464 372h6v6h-6zM1548 384h6v6h-6zM1482 396h6v6h-6zM1512 408h6v6h-6zM1308 564h12v6h-12zM1338 576h6v6h-6zM1572 582h6v6h-6zM1326 588h6v6h-6zM1554 588h6v6h-6zM1320 594h6v6h-6zM1314 606h6v6h-6zM1308 624h6v6h-6zM1554 624h6v6h-6zM1572 630h6v6h-6zM1584 630h6v6h-6z"/><path fill="#080000" d="M1548 396h6v6h-6zM1500 402h6v6h-6zM1524 408h12v6h-12zM1308 576h6v6h-6zM1320 576h6v6h-6zM1308 582h18v6h-18zM1548 600h6v6h-6zM1548 612h6v6h-6z"/><path fill="#400000" d="M1494 402h6v6h-6zM1326 564h6v6h-6zM1338 570h6v6h-6zM1290 582h6v6h-6zM1338 582h6v6h-6zM1566 582h6v6h-6zM1290 588h6v6h-6zM1320 600h6v6h-6zM1542 600h6v6h-6zM1290 606h6v6h-6zM1542 612h6v6h-6zM1290 624h6v6h-6zM1296 630h6v6h-6zM1566 630h6v6h-6z"/><path fill="#280000" d="M1542 408h6v6h-6zM1332 570h6v6h-6zM1296 576h6v6h-6zM1332 582h6v6h-6zM1578 582h12v6h-12zM1296 588h6v6h-6zM1296 594h6v6h-6zM1548 594h6v6h-6zM1296 600h6v6h-6zM1314 600h6v6h-6zM1614 600h6v6h-6zM1296 606h6v6h-6zM1548 618h6v6h-6zM1296 624h6v6h-6zM1578 630h6v6h-6z"/><path fill="#ffa850" d="M1494 744h6v6h-6zM1530 744h6v6h-6zM1482 750h6v6h-6zM1542 756h6v6h-6zM1542 762h6v6h-6zM1296 768h6v6h-6zM1320 768h6v6h-6zM1464 768h6v6h-6zM1626 768h12v6h-12zM1656 768h24v6h-24zM1284 774h6v6h-6zM1362 774h6v6h-6zM1446 774h24v6h-24zM1620 774h12v6h-12zM1668 774h18v6h-18zM1278 780h6v6h-6zM1422 780h48v6h-48zM1620 780h12v6h-12zM1668 780h18v6h-18zM1440 786h36v6h-36zM1620 786h12v6h-12zM1668 786h18v6h-18zM1908 786h12v6h-12zM1260 792h6v6h-6zM1452 792h24v6h-24zM1512 792h6v6h-6zM1620 792h6v6h-6zM1668 792h18v6h-18zM1908 792h12v6h-12zM1464 798h24v6h-24zM1500 798h6v6h-6zM1620 798h6v6h-6zM1668 798h18v6h-18zM1902 798h18v6h-18zM1470 804h24v6h-24zM1620 804h12v6h-12zM1662 804h18v6h-18zM1902 804h18v6h-18zM1476 810h6v6h-6zM1620 810h12v6h-12zM1650 810h24v6h-24zM1908 810h12v6h-12zM1620 816h54v6h-54zM1620 822h54v6h-54zM1458 828h6v6h-6zM1620 828h12v6h-12zM1650 828h30v6h-30z"/><path fill="#ffb060" d="M1500 744h6v6h-6zM1536 768h6v6h-6zM1290 774h6v6h-6zM1344 774h12v6h-12zM1476 774h6v6h-6zM1404 780h6v6h-6zM1416 786h12v6h-12zM1482 786h6v6h-6zM1266 792h6v6h-6zM1428 792h6v6h-6zM1488 792h6v6h-6zM1506 792h6v6h-6zM1440 798h6v6h-6zM1236 804h12v6h-12zM1446 804h12v6h-12zM1458 810h6v6h-6zM1464 816h6v6h-6zM1452 828h6v6h-6z"/><path fill="#ffb870" d="M1506 744h6v6h-6zM1536 756h6v6h-6zM1476 762h6v6h-6zM1536 762h6v6h-6zM1332 774h6v6h-6zM1392 780h6v6h-6zM1512 786h6v6h-6zM1272 792h6v6h-6zM1416 792h6v6h-6zM1266 798h6v6h-6zM1428 798h6v6h-6zM1236 810h18v6h-18zM1446 810h6v6h-6zM1452 816h6v6h-6zM1236 822h6v6h-6zM1242 828h6v6h-6z"/><path fill="#ffc078" d="M1512 744h6v6h-6zM1494 750h6v6h-6zM1530 750h6v6h-6zM1296 774h6v6h-6zM1320 774h12v6h-12zM1380 780h12v6h-12zM1488 780h6v6h-6zM1404 786h6v6h-6zM1422 798h6v6h-6zM1254 810h6v6h-6zM1440 810h6v6h-6zM1242 816h12v6h-12zM1446 816h6v6h-6zM1242 822h12v6h-12zM1452 822h6v6h-6zM1248 828h6v6h-6z"/><path fill="#ffc070" d="M1518 744h6v6h-6zM1482 756h6v6h-6zM1482 774h6v6h-6zM1494 786h6v6h-6zM1260 804h6v6h-6zM1434 804h6v6h-6zM1236 816h6v6h-6zM1446 828h6v6h-6z"/><path fill="#ffb868" d="M1524 744h6v6h-6zM1488 750h6v6h-6zM1476 768h6v6h-6zM1338 774h6v6h-6zM1530 774h6v6h-6zM1284 780h6v6h-6zM1398 780h6v6h-6zM1482 780h6v6h-6zM1524 780h6v6h-6zM1278 786h6v6h-6zM1410 786h6v6h-6zM1488 786h6v6h-6zM1422 792h6v6h-6zM1500 792h6v6h-6zM1260 798h6v6h-6zM1434 798h6v6h-6zM1248 804h12v6h-12zM1440 804h6v6h-6zM1452 810h6v6h-6zM1458 816h6v6h-6zM1458 822h6v6h-6zM1236 828h6v6h-6z"/><path fill="#ffc888" d="M1500 750h6v6h-6zM1488 756h6v6h-6zM1482 762h6v6h-6zM1308 774h6v6h-6zM1488 774h6v6h-6zM1350 780h18v6h-18zM1494 780h6v6h-6zM1392 786h6v6h-6zM1404 792h6v6h-6zM1410 798h6v6h-6zM1272 804h6v6h-6zM1416 804h12v6h-12zM1266 810h6v6h-6zM1428 810h6v6h-6zM1260 816h6v6h-6zM1434 816h6v6h-6zM1260 822h6v6h-6zM1440 822h6v6h-6zM1260 828h6v6h-6zM1428 828h12v6h-12z"/><path fill="#ffc890" d="M1506 750h6v6h-6zM1524 750h6v6h-6zM1530 756h6v6h-6zM1530 762h6v6h-6zM1296 780h6v6h-6zM1332 780h18v6h-18zM1500 780h6v6h-6zM1512 780h6v6h-6zM1290 786h6v6h-6zM1368 786h24v6h-24zM1284 792h6v6h-6zM1392 792h12v6h-12zM1278 798h6v6h-6zM1398 798h12v6h-12zM1410 804h6v6h-6zM1272 810h6v6h-6zM1416 810h12v6h-12zM1266 816h6v6h-6zM1422 816h12v6h-12zM1266 822h6v6h-6zM1422 822h18v6h-18zM1266 828h6v6h-6zM1410 828h18v6h-18z"/><path fill="#ffd098" d="M1512 750h12v6h-12zM1494 756h6v6h-6zM1488 762h6v6h-6zM1488 768h6v6h-6zM1524 768h6v6h-6zM1494 774h6v6h-6zM1518 774h6v6h-6zM1302 780h6v6h-6zM1314 780h18v6h-18zM1506 780h6v6h-6zM1296 786h6v6h-6zM1338 786h30v6h-30zM1290 792h6v6h-6zM1344 792h42v6h-42zM1284 798h6v6h-6zM1344 798h54v6h-54zM1278 804h6v6h-6zM1344 804h60v6h-60zM1278 810h6v6h-6zM1344 810h72v6h-72zM1272 816h6v6h-6zM1344 816h78v6h-78zM1272 822h6v6h-6zM1344 822h78v6h-78zM1272 828h6v6h-6zM1338 828h66v6h-66z"/><path fill="#ffb058" d="M1536 750h6v6h-6zM1476 756h6v6h-6zM1470 762h6v6h-6zM1302 768h18v6h-18zM1470 768h6v6h-6zM1638 768h12v6h-12zM1356 774h6v6h-6zM1470 774h6v6h-6zM1632 774h30v6h-30zM1410 780h12v6h-12zM1470 780h12v6h-12zM1632 780h36v6h-36zM1272 786h6v6h-6zM1428 786h12v6h-12zM1476 786h6v6h-6zM1518 786h6v6h-6zM1632 786h36v6h-36zM1434 792h18v6h-18zM1482 792h6v6h-6zM1632 792h36v6h-36zM1236 798h24v6h-24zM1446 798h18v6h-18zM1488 798h12v6h-12zM1632 798h30v6h-30zM1458 804h12v6h-12zM1632 804h30v6h-30zM1464 810h12v6h-12zM1632 810h18v6h-18zM1470 816h6v6h-6zM1464 822h6v6h-6zM1632 828h18v6h-18z"/><path fill="#ffd0a0" d="M1500 756h12v6h-12zM1518 756h12v6h-12zM1494 762h6v6h-6zM1524 762h6v6h-6zM1494 768h6v6h-6zM1518 768h6v6h-6zM1500 774h18v6h-18zM1308 780h6v6h-6zM1302 786h36v6h-36zM1296 792h48v6h-48zM1290 798h54v6h-54zM1284 804h60v6h-60zM1284 810h60v6h-60zM1278 816h66v6h-66zM1278 822h66v6h-66zM1278 828h60v6h-60z"/><path fill="#ffd8a8" d="M1512 756h6v6h-6zM1500 762h24v6h-24zM1500 768h18v6h-18z"/><path fill="#ffc080" d="M1482 768h6v6h-6zM1530 768h6v6h-6zM1302 774h6v6h-6zM1314 774h6v6h-6zM1524 774h6v6h-6zM1290 780h6v6h-6zM1374 780h6v6h-6zM1518 780h6v6h-6zM1284 786h6v6h-6zM1398 786h6v6h-6zM1500 786h12v6h-12zM1278 792h6v6h-6zM1410 792h6v6h-6zM1272 798h6v6h-6zM1416 798h6v6h-6zM1266 804h6v6h-6zM1428 804h6v6h-6zM1260 810h6v6h-6zM1434 810h6v6h-6zM1254 816h6v6h-6zM1254 822h6v6h-6zM1446 822h6v6h-6zM1254 828h6v6h-6zM1440 828h6v6h-6z"/><path fill="#ffb050" d="M1650 768h6v6h-6zM1662 774h6v6h-6zM1476 792h6v6h-6zM1626 792h6v6h-6zM1626 798h6v6h-6zM1662 798h6v6h-6z"/><path fill="#ffc880" d="M1368 780h6v6h-6zM1440 816h6v6h-6z"/><path fill="#ffd090" d="M1386 792h6v6h-6zM1404 804h6v6h-6zM1404 828h6v6h-6z"/><path fill="#ffb860" d="M1494 792h6v6h-6z"/></g>
</g>
</g>
<path d="M495.9 237V822M779.5 237V822M1063.0 237V822M1346.5 237V822M1630.1 237V822M215 361.7H1911M215 529.3H1911M215 696.6H1911" stroke="#fff" stroke-width="5" fill="none"/>
<circle cx="1515.4" cy="371.4" r="87.2" fill="none" stroke="#fff" stroke-width="1.8"/>
<circle cx="1312.4" cy="594.2" r="87.2" fill="none" stroke="#fff" stroke-width="1.8"/>
<circle cx="1582.4" cy="606.0" r="87.2" fill="none" stroke="#fff" stroke-width="1.8"/>
<text x="1290.5" y="498.7" font-family="Liberation Sans" font-size="37.4" fill="#fff" textLength="355" lengthAdjust="spacingAndGlyphs">FARSIDE SUNSPOTS</text>
<rect x="212.5" y="233.9" width="1701" height="591.1" fill="none" stroke="#000" stroke-width="5.4"/>
<g font-family="Liberation Serif" font-size="71.6" fill="#000" stroke="#000" stroke-width="1.8">
<text x="706.8" y="188" textLength="363" lengthAdjust="spacing">2025.11.20</text>
<text x="1112.8" y="188" textLength="178.8" lengthAdjust="spacing">00:00</text>
<text x="1332.7" y="188" textLength="84.1" lengthAdjust="spacingAndGlyphs">UT</text>
</g>
<g font-family="Liberation Sans" font-weight="bold" font-size="48" fill="#000" text-anchor="end">
<text x="192" y="251.2">60</text>
<text x="192" y="378.9">30</text>
<text x="192" y="546.5">0</text>
<text x="192" y="713.8">30</text>
<text x="192" y="842.2">60</text>
</g>
<path d="M106 693.6h26v6h-26zM106 822.0h26v6h-26z" fill="#000"/>
<g font-family="Liberation Sans" font-weight="bold" font-size="47.5" fill="#000" text-anchor="middle">
<text x="212.4" y="889.6">0</text>
<text x="495.9" y="889.6">60</text>
<text x="779.5" y="889.6">120</text>
<text x="1063.0" y="889.6">180</text>
<text x="1346.5" y="889.6">240</text>
<text x="1630.1" y="889.6">300</text>
<text x="1913.6" y="889.6">360</text>
</g>
<text transform="translate(102,706.5) rotate(-90)" font-family="Liberation Sans" font-weight="bold" font-size="55" textLength="345" lengthAdjust="spacingAndGlyphs">sin(latitude)</text>
<text x="904" y="950.8" font-family="Liberation Serif" font-size="70.8" stroke="#000" stroke-width="2.4" textLength="314" lengthAdjust="spacing">Longitude</text>
<defs><linearGradient id="g1" x1="0" x2="1" y1="0" y2="0"><stop offset="0.0000" stop-color="#000000"/><stop offset="0.0470" stop-color="#1a0000"/><stop offset="0.0940" stop-color="#3a0000"/><stop offset="0.1250" stop-color="#5a0000"/><stop offset="0.1650" stop-color="#780000"/><stop offset="0.2000" stop-color="#8c0000"/><stop offset="0.2350" stop-color="#990000"/><stop offset="0.2700" stop-color="#a20000"/><stop offset="0.3060" stop-color="#ac0000"/><stop offset="0.3410" stop-color="#b61000"/><stop offset="0.3880" stop-color="#c42000"/><stop offset="0.4350" stop-color="#d23000"/><stop offset="0.5000" stop-color="#e24400"/><stop offset="0.5470" stop-color="#ec5400"/><stop offset="0.5940" stop-color="#fa6800"/><stop offset="0.6290" stop-color="#ff7800"/><stop offset="0.6740" stop-color="#ff8a00"/><stop offset="0.7120" stop-color="#ff9a30"/><stop offset="0.7590" stop-color="#ffaa50"/><stop offset="0.8060" stop-color="#ffbb70"/><stop offset="0.8650" stop-color="#ffd09c"/><stop offset="0.9240" stop-color="#ffe2c0"/><stop offset="0.9710" stop-color="#fff8f0"/><stop offset="1.0000" stop-color="#ffffff"/></linearGradient></defs>
<rect x="321.0" y="908.7" width="485.3" height="55.6" fill="url(#g1)"/>
<rect x="319.3" y="907.0" width="488.7" height="59.0" fill="none" stroke="#000" stroke-width="5.4" rx="1.5"/>
<path d="M380.4 909.7v4.5M380.4 963.3v-4.5M441.5 909.7v10.0M441.5 963.3v-10.0M502.6 909.7v4.5M502.6 963.3v-4.5M563.6 909.7v10.0M563.6 963.3v-10.0M624.7 909.7v4.5M624.7 963.3v-4.5M685.8 909.7v10.0M685.8 963.3v-10.0M746.9 909.7v4.5M746.9 963.3v-4.5" stroke="#000" stroke-width="5.5" fill="none"/>
<defs><linearGradient id="g2" x1="0" x2="1" y1="0" y2="0"><stop offset="0.0000" stop-color="#900a18"/><stop offset="0.0600" stop-color="#c02010"/><stop offset="0.1400" stop-color="#ff4400"/><stop offset="0.2500" stop-color="#ff6a3a"/><stop offset="0.3700" stop-color="#ffa070"/><stop offset="0.4140" stop-color="#ffd0b0"/><stop offset="0.4141" stop-color="#ff7000"/><stop offset="0.4900" stop-color="#ffff00"/><stop offset="0.4901" stop-color="#a0a0a0"/><stop offset="0.5050" stop-color="#a0a0a0"/><stop offset="0.5051" stop-color="#008000"/><stop offset="0.5730" stop-color="#00ff00"/><stop offset="0.5731" stop-color="#c4c4ff"/><stop offset="0.7000" stop-color="#8090e0"/><stop offset="0.8000" stop-color="#4050c0"/><stop offset="0.8750" stop-color="#0020a0"/><stop offset="1.0000" stop-color="#000040"/></linearGradient></defs>
<rect x="1319.8" y="908.7" width="486.5" height="55.6" fill="url(#g2)"/>
<rect x="1318.1" y="907.0" width="489.9" height="59.0" fill="none" stroke="#000" stroke-width="5.4" rx="1.5"/>
<path d="M1379.3 909.7v4.5M1379.3 963.3v-4.5M1440.6 909.7v10.0M1440.6 963.3v-10.0M1501.8 909.7v4.5M1501.8 963.3v-4.5M1563.0 909.7v10.0M1563.0 963.3v-10.0M1624.3 909.7v4.5M1624.3 963.3v-4.5M1685.5 909.7v10.0M1685.5 963.3v-10.0M1746.8 909.7v4.5M1746.8 963.3v-4.5" stroke="#000" stroke-width="5.5" fill="none"/>
<g font-family="Liberation Serif" font-size="38" fill="#000" stroke="#000" stroke-width="0.9">
<text x="280.0" y="1017.3" textLength="77.7" lengthAdjust="spacingAndGlyphs">−4.8</text>
<text x="402.4" y="1017.3" textLength="77.6" lengthAdjust="spacingAndGlyphs">−2.4</text>
<text x="536.5" y="1017.3" textLength="51.5" lengthAdjust="spacingAndGlyphs">0.0</text>
<text x="659.0" y="1017.3" textLength="51.6" lengthAdjust="spacingAndGlyphs">2.4</text>
<text x="779.5" y="1017.3" textLength="53.0" lengthAdjust="spacingAndGlyphs">4.8</text>
<text x="1277.6" y="1017.3" textLength="80.0" lengthAdjust="spacingAndGlyphs">−1.0</text>
<text x="1400.0" y="1017.3" textLength="80.0" lengthAdjust="spacingAndGlyphs">−0.5</text>
<text x="1550.6" y="1017.3" textLength="21.0" lengthAdjust="spacingAndGlyphs">0</text>
<text x="1656.5" y="1017.3" textLength="54.0" lengthAdjust="spacingAndGlyphs">0.5</text>
<text x="1781.0" y="1017.3" textLength="52.0" lengthAdjust="spacingAndGlyphs">1.0</text>
</g>
<text x="205" y="955" font-family="Liberation Serif" font-size="44" fill="#000" stroke="#000" stroke-width="0.8" textLength="99" lengthAdjust="spacingAndGlyphs"><tspan font-style="italic">δτ</tspan>(s)</text>
<text x="1819" y="955" font-family="Liberation Serif" font-size="44" fill="#000" stroke="#000" stroke-width="0.8" textLength="113" lengthAdjust="spacingAndGlyphs">B(kG)</text>
</svg></body></html>
